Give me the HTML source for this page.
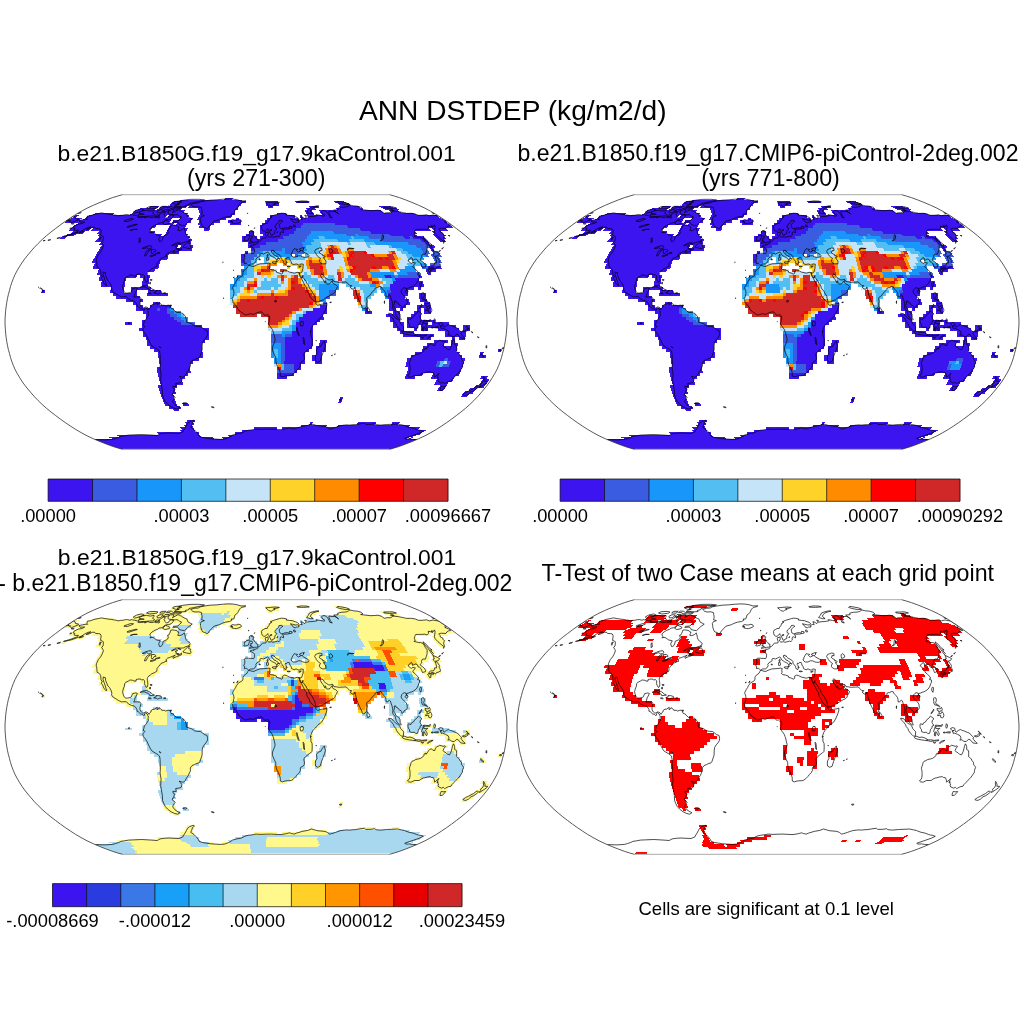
<!DOCTYPE html><html><head><meta charset="utf-8"><title>ANN DSTDEP</title><style>html,body{margin:0;padding:0;background:#fff}svg{display:block}text{font-family:"Liberation Sans",Arial,Helvetica,sans-serif;fill:#000}</style></head><body>
<svg width="1024" height="1024" viewBox="0 0 1024 1024">
<rect width="1024" height="1024" fill="#fff"/>
<defs>
<clipPath id="c0"><path d="M389.6 449.3L394.2 448.0L399.6 446.3L405.6 444.1L411.9 441.6L418.5 438.8L425.0 435.8L430.9 432.6L436.4 429.4L441.6 426.0L446.7 422.6L451.6 419.1L456.4 415.5L461.1 411.9L465.6 408.2L469.9 404.4L473.8 400.6L477.5 396.8L480.9 392.9L484.2 389.0L487.3 385.1L490.1 381.2L492.6 377.2L494.9 373.3L497.0 369.4L498.7 365.4L500.2 361.5L501.5 357.5L502.5 353.6L503.6 349.6L504.5 345.7L505.2 341.7L505.8 337.8L506.3 333.8L506.6 329.9L506.9 325.9L507.0 322.0L506.9 318.1L506.6 314.1L506.3 310.2L505.8 306.2L505.2 302.3L504.5 298.3L503.6 294.4L502.5 290.4L501.5 286.5L500.2 282.5L498.7 278.6L497.0 274.6L494.9 270.7L492.6 266.8L490.1 262.8L487.3 258.9L484.2 255.0L480.9 251.1L477.5 247.2L473.8 243.4L469.9 239.6L465.6 235.8L461.1 232.1L456.4 228.5L451.6 224.9L446.7 221.4L441.6 218.0L436.4 214.6L430.9 211.4L425.0 208.2L418.5 205.2L411.9 202.4L405.6 199.9L399.6 197.7L394.2 196.0L389.6 194.7L122.4 194.7L117.8 196.0L112.4 197.7L106.4 199.9L100.1 202.4L93.5 205.2L87.0 208.2L81.1 211.4L75.6 214.6L70.4 218.0L65.3 221.4L60.4 224.9L55.6 228.5L50.9 232.1L46.4 235.8L42.1 239.6L38.2 243.4L34.5 247.2L31.1 251.1L27.8 255.0L24.7 258.9L21.9 262.8L19.4 266.8L17.1 270.7L15.0 274.6L13.3 278.6L11.8 282.5L10.5 286.5L9.5 290.4L8.4 294.4L7.5 298.3L6.8 302.3L6.2 306.2L5.7 310.2L5.4 314.1L5.1 318.1L5.0 322.0L5.1 325.9L5.4 329.9L5.7 333.8L6.2 337.8L6.8 341.7L7.5 345.7L8.4 349.6L9.5 353.6L10.5 357.5L11.8 361.5L13.3 365.4L15.0 369.4L17.1 373.3L19.4 377.2L21.9 381.2L24.7 385.1L27.8 389.0L31.1 392.9L34.5 396.8L38.2 400.6L42.1 404.4L46.4 408.2L50.9 411.9L55.6 415.5L60.4 419.1L65.3 422.6L70.4 426.0L75.6 429.4L81.1 432.6L87.0 435.8L93.5 438.8L100.1 441.6L106.4 444.1L112.4 446.3L117.8 448.0L122.4 449.3z"/></clipPath>
<clipPath id="c1"><path d="M901.6 449.3L906.2 448.0L911.6 446.3L917.6 444.1L923.9 441.6L930.5 438.8L937.0 435.8L942.9 432.6L948.4 429.4L953.6 426.0L958.7 422.6L963.6 419.1L968.4 415.5L973.1 411.9L977.6 408.2L981.9 404.4L985.8 400.6L989.5 396.8L992.9 392.9L996.2 389.0L999.3 385.1L1002.1 381.2L1004.6 377.2L1006.9 373.3L1009.0 369.4L1010.7 365.4L1012.2 361.5L1013.5 357.5L1014.5 353.6L1015.6 349.6L1016.5 345.7L1017.2 341.7L1017.8 337.8L1018.3 333.8L1018.6 329.9L1018.9 325.9L1019.0 322.0L1018.9 318.1L1018.6 314.1L1018.3 310.2L1017.8 306.2L1017.2 302.3L1016.5 298.3L1015.6 294.4L1014.5 290.4L1013.5 286.5L1012.2 282.5L1010.7 278.6L1009.0 274.6L1006.9 270.7L1004.6 266.8L1002.1 262.8L999.3 258.9L996.2 255.0L992.9 251.1L989.5 247.2L985.8 243.4L981.9 239.6L977.6 235.8L973.1 232.1L968.4 228.5L963.6 224.9L958.7 221.4L953.6 218.0L948.4 214.6L942.9 211.4L937.0 208.2L930.5 205.2L923.9 202.4L917.6 199.9L911.6 197.7L906.2 196.0L901.6 194.7L634.4 194.7L629.8 196.0L624.4 197.7L618.4 199.9L612.1 202.4L605.5 205.2L599.0 208.2L593.1 211.4L587.6 214.6L582.4 218.0L577.3 221.4L572.4 224.9L567.6 228.5L562.9 232.1L558.4 235.8L554.1 239.6L550.2 243.4L546.5 247.2L543.1 251.1L539.8 255.0L536.7 258.9L533.9 262.8L531.4 266.8L529.1 270.7L527.0 274.6L525.3 278.6L523.8 282.5L522.5 286.5L521.5 290.4L520.4 294.4L519.5 298.3L518.8 302.3L518.2 306.2L517.7 310.2L517.4 314.1L517.1 318.1L517.0 322.0L517.1 325.9L517.4 329.9L517.7 333.8L518.2 337.8L518.8 341.7L519.5 345.7L520.4 349.6L521.5 353.6L522.5 357.5L523.8 361.5L525.3 365.4L527.0 369.4L529.1 373.3L531.4 377.2L533.9 381.2L536.7 385.1L539.8 389.0L543.1 392.9L546.5 396.8L550.2 400.6L554.1 404.4L558.4 408.2L562.9 411.9L567.6 415.5L572.4 419.1L577.3 422.6L582.4 426.0L587.6 429.4L593.1 432.6L599.0 435.8L605.5 438.8L612.1 441.6L618.4 444.1L624.4 446.3L629.8 448.0L634.4 449.3z"/></clipPath>
<clipPath id="c2"><path d="M389.6 854.3L394.2 853.0L399.6 851.3L405.6 849.1L411.9 846.6L418.5 843.8L425.0 840.8L430.9 837.6L436.4 834.4L441.6 831.0L446.7 827.6L451.6 824.1L456.4 820.5L461.1 816.9L465.6 813.2L469.9 809.4L473.8 805.6L477.5 801.8L480.9 797.9L484.2 794.0L487.3 790.1L490.1 786.2L492.6 782.2L494.9 778.3L497.0 774.4L498.7 770.4L500.2 766.5L501.5 762.5L502.5 758.6L503.6 754.6L504.5 750.7L505.2 746.7L505.8 742.8L506.3 738.8L506.6 734.9L506.9 730.9L507.0 727.0L506.9 723.1L506.6 719.1L506.3 715.2L505.8 711.2L505.2 707.3L504.5 703.3L503.6 699.4L502.5 695.4L501.5 691.5L500.2 687.5L498.7 683.6L497.0 679.6L494.9 675.7L492.6 671.8L490.1 667.8L487.3 663.9L484.2 660.0L480.9 656.1L477.5 652.2L473.8 648.4L469.9 644.6L465.6 640.8L461.1 637.1L456.4 633.5L451.6 629.9L446.7 626.4L441.6 623.0L436.4 619.6L430.9 616.4L425.0 613.2L418.5 610.2L411.9 607.4L405.6 604.9L399.6 602.7L394.2 601.0L389.6 599.7L122.4 599.7L117.8 601.0L112.4 602.7L106.4 604.9L100.1 607.4L93.5 610.2L87.0 613.2L81.1 616.4L75.6 619.6L70.4 623.0L65.3 626.4L60.4 629.9L55.6 633.5L50.9 637.1L46.4 640.8L42.1 644.6L38.2 648.4L34.5 652.2L31.1 656.1L27.8 660.0L24.7 663.9L21.9 667.8L19.4 671.8L17.1 675.7L15.0 679.6L13.3 683.6L11.8 687.5L10.5 691.5L9.5 695.4L8.4 699.4L7.5 703.3L6.8 707.3L6.2 711.2L5.7 715.2L5.4 719.1L5.1 723.1L5.0 727.0L5.1 730.9L5.4 734.9L5.7 738.8L6.2 742.8L6.8 746.7L7.5 750.7L8.4 754.6L9.5 758.6L10.5 762.5L11.8 766.5L13.3 770.4L15.0 774.4L17.1 778.3L19.4 782.2L21.9 786.2L24.7 790.1L27.8 794.0L31.1 797.9L34.5 801.8L38.2 805.6L42.1 809.4L46.4 813.2L50.9 816.9L55.6 820.5L60.4 824.1L65.3 827.6L70.4 831.0L75.6 834.4L81.1 837.6L87.0 840.8L93.5 843.8L100.1 846.6L106.4 849.1L112.4 851.3L117.8 853.0L122.4 854.3z"/></clipPath>
<clipPath id="c3"><path d="M901.6 854.3L906.2 853.0L911.6 851.3L917.6 849.1L923.9 846.6L930.5 843.8L937.0 840.8L942.9 837.6L948.4 834.4L953.6 831.0L958.7 827.6L963.6 824.1L968.4 820.5L973.1 816.9L977.6 813.2L981.9 809.4L985.8 805.6L989.5 801.8L992.9 797.9L996.2 794.0L999.3 790.1L1002.1 786.2L1004.6 782.2L1006.9 778.3L1009.0 774.4L1010.7 770.4L1012.2 766.5L1013.5 762.5L1014.5 758.6L1015.6 754.6L1016.5 750.7L1017.2 746.7L1017.8 742.8L1018.3 738.8L1018.6 734.9L1018.9 730.9L1019.0 727.0L1018.9 723.1L1018.6 719.1L1018.3 715.2L1017.8 711.2L1017.2 707.3L1016.5 703.3L1015.6 699.4L1014.5 695.4L1013.5 691.5L1012.2 687.5L1010.7 683.6L1009.0 679.6L1006.9 675.7L1004.6 671.8L1002.1 667.8L999.3 663.9L996.2 660.0L992.9 656.1L989.5 652.2L985.8 648.4L981.9 644.6L977.6 640.8L973.1 637.1L968.4 633.5L963.6 629.9L958.7 626.4L953.6 623.0L948.4 619.6L942.9 616.4L937.0 613.2L930.5 610.2L923.9 607.4L917.6 604.9L911.6 602.7L906.2 601.0L901.6 599.7L634.4 599.7L629.8 601.0L624.4 602.7L618.4 604.9L612.1 607.4L605.5 610.2L599.0 613.2L593.1 616.4L587.6 619.6L582.4 623.0L577.3 626.4L572.4 629.9L567.6 633.5L562.9 637.1L558.4 640.8L554.1 644.6L550.2 648.4L546.5 652.2L543.1 656.1L539.8 660.0L536.7 663.9L533.9 667.8L531.4 671.8L529.1 675.7L527.0 679.6L525.3 683.6L523.8 687.5L522.5 691.5L521.5 695.4L520.4 699.4L519.5 703.3L518.8 707.3L518.2 711.2L517.7 715.2L517.4 719.1L517.1 723.1L517.0 727.0L517.1 730.9L517.4 734.9L517.7 738.8L518.2 742.8L518.8 746.7L519.5 750.7L520.4 754.6L521.5 758.6L522.5 762.5L523.8 766.5L525.3 770.4L527.0 774.4L529.1 778.3L531.4 782.2L533.9 786.2L536.7 790.1L539.8 794.0L543.1 797.9L546.5 801.8L550.2 805.6L554.1 809.4L558.4 813.2L562.9 816.9L567.6 820.5L572.4 824.1L577.3 827.6L582.4 831.0L587.6 834.4L593.1 837.6L599.0 840.8L605.5 843.8L612.1 846.6L618.4 849.1L624.4 851.3L629.8 853.0L634.4 854.3z"/></clipPath>
</defs>
<g clip-path="url(#c0)">
<g shape-rendering="crispEdges"><path fill="#3c14f0" d="M120.7 449L391.3 449L389.6 450L122.4 450zM117.1 448L394.9 448L391.3 449L120.7 449zM113.0 447L399.0 447L394.9 448L117.1 448zM108.6 445L403.4 445L399.0 447L113.0 447zM103.9 444L408.1 444L403.4 445L108.6 445zM98.9 442L413.1 442L408.1 444L103.9 444zM93.9 439L418.1 439L413.1 442L98.9 442zM108.4 437L212.8 437L214.1 439L112.8 439zM222.1 437L410.0 437L405.4 439L223.1 439zM412.3 437L414.6 437L409.9 439L407.7 439zM116.2 435L199.7 435L201.2 437L120.0 437zM228.3 435L416.6 435L412.3 437L229.0 437zM156.7 432L198.3 432L199.7 435L159.2 435zM234.9 432L423.2 432L419.0 435L235.4 435zM179.4 430L194.4 430L195.8 432L181.1 432zM241.9 430L427.1 430L423.2 432L242.3 432zM180.2 427L193.0 427L194.4 430L181.9 430zM254 427h23v3h-23zM282.5 427L420.7 427L417.1 430L282.0 430zM183.9 425L191.7 425L193.0 427L185.4 427zM301.4 425L327.5 425L326.0 427L300.4 427zM338.0 425L411.1 425L407.9 427L336.3 427zM185.1 422L193.1 422L194.3 425L186.5 425zM310.3 422L313.0 422L311.8 425L309.2 425zM358.3 422L376.9 422L374.5 425L356.2 425zM392.9 422L400.9 422L398.0 425L390.2 425zM186.4 420L194.6 420L195.7 422L187.7 422zM172.7 409L178.5 409L179.7 411L174.0 411zM168.4 406L180.2 406L181.4 409L169.7 409zM164.1 403L176.1 403L177.3 406L165.4 406zM182.1 403L188.1 403L189.1 406L183.2 406zM162.9 400L175.0 400L176.1 403L164.1 403zM339.3 400L342.3 400L341.2 403L338.2 403zM161.7 397L174.0 397L175.0 400L162.9 400zM340.3 397L343.4 397L342.3 400L339.3 400zM160.6 394L173.1 394L174.0 397L161.7 397zM462.8 394L469.0 394L466.5 397L460.4 397zM159.5 391L175.3 391L176.2 394L160.6 394zM465.1 391L474.6 391L472.1 394L462.8 394zM158.5 388L174.4 388L175.3 391L159.5 391zM438.7 388L445.1 388L443.1 391L436.8 391zM470.6 388L476.9 388L474.6 391L468.3 391zM157.5 385L176.8 385L177.6 388L158.5 388zM440.5 385L447.0 385L445.1 388L438.7 388zM475.9 385L485.6 385L483.3 388L473.7 388zM159.9 382L182.6 382L183.2 385L160.7 385zM435.7 382L448.7 382L447.0 385L434.1 385zM481.2 382L487.7 382L485.6 385L479.1 385zM159.1 379L182.0 379L182.6 382L159.9 382zM437.2 379L453.6 379L452.0 382L435.7 382zM483.1 379L489.6 379L487.7 382L481.2 382zM158.3 376L184.7 376L185.2 379L159.1 379zM277 376h10v3h-10zM405.7 376L415.6 376L414.3 379L404.5 379zM432.1 376L455.1 376L453.6 379L430.7 379zM481.5 376L488.1 376L486.3 379L479.8 379zM157.6 373L187.5 373L188.0 376L158.3 376zM277 373h17v3h-17zM406.7 373L423.3 373L422.2 376L405.7 376zM433.3 373L459.9 373L458.4 376L432.1 376zM157.0 370L190.4 370L190.8 373L157.6 373zM294 370h3v3h-3zM407.7 370L461.2 370L459.9 373L406.7 373zM157 367h33v3h-33zM294 367h7v3h-7zM408.6 367L462.4 367L461.2 370L407.7 370zM160 364h30v3h-30zM294 364h7v3h-7zM406.0 364L436.4 364L435.5 367L405.2 367zM449.9 364L463.5 364L462.4 367L449.0 367zM159 361h34v3h-34zM284 361h21v3h-21zM315 361h7v3h-7zM406.7 361L437.2 361L436.4 364L406.0 364zM450.8 361L464.4 361L463.5 364L449.9 364zM159 358h40v3h-40zM285 358h20v3h-20zM312 358h10v3h-10zM407.2 358L444.7 358L444.0 361L406.7 361zM448.1 358L465.2 358L464.4 361L447.4 361zM158 355h45v3h-45zM285 355h20v3h-20zM312 355h10v3h-10zM411.2 355L462.4 355L461.7 358L410.6 358zM479.5 355L486.4 355L485.6 358L478.8 358zM158 352h45v3h-45zM285 352h20v3h-20zM316 352h6v3h-6zM415.1 352L459.7 352L459.0 355L414.6 355zM480.3 352L483.7 352L483.0 355L479.5 355zM154 349h48v3h-48zM285 349h24v3h-24zM316 349h10v3h-10zM422.5 349L456.9 349L456.3 352L422.0 352zM498.2 349L501.6 349L500.8 352L497.4 352zM150 346h52v3h-52zM285 346h27v3h-27zM316 346h10v3h-10zM423 346h34v3h-34zM147 343h55v3h-55zM285 343h28v3h-28zM319 343h7v3h-7zM427 343h17v3h-17zM451 343h7v3h-7zM147 340h58v3h-58zM285 340h28v3h-28zM320 340h7v3h-7zM434 340h14v3h-14zM451 340h4v3h-4zM146 337h63v3h-63zM285 337h28v3h-28zM420 337h11v3h-11zM452 337h3v3h-3zM459 337h6v3h-6zM143 334h66v3h-66zM292 334h21v3h-21zM403 334h31v3h-31zM445 334h21v3h-21zM143 331h66v3h-66zM292 331h21v3h-21zM400 331h14v3h-14zM445 331h21v3h-21zM139 328h70v3h-70zM296 328h17v3h-17zM397 328h7v3h-7zM414 328h3v3h-3zM421 328h7v3h-7zM438 328h21v3h-21zM463 328h7v3h-7zM142 325h60v3h-60zM296 325h17v3h-17zM393 325h11v3h-11zM407 325h11v3h-11zM421 325h35v3h-35zM463 325h7v3h-7zM125 322h7v3h-7zM142 322h39v3h-39zM296 322h21v3h-21zM393 322h11v3h-11zM407 322h21v3h-21zM432 322h17v3h-17zM142 320h35v2h-35zM299 320h21v2h-21zM390 320h10v2h-10zM407 320h28v2h-28zM146 317h28v3h-28zM299 317h25v3h-25zM390 317h10v3h-10zM407 317h14v3h-14zM146 314h24v3h-24zM303 314h20v3h-20zM386 314h14v3h-14zM411 314h10v3h-10zM143 311h24v3h-24zM306 311h21v3h-21zM365 311h7v3h-7zM393 311h7v3h-7zM414 311h7v3h-7zM424 311h7v3h-7zM136 308h21v3h-21zM160 308h7v3h-7zM313 308h14v3h-14zM365 308h3v3h-3zM389 308h7v3h-7zM400 308h3v3h-3zM417 308h4v3h-4zM424 308h7v3h-7zM136 305h7v3h-7zM150 305h21v3h-21zM320 305h7v3h-7zM389 305h17v3h-17zM417 305h14v3h-14zM133 302h7v3h-7zM153 302h7v3h-7zM389 302h21v3h-21zM424 302h6v3h-6zM126 299h17v3h-17zM389 299h20v3h-20zM420 299h7v3h-7zM116 296h24v3h-24zM388 296h17v3h-17zM419 296h7v3h-7zM113 293h24v3h-24zM147 293h21v3h-21zM388 293h20v3h-20zM419 293h7v3h-7zM41.9 290L45.3 290L44.6 293L41.2 293zM110 290h14v3h-14zM131 290h6v3h-6zM148 290h13v3h-13zM391 290h17v3h-17zM111 287h13v3h-13zM131 287h20v3h-20zM390 287h24v3h-24zM418 287h3v3h-3zM101 284h24v3h-24zM142 284h6v3h-6zM389.7 284L423.6 284L424.3 287L390.2 287zM101.8 281L125.5 281L124.9 284L101.1 284zM142 281h7v3h-7zM392.5 281L422.9 281L423.6 284L393.1 284zM99.2 278L126.1 278L125.5 281L98.4 281zM143 278h6v3h-6zM395.1 278L418.7 278L419.5 281L395.9 281zM100.1 275L136.9 275L136.2 278L99.2 278zM140.3 275L150.3 275L149.7 278L139.6 278zM384.3 275L391.0 275L391.8 278L385.1 278zM417.7 275L421.1 275L422.0 278L418.7 278zM97.8 272L147.6 272L146.9 275L96.8 275zM426.7 272L430.0 272L431.1 275L427.8 275zM98.9 269L155.0 269L154.3 272L97.8 272zM425.5 269L435.4 269L436.6 272L426.7 272zM93.6 266L159.1 266L158.3 269L92.3 269zM427.4 266L440.5 266L441.9 269L428.8 269zM95.0 263L159.9 263L159.1 266L93.6 266zM93.2 260L160.7 260L159.9 263L91.7 263zM241 260h3v3h-3zM94.8 257L168.0 257L167.2 260L93.2 260zM241 257h3v3h-3zM96.5 254L169.0 254L168.0 257L94.8 257zM241 254h4v3h-4zM98.3 251L179.3 251L178.4 254L96.5 254zM245 251h3v3h-3zM100.1 248L192.5 248L191.8 251L98.3 251zM251 248h3v3h-3zM429.6 248L432.7 248L434.8 251L431.6 251zM102.1 245L178.1 245L177.1 248L100.1 248zM181.1 245L193.3 245L192.5 248L180.2 248zM248 245h12v3h-12zM427.5 245L433.5 245L435.8 248L429.6 248zM101.1 242L191.1 242L190.3 245L99.0 245zM248 242h18v3h-18zM425.2 242L428.2 242L430.5 245L427.5 245zM97.4 239L192.1 239L191.1 242L95.1 242zM242 239h36v3h-36zM419.8 239L425.7 239L428.2 242L422.2 242zM437.5 239L443.4 239L446.2 242L440.2 242zM62.0 236L67.8 236L64.9 239L59.0 239zM99.8 236L190.1 236L189.1 239L97.4 239zM242 236h15v3h-15zM260 236h24v3h-24zM402.7 236L408.5 236L410.9 239L405.0 239zM411.5 236L423.1 236L425.7 239L413.9 239zM434.7 236L443.5 236L446.4 239L437.5 239zM68.0 234L76.6 234L73.6 236L64.9 236zM99.5 234L162.5 234L161.0 236L96.9 236zM165.4 234L188.3 234L187.2 236L163.9 236zM246 234h8v2h-8zM263 234h26v2h-26zM388.9 234L414.7 234L417.3 236L391.1 236zM431.9 234L443.3 234L446.4 236L434.7 236zM74.0 231L85.2 231L82.3 234L70.8 234zM99.3 231L155.7 231L153.9 234L96.6 234zM166.9 231L186.6 231L185.5 234L165.4 234zM249 231h5v3h-5zM259.9 231L293.7 231L294.3 234L260.0 234zM369.7 231L414.8 231L417.5 234L371.7 234zM431.7 231L440.2 231L443.3 234L434.7 234zM71.6 228L91.0 228L88.1 231L68.3 231zM93.8 228L151.9 228L150.0 231L90.9 231zM168.5 228L187.9 228L186.6 231L166.9 231zM204.5 228L210.0 228L209.2 231L203.5 231zM259.8 228L295.8 228L296.5 231L259.9 231zM359.4 228L428.6 228L431.7 231L361.3 231zM431.4 228L445.2 228L448.6 231L434.5 231zM75.0 225L156.5 225L154.7 228L71.6 228zM170.1 225L186.4 225L185.1 228L168.5 228zM200.0 225L210.9 225L210.0 228L198.9 228zM259.7 225L300.5 225L301.3 228L259.8 228zM346.7 225L449.9 225L453.5 228L348.4 228zM78.5 223L174.4 223L172.8 225L75.0 225zM177.1 223L187.7 223L186.4 225L175.5 225zM198.4 223L214.4 223L213.6 225L197.3 225zM230 223h11v2h-11zM262.3 223L302.3 223L303.2 225L262.5 225zM334.3 223L446.2 223L449.9 225L335.8 225zM68.0 220L170.8 220L169.1 223L64.2 223zM173.4 220L191.7 220L190.4 223L171.7 223zM199.5 220L220.4 220L219.7 223L198.4 223zM228 220h13v3h-13zM264.8 220L444.0 220L447.8 223L265.0 223zM71.9 218L83.1 218L79.4 220L68.0 220zM85.6 218L172.6 218L170.8 220L82.0 220zM180.2 218L193.0 218L191.7 220L178.6 220zM198.1 218L226.3 218L225.7 220L196.9 220zM236 218h3v2h-3zM267.2 218L297.9 218L298.8 220L267.4 220zM300.4 218L440.1 218L444.0 220L301.4 220zM75.9 215L79.3 215L75.4 218L71.9 218zM89.3 215L166.9 215L164.9 218L85.6 218zM169.4 215L189.4 215L187.9 218L167.5 218zM199.4 215L231.9 215L231.4 218L198.1 218zM269.5 215L294.5 215L295.3 218L269.8 218zM299.5 215L302.0 215L303.0 218L300.4 218zM307.0 215L436.1 215L440.1 218L308.1 218zM95.6 213L115.1 213L111.8 215L91.8 215zM132.3 213L188.5 213L186.9 215L129.3 215zM200.7 213L234.9 213L234.4 215L199.4 215zM276.5 213L286.3 213L287.0 215L277.0 215zM305.8 213L313.2 213L314.5 215L307.0 215zM320.5 213L413.4 213L417.1 215L322.0 215zM135.3 210L185.4 210L183.6 213L132.3 213zM199.7 210L235.4 210L234.9 213L198.3 213zM304.6 210L311.7 210L313.2 213L305.8 213zM318.9 210L380.9 210L384.0 213L320.5 213zM388.0 210L397.6 210L401.2 213L391.4 213zM140.9 208L157.2 208L154.4 210L137.7 210zM159.5 208L182.7 208L180.6 210L156.8 210zM198.9 208L238.3 208L237.8 210L197.3 210zM305.6 208L314.9 208L316.5 210L307.0 210zM335.7 208L361.3 208L364.2 210L338.0 210zM382.1 208L396.0 208L399.9 210L385.6 210zM151.1 206L160.1 206L157.2 208L147.9 208zM162.3 206L187.1 206L185.0 208L159.5 208zM189.3 206L238.8 206L238.3 208L187.3 208zM268 206h5v2h-5zM308.6 206L317.6 206L319.5 208L310.2 208zM337.9 206L358.1 206L361.3 208L340.4 208zM378.4 206L389.7 206L393.7 208L382.1 208zM171.8 203L241.6 203L241.1 206L169.1 206zM265.6 203L278.6 203L279.4 206L265.9 206zM337.5 203L348.4 203L351.4 206L340.1 206zM174.4 201L246.2 201L245.9 203L171.8 203zM265.3 201L277.9 201L278.6 203L265.6 203zM294.8 201L307.5 201L309.2 203L296.1 203zM332.9 201L343.4 201L346.3 203L335.4 203zM181.0 200L242.4 200L242.0 201L178.6 201zM225.0 198L232.9 198L232.2 200L224.0 200z"/>
<path fill="#3a5ce0" d="M277 370h17v3h-17zM284 367h10v3h-10zM284 364h10v3h-10zM436.4 364L439.8 364L438.9 367L435.5 367zM443.2 364L449.9 364L449.0 367L442.2 367zM281 361h3v3h-3zM437.2 361L440.6 361L439.8 364L436.4 364zM447.4 361L450.8 361L449.9 364L446.6 364zM281 358h4v3h-4zM444.7 358L448.1 358L447.4 361L444.0 361zM281 355h4v3h-4zM281 352h4v3h-4zM281 349h4v3h-4zM281 346h4v3h-4zM281 343h4v3h-4zM271 340h14v3h-14zM271 337h14v3h-14zM271 334h11v3h-11zM285 334h7v3h-7zM181 322h14v3h-14zM177 320h7v2h-7zM174 317h7v3h-7zM170 314h7v3h-7zM167 311h7v3h-7zM157 308h3v3h-3zM167 308h3v3h-3zM323 302h4v3h-4zM326 296h4v3h-4zM329 293h7v3h-7zM329 290h7v3h-7zM387 290h4v3h-4zM391.0 275L394.3 275L395.1 278L391.8 278zM397.7 275L417.7 275L418.7 278L398.5 278zM406.7 272L420.0 272L421.1 275L407.7 275zM241 269h3v3h-3zM420.9 266L427.4 266L428.8 269L422.2 269zM241 263h6v3h-6zM429.3 263L439.0 263L440.5 266L430.7 266zM244 260h7v3h-7zM434.1 260L440.5 260L442.2 263L435.7 263zM244 257h10v3h-10zM432.4 257L438.7 257L440.5 260L434.1 260zM245 254h12v3h-12zM295 254h3v3h-3zM424.2 254L427.3 254L429.2 257L426.0 257zM430.5 254L439.9 254L441.9 257L432.4 257zM251 251h9v3h-9zM285 251h19v3h-19zM422.3 251L428.5 251L430.5 254L424.2 254zM431.6 251L437.9 251L439.9 254L433.6 254zM254 248h28v3h-28zM285 248h19v3h-19zM420.4 248L426.5 248L428.5 251L422.3 251zM260 245h43v3h-43zM415.3 245L427.5 245L429.6 248L417.3 248zM266.1 242L302.1 242L302.8 245L266.3 245zM407.2 242L425.2 242L427.5 245L409.2 245zM277.8 239L304.4 239L305.1 242L278.1 242zM381.3 239L419.8 239L422.2 242L383.2 242zM283.3 236L306.6 236L307.4 239L283.7 239zM367.8 236L402.7 236L405.0 239L369.5 239zM408.5 236L411.5 236L413.9 239L410.9 239zM288.6 234L308.7 234L309.5 236L289.1 236zM345.9 234L354.5 234L356.1 236L347.4 236zM357.4 234L388.9 234L391.1 236L359.0 236zM293.7 231L310.6 231L311.5 234L294.3 234zM333.1 231L369.7 231L371.7 234L334.5 234zM295.8 228L359.4 228L361.3 231L296.5 231zM300.5 225L346.7 225L348.4 228L301.3 228zM302.3 223L334.3 223L335.8 225L303.2 225z"/>
<path fill="#1896fa" d="M274 361h7v3h-7zM274 358h7v3h-7zM271 355h3v3h-3zM278 355h3v3h-3zM271 352h3v3h-3zM278 352h3v3h-3zM271 349h3v3h-3zM278 349h3v3h-3zM271 346h10v3h-10zM271 343h10v3h-10zM282 334h3v3h-3zM282 331h10v3h-10zM292 328h4v3h-4zM292 325h4v3h-4zM184 320h4v2h-4zM296 320h3v2h-3zM181 317h7v3h-7zM177 314h4v3h-4zM174 311h7v3h-7zM170 308h4v3h-4zM362 308h3v3h-3zM319 299h7v3h-7zM319 296h7v3h-7zM385 296h3v3h-3zM319 293h10v3h-10zM384 293h4v3h-4zM319 290h10v3h-10zM381 290h6v3h-6zM230 287h3v3h-3zM319 287h20v3h-20zM380 287h10v3h-10zM230 284h7v3h-7zM319 284h20v3h-20zM370 284h6v3h-6zM234 281h3v3h-3zM234 278h6v3h-6zM391.8 278L395.1 278L395.9 281L392.5 281zM237 275h7v3h-7zM370.9 275L384.3 275L385.1 278L371.6 278zM394.3 275L397.7 275L398.5 278L395.1 278zM241 272h6v3h-6zM370.2 272L393.5 272L394.3 275L370.9 275zM396.8 272L406.7 272L407.7 275L397.7 275zM244 269h3v3h-3zM399.1 269L415.6 269L416.7 272L400.1 272zM244 266h3v3h-3zM404.5 266L414.3 266L415.6 269L405.7 269zM247 263h4v3h-4zM419.5 263L426.0 263L427.4 266L420.9 266zM286 257h3v3h-3zM419.6 257L422.8 257L424.5 260L421.2 260zM276 254h16v3h-16zM411.6 254L424.2 254L426.0 257L413.2 257zM260 251h3v3h-3zM273 251h12v3h-12zM406.7 251L422.3 251L424.2 254L408.4 254zM282 248h3v3h-3zM304 248h3v3h-3zM401.9 248L420.4 248L422.3 251L403.6 251zM302.8 245L305.8 245L306.4 248L303.4 248zM391.0 245L415.3 245L417.3 248L392.7 248zM302.1 242L311.1 242L311.9 245L302.8 245zM374.2 242L407.2 242L409.2 245L375.8 245zM304.4 239L313.3 239L314.1 242L305.1 242zM337.0 239L348.8 239L350.2 242L338.2 242zM363.6 239L381.3 239L383.2 242L365.2 242zM306.6 236L318.3 236L319.2 239L307.4 239zM324.1 236L350.3 236L351.8 239L325.1 239zM353.2 236L367.8 236L369.5 239L354.7 239zM308.7 234L345.9 234L347.4 236L309.5 236zM354.5 234L357.4 234L359.0 236L356.1 236zM310.6 231L333.1 231L334.5 234L311.5 234z"/>
<path fill="#52bef2" d="M281 367h3v3h-3zM281 364h3v3h-3zM439.8 364L443.2 364L442.2 367L438.9 367zM440.6 361L444.0 361L443.2 364L439.8 364zM274 355h4v3h-4zM274 352h4v3h-4zM274 349h4v3h-4zM271 331h11v3h-11zM282 328h10v3h-10zM289 325h3v3h-3zM292 322h4v3h-4zM292 320h4v2h-4zM296 317h3v3h-3zM181 314h3v3h-3zM296 314h7v3h-7zM303 311h3v3h-3zM361 305h7v3h-7zM365 302h3v3h-3zM364 299h4v3h-4zM230 296h3v3h-3zM364 296h7v3h-7zM230 293h7v3h-7zM364 293h10v3h-10zM230 290h10v3h-10zM254 290h3v3h-3zM363 290h14v3h-14zM233 287h7v3h-7zM257 287h14v3h-14zM274 287h4v3h-4zM315 287h4v3h-4zM360 287h17v3h-17zM237 284h7v3h-7zM261 284h20v3h-20zM312 284h7v3h-7zM346 284h24v3h-24zM383 284h7v3h-7zM237 281h7v3h-7zM261 281h17v3h-17zM308 281h31v3h-31zM342 281h17v3h-17zM385.7 281L392.5 281L393.1 284L386.3 284zM240 278h7v3h-7zM264 278h3v3h-3zM271 278h7v3h-7zM304 278h14v3h-14zM325 278h10v3h-10zM345 278h10v3h-10zM381.7 278L391.8 278L392.5 281L382.3 281zM244 275h10v3h-10zM301 275h10v3h-10zM328 275h6v3h-6zM348 275h3v3h-3zM247 272h7v3h-7zM304 272h3v3h-3zM247 269h7v3h-7zM247 266h7v3h-7zM251 263h3v3h-3zM406.5 263L419.5 263L420.9 266L407.8 266zM251 260h6v3h-6zM264 260h3v3h-3zM411.6 260L421.2 260L422.8 263L413.0 263zM254 257h6v3h-6zM264 257h6v3h-6zM289 257h16v3h-16zM406.9 257L419.6 257L421.2 260L408.4 260zM257 254h19v3h-19zM298 254h4v3h-4zM305 254h3v3h-3zM405.3 254L411.6 254L413.2 257L406.9 257zM263 251h10v3h-10zM303.9 251L319.5 251L320.2 254L304.5 254zM400.5 251L406.7 251L408.4 254L402.1 254zM306.4 248L318.8 248L319.5 251L307.0 251zM395.7 248L401.9 248L403.6 251L397.4 251zM305.8 245L321.0 245L321.8 248L306.4 248zM366.6 245L369.7 245L371.1 248L368.0 248zM387.9 245L391.0 245L392.7 248L389.6 248zM311.1 242L320.2 242L321.0 245L311.9 245zM347.2 242L350.2 242L351.4 245L348.4 245zM365.2 242L374.2 242L375.8 245L366.6 245zM313.3 239L337.0 239L338.2 242L314.1 242zM348.8 239L363.6 239L365.2 242L350.2 242zM318.3 236L324.1 236L325.1 239L319.2 239zM350.3 236L353.2 236L354.7 239L351.8 239z"/>
<path fill="#c6e4f8" d="M274 364h4v3h-4zM444.0 361L447.4 361L446.6 364L443.2 364zM268 328h14v3h-14zM282 325h7v3h-7zM289 322h3v3h-3zM289 320h3v2h-3zM292 317h4v3h-4zM292 314h4v3h-4zM296 311h7v3h-7zM302 308h11v3h-11zM316 305h4v3h-4zM358 305h3v3h-3zM230 302h3v3h-3zM361 302h4v3h-4zM230 299h3v3h-3zM361 299h3v3h-3zM233 296h4v3h-4zM361 296h3v3h-3zM237 293h3v3h-3zM250 293h7v3h-7zM316 293h3v3h-3zM360 293h4v3h-4zM240 290h4v3h-4zM257 290h14v3h-14zM274 290h4v3h-4zM316 290h3v3h-3zM360 290h3v3h-3zM240 287h4v3h-4zM254 287h3v3h-3zM271 287h3v3h-3zM278 287h7v3h-7zM312 287h3v3h-3zM349 287h11v3h-11zM377 287h3v3h-3zM244 284h3v3h-3zM257 284h4v3h-4zM281 284h7v3h-7zM308 284h4v3h-4zM380 284h3v3h-3zM244 281h3v3h-3zM257 281h4v3h-4zM278 281h3v3h-3zM284 281h4v3h-4zM301 281h7v3h-7zM339 281h3v3h-3zM359 281h10v3h-10zM383 281h3v3h-3zM247 278h7v3h-7zM257 278h7v3h-7zM267 278h4v3h-4zM278 278h3v3h-3zM284 278h4v3h-4zM301 278h3v3h-3zM318 278h7v3h-7zM335 278h3v3h-3zM342 278h3v3h-3zM355 278h3v3h-3zM378.3 278L381.7 278L382.3 281L379.0 281zM254 275h7v3h-7zM264 275h3v3h-3zM271 275h6v3h-6zM287 275h4v3h-4zM298 275h3v3h-3zM311 275h7v3h-7zM324 275h4v3h-4zM334 275h4v3h-4zM344 275h4v3h-4zM351 275h4v3h-4zM254 272h3v3h-3zM274 272h23v3h-23zM301 272h3v3h-3zM307 272h4v3h-4zM327 272h10v3h-10zM343.6 272L350.3 272L350.9 275L344.2 275zM393.5 272L396.8 272L397.7 275L394.3 275zM274 269h3v3h-3zM304 269h6v3h-6zM327 269h10v3h-10zM343.0 269L346.3 269L346.9 272L343.6 272zM379.3 269L389.2 269L390.1 272L380.2 272zM395.8 269L399.1 269L400.1 272L396.8 272zM303 266h4v3h-4zM326.0 266L339.1 266L339.7 269L326.5 269zM342.3 266L345.6 266L346.3 269L343.0 269zM398.0 266L404.5 266L405.7 269L399.1 269zM254 263h13v3h-13zM303 263h3v3h-3zM325.4 263L344.9 263L345.6 266L326.0 266zM396.8 263L406.5 263L407.8 266L398.0 266zM267 260h3v3h-3zM290 260h16v3h-16zM324.8 260L344.1 260L344.9 263L325.4 263zM398.7 260L408.4 260L409.8 263L400.0 263zM270 257h10v3h-10zM305 257h3v3h-3zM333.6 257L343.2 257L344.1 260L334.4 260zM400.5 257L406.9 257L408.4 260L402.0 260zM307.6 254L323.4 254L324.1 257L308.2 257zM332.8 254L342.3 254L343.2 257L333.6 257zM395.8 254L405.3 254L406.9 257L397.3 257zM319.5 251L322.6 251L323.4 254L320.2 254zM366.2 251L388.0 251L389.5 254L367.5 254zM394.3 251L400.5 251L402.1 254L395.8 254zM318.8 248L324.9 248L325.7 251L319.5 251zM340.3 248L346.5 248L347.5 251L341.3 251zM352.6 248L395.7 248L397.4 251L353.8 251zM321.0 245L327.1 245L328.0 248L321.8 248zM339.3 245L366.6 245L368.0 248L340.3 248zM369.7 245L387.9 245L389.6 248L371.1 248zM320.2 242L347.2 242L348.4 245L321.0 245zM350.2 242L365.2 242L366.6 245L351.4 245z"/>
<path fill="#ffd22a" d="M278 325h4v3h-4zM282 322h7v3h-7zM285 320h4v2h-4zM289 317h3v3h-3zM313 305h3v3h-3zM316 302h4v3h-4zM233 299h4v3h-4zM237 296h3v3h-3zM240 293h10v3h-10zM244 290h3v3h-3zM250 290h4v3h-4zM278 290h7v3h-7zM312 290h4v3h-4zM285 287h3v3h-3zM308 287h4v3h-4zM305 284h3v3h-3zM261 275h3v3h-3zM267 275h4v3h-4zM271 272h3v3h-3zM297 272h4v3h-4zM254 269h3v3h-3zM300 269h4v3h-4zM339.7 269L343.0 269L343.6 272L340.3 272zM254 266h7v3h-7zM287 266h3v3h-3zM297 266h6v3h-6zM339.1 266L342.3 266L343.0 269L339.7 269zM345.6 266L348.9 266L349.6 269L346.3 269zM290 263h13v3h-13zM270 260h10v3h-10zM286 260h4v3h-4zM321.5 260L324.8 260L325.4 263L322.1 263zM395.5 260L398.7 260L400.0 263L396.8 263zM280 257h6v3h-6zM311.3 257L327.3 257L328.0 260L311.9 260zM397.3 257L400.5 257L402.0 260L398.7 260zM342.3 254L345.4 254L346.4 257L343.2 257zM322.6 251L325.7 251L326.5 254L323.4 254zM341.3 251L344.4 251L345.4 254L342.3 254zM336.2 245L339.3 245L340.3 248L337.2 248z"/>
<path fill="#ff8c00" d="M278 364h3v3h-3zM268 325h10v3h-10zM278 322h4v3h-4zM282 320h3v2h-3zM285 317h4v3h-4zM289 314h3v3h-3zM292 311h4v3h-4zM299 308h3v3h-3zM309 305h4v3h-4zM233 302h4v3h-4zM313 302h3v3h-3zM358 302h3v3h-3zM237 299h3v3h-3zM316 299h3v3h-3zM240 296h17v3h-17zM316 296h3v3h-3zM257 293h14v3h-14zM274 293h14v3h-14zM312 293h4v3h-4zM247 290h3v3h-3zM271 290h3v3h-3zM285 290h3v3h-3zM309 290h3v3h-3zM357 290h3v3h-3zM244 287h3v3h-3zM250 287h4v3h-4zM288 287h3v3h-3zM305 287h3v3h-3zM288 284h3v3h-3zM302 284h3v3h-3zM376 284h4v3h-4zM247 281h7v3h-7zM281 281h3v3h-3zM288 281h3v3h-3zM298 281h3v3h-3zM369 281h3v3h-3zM379 281h4v3h-4zM254 278h3v3h-3zM288 278h3v3h-3zM298 278h3v3h-3zM358 278h4v3h-4zM371.6 278L378.3 278L379.0 281L372.2 281zM277 275h4v3h-4zM284 275h3v3h-3zM291 275h3v3h-3zM318 275h6v3h-6zM341 275h3v3h-3zM355 275h3v3h-3zM367.6 275L370.9 275L371.6 278L368.2 278zM261 272h10v3h-10zM311 272h3v3h-3zM324 272h3v3h-3zM341 272h3v3h-3zM366.9 272L370.2 272L370.9 275L367.6 275zM257 269h4v3h-4zM270 269h4v3h-4zM284 269h3v3h-3zM310 269h4v3h-4zM323 269h4v3h-4zM337 269h3v3h-3zM346.3 269L349.6 269L350.3 272L346.9 272zM369.4 269L379.3 269L380.2 272L370.2 272zM389.2 269L395.8 269L396.8 272L390.1 272zM261 266h6v3h-6zM307 266h3v3h-3zM323 266h3v3h-3zM348.9 266L352.2 266L352.9 269L349.6 269zM381.6 266L388.2 266L389.2 269L382.6 269zM394.7 266L398.0 266L399.1 269L395.8 269zM267 263h10v3h-10zM283 263h4v3h-4zM306 263h3v3h-3zM322 263h4v3h-4zM344.9 263L348.1 263L348.9 266L345.6 266zM393.5 263L396.8 263L398.0 266L394.7 266zM280 260h6v3h-6zM306 260h3v3h-3zM312 260h10v3h-10zM344.1 260L347.3 260L348.1 263L344.9 263zM392.3 260L395.5 260L396.8 263L393.5 263zM308 257h4v3h-4zM327.3 257L330.5 257L331.2 260L328.0 260zM343.2 257L346.4 257L347.3 260L344.1 260zM394.1 257L397.3 257L398.7 260L395.5 260zM323.4 254L326.5 254L327.3 257L324.1 257zM345.4 254L348.6 254L349.6 257L346.4 257zM373.8 254L386.4 254L387.8 257L375.0 257zM392.7 254L395.8 254L397.3 257L394.1 257zM325.7 251L328.8 251L329.7 254L326.5 254zM338.2 251L341.3 251L342.3 254L339.1 254zM344.4 251L347.5 251L348.6 254L345.4 254zM388.0 251L391.1 251L392.7 254L389.5 254zM324.9 248L328.0 248L328.8 251L325.7 251zM337.2 248L340.3 248L341.3 251L338.2 251zM346.5 248L352.6 248L353.8 251L347.5 251zM327.1 245L330.1 245L331.1 248L328.0 248zM333.2 245L336.2 245L337.2 248L334.1 248z"/>
<path fill="#ff0000" d="M277 367h4v3h-4zM309 302h4v3h-4zM247 299h3v3h-3zM261 296h3v3h-3zM275 296h3v3h-3zM357 296h4v3h-4zM305 290h4v3h-4zM247 287h3v3h-3zM291 287h4v3h-4zM254 284h3v3h-3zM291 281h4v3h-4zM372 281h4v3h-4zM261 269h3v3h-3zM349.6 269L352.9 269L353.6 272L350.3 272zM320 266h3v3h-3zM352.2 266L355.4 266L356.2 269L352.9 269zM371.8 266L375.1 266L376.0 269L372.7 269zM391.4 266L394.7 266L395.8 269L392.5 269zM346.4 257L349.6 257L350.5 260L347.3 260zM378.2 257L381.4 257L382.7 260L379.4 260zM384.6 257L387.8 257L389.1 260L385.9 260zM329.7 254L332.8 254L333.6 257L330.5 257zM348.6 254L351.7 254L352.7 257L349.6 257zM370.6 254L373.8 254L375.0 257L371.8 257zM332.0 251L335.1 251L336.0 254L332.8 254zM350.6 251L353.8 251L354.9 254L351.7 254zM363.1 251L366.2 251L367.5 254L364.3 254z"/>
<path fill="#d02828" d="M268 322h10v3h-10zM268 320h14v2h-14zM268 317h17v3h-17zM240 314h17v3h-17zM261 314h28v3h-28zM236 311h56v3h-56zM236 308h63v3h-63zM233 305h76v3h-76zM237 302h72v3h-72zM240 299h7v3h-7zM250 299h66v3h-66zM357 299h4v3h-4zM257 296h4v3h-4zM264 296h11v3h-11zM278 296h38v3h-38zM354 296h3v3h-3zM271 293h3v3h-3zM288 293h24v3h-24zM353 293h7v3h-7zM288 290h17v3h-17zM353 290h4v3h-4zM295 287h10v3h-10zM247 284h7v3h-7zM291 284h11v3h-11zM254 281h3v3h-3zM295 281h3v3h-3zM376 281h3v3h-3zM281 278h3v3h-3zM291 278h7v3h-7zM338 278h4v3h-4zM362 278h10v3h-10zM281 275h3v3h-3zM294 275h4v3h-4zM338 275h3v3h-3zM357.6 275L367.6 275L368.2 278L358.2 278zM257 272h4v3h-4zM314 272h10v3h-10zM337 272h4v3h-4zM350.3 272L366.9 272L367.6 275L350.9 275zM264 269h6v3h-6zM280 269h4v3h-4zM314 269h9v3h-9zM352.9 269L369.4 269L370.2 272L353.6 272zM267 266h3v3h-3zM310 266h10v3h-10zM355.4 266L371.8 266L372.7 269L356.2 269zM375.1 266L381.6 266L382.6 269L376.0 269zM388.2 266L391.4 266L392.5 269L389.2 269zM309 263h13v3h-13zM348.1 263L393.5 263L394.7 266L348.9 266zM309 260h3v3h-3zM347.3 260L392.3 260L393.5 263L348.1 263zM330.5 257L333.6 257L334.4 260L331.2 260zM349.6 257L378.2 257L379.4 260L350.5 260zM381.4 257L384.6 257L385.9 260L382.7 260zM387.8 257L394.1 257L395.5 260L389.1 260zM326.5 254L329.7 254L330.5 257L327.3 257zM351.7 254L370.6 254L371.8 257L352.7 257zM386.4 254L392.7 254L394.1 257L387.8 257zM328.8 251L332.0 251L332.8 254L329.7 254zM335.1 251L338.2 251L339.1 254L336.0 254zM347.5 251L350.6 251L351.7 254L348.6 254zM353.8 251L363.1 251L364.3 254L354.9 254zM391.1 251L394.3 251L395.8 254L392.7 254zM328.0 248L337.2 248L338.2 251L328.8 251zM330.1 245L333.2 245L334.1 248L331.1 248z"/></g>
<path fill="none" stroke="#000" stroke-width="0.7" stroke-linejoin="round" d="M79.0 220.6L80.1 222.2L84.7 222.0L82.2 223.5L78.1 224.2L74.0 226.2L73.1 227.8L75.0 228.5L73.9 229.9L75.1 230.4L78.5 230.4L76.5 232.1L70.0 234.5L63.5 236.4L67.4 235.8L72.1 234.6L77.9 232.4L81.8 231.0L84.3 229.2L88.2 227.3L90.9 226.8L86.2 229.5L89.2 228.8L92.4 227.3L94.7 227.3L95.6 228.5L98.3 228.6L100.2 228.9L101.2 230.8L100.9 232.9L100.6 235.4L102.6 236.1L103.4 236.9L103.3 238.8L103.0 241.1L101.6 242.2L102.8 244.4L103.4 245.7L103.4 245.8L102.3 248.8L100.6 251.9L98.4 254.5L96.6 258.3L96.2 260.6L96.8 262.7L96.8 264.2L97.2 267.4L99.0 268.2L99.6 268.8L100.6 270.4L100.8 272.0L101.0 274.6L102.4 277.0L101.0 278.1L102.6 279.9L103.7 282.9L106.1 285.9L106.9 285.1L105.9 283.3L105.3 281.0L104.2 277.8L103.1 274.6L103.2 272.0L105.4 272.6L105.6 275.4L106.7 278.0L107.9 281.0L109.5 282.5L111.0 285.2L111.9 288.1L111.5 289.8L112.8 291.9L115.8 293.7L118.5 295.5L121.6 296.9L125.1 296.6L126.7 296.9L128.6 299.1L131.5 300.4L134.5 301.2L134.9 301.6L136.2 303.1L137.0 304.6L136.9 306.2L138.3 306.5L139.7 308.3L140.6 308.9L142.3 309.2L143.5 310.5L144.5 310.2L144.4 308.9L145.6 307.8L147.2 308.9L147.7 310.5L148.3 311.0L148.1 313.3L148.3 315.7L146.6 318.1L145.9 319.5L144.4 320.7L143.8 323.6L143.1 325.5L144.5 325.9L144.8 326.7L144.1 327.4L142.8 329.1L143.3 331.5L145.0 333.4L146.8 336.2L149.0 340.9L150.5 343.8L152.2 346.2L156.2 348.5L158.0 349.8L159.5 351.0L160.1 354.4L160.2 359.1L160.4 363.0L160.1 367.8L160.5 370.9L161.1 374.1L160.8 378.0L160.7 380.7L161.3 384.3L161.9 387.9L162.4 390.6L162.6 395.6L163.7 398.3L165.2 401.4L167.5 404.0L170.9 406.7L174.6 408.5L177.9 409.2L179.9 407.7L177.9 406.7L175.1 405.0L174.6 404.1L173.4 402.9L172.7 401.1L173.7 399.4L175.2 397.2L172.3 394.9L172.6 393.2L174.1 392.9L173.8 390.6L175.3 389.3L173.4 388.6L172.8 386.4L176.3 386.4L175.7 383.5L179.7 382.9L181.4 382.0L181.9 379.5L180.8 378.0L179.0 376.3L179.8 376.3L182.1 377.1L183.8 377.1L185.3 375.4L186.6 372.8L188.3 370.6L189.3 368.1L190.5 365.9L190.3 362.9L192.1 360.5L194.5 359.6L197.1 358.3L198.8 358.1L200.0 356.4L200.9 353.6L202.1 350.1L202.2 345.7L202.6 342.5L204.3 339.8L206.0 337.8L207.4 335.4L207.6 333.4L207.0 330.4L204.5 329.6L202.4 327.8L200.2 326.4L197.7 326.4L194.7 325.9L191.9 323.9L189.1 322.9L186.3 322.0L186.3 319.2L185.0 315.7L182.9 313.6L180.8 312.8L179.2 312.5L176.7 312.5L175.0 311.1L172.9 308.9L171.2 308.4L170.2 306.2L169.3 305.1L167.2 305.4L165.8 306.1L164.2 305.3L161.7 305.3L161.3 304.3L159.0 302.7L158.6 303.8L157.0 304.6L157.2 303.4L157.3 302.4L156.0 303.1L154.4 304.2L153.0 304.2L151.3 305.3L150.9 307.0L149.3 308.3L149.0 309.4L148.5 308.3L147.0 307.2L145.5 307.0L143.8 308.0L142.5 307.8L141.4 307.0L140.8 306.2L140.1 304.8L140.0 302.3L140.6 299.9L141.1 298.3L139.5 297.1L137.4 296.9L135.1 296.9L133.8 297.1L134.6 295.2L135.0 293.0L136.1 291.2L137.4 288.5L135.8 287.9L132.6 288.7L131.9 290.4L131.5 291.7L130.0 292.6L127.6 293.0L125.8 293.1L124.5 292.3L123.9 291.2L123.0 288.9L122.6 286.5L123.2 284.1L124.4 281.1L124.6 278.9L125.8 277.3L128.2 276.2L129.2 275.4L130.8 275.0L132.7 275.3L133.9 275.9L136.0 276.2L136.2 274.5L137.6 274.2L139.7 274.0L141.0 274.2L141.7 275.1L143.3 274.5L144.3 275.4L144.8 277.0L144.5 278.6L145.1 280.2L145.6 281.3L146.0 282.2L147.0 282.2L147.6 281.0L147.8 279.4L147.7 277.3L147.4 275.4L147.2 273.9L147.8 272.3L148.8 271.0L150.5 269.9L151.9 268.6L153.2 268.3L155.2 267.2L156.7 266.3L157.0 264.4L156.9 263.6L157.9 262.3L158.8 261.2L159.9 260.0L161.0 258.4L164.0 257.3L165.2 256.5L166.4 256.4L167.0 255.8L166.1 255.8L166.1 254.8L166.7 253.9L167.6 253.1L169.3 252.6L170.7 252.0L172.2 251.4L173.6 250.8L175.3 250.2L172.9 252.3L173.1 253.3L175.0 252.3L176.5 251.7L179.2 250.8L181.4 249.8L181.5 248.1L179.9 249.5L178.2 250.0L176.8 249.4L176.0 248.3L176.1 246.9L175.3 246.4L177.0 246.0L177.6 245.1L175.7 244.6L173.0 245.4L171.5 246.0L172.5 244.9L174.7 244.0L175.8 243.1L178.7 242.9L181.3 243.1L183.5 242.9L185.3 241.9L187.8 241.1L189.7 240.0L190.1 238.4L188.8 237.0L187.3 235.8L186.0 234.6L185.4 232.6L185.2 231.1L184.6 229.2L184.3 227.9L182.9 229.2L181.1 230.2L179.2 230.7L177.7 230.2L178.6 228.5L178.8 227.0L177.4 226.6L176.8 225.6L174.9 225.2L172.3 224.9L170.8 225.2L170.4 226.8L169.6 228.5L168.9 229.9L167.6 230.2L168.3 232.1L167.8 233.9L166.1 235.1L163.2 236.3L162.9 238.1L162.1 240.3L160.9 241.4L159.4 241.4L159.0 239.9L158.6 238.8L160.3 235.8L159.0 235.4L156.9 235.1L155.2 234.0L154.1 232.9L152.1 232.4L149.9 232.9L151.1 231.4L149.8 230.2L150.4 228.5L152.0 227.0L154.8 225.3L157.8 224.2L158.9 223.1L161.3 222.8L163.5 221.8L164.2 220.8L165.9 220.0L167.3 219.5L168.8 219.6L171.5 218.6L173.1 216.6L173.5 215.0L171.1 214.9L169.3 215.9L168.6 217.3L166.3 218.0L165.8 217.3L164.5 216.2L164.8 215.3L163.8 214.6L165.5 212.7L163.6 212.0L160.8 213.7L158.7 215.3L159.6 216.6L159.1 218.0L157.3 217.6L155.3 217.6L155.6 216.6L152.2 217.6L149.4 217.3L147.9 216.6L144.6 218.0L145.6 216.9L143.2 217.3L139.9 217.6L137.9 217.4L138.7 216.6L137.4 215.9L135.0 215.3L132.5 214.9L131.2 214.6L130.0 215.3L127.7 214.6L125.7 214.6L122.9 215.3L120.9 215.3L118.1 215.9L116.1 215.2L114.2 215.0L111.9 214.5L108.4 214.1L105.1 213.6L101.6 212.9L98.2 213.6L94.1 214.4L90.6 215.7L87.3 216.2L87.1 217.8L87.0 218.6L87.6 219.3L85.0 219.3L82.2 219.9zM206.9 228.8L205.1 227.5L202.6 226.8L201.7 224.9L200.9 222.8L200.7 220.7L200.3 218.6L201.4 216.6L204.4 215.7L201.4 214.6L202.0 213.3L202.1 211.4L201.7 209.5L201.5 207.6L198.8 206.8L195.0 207.0L192.7 206.4L191.7 205.5L190.8 204.4L194.5 203.3L198.3 203.0L200.2 201.9L205.3 200.9L210.1 200.2L216.1 199.9L223.2 199.2L229.1 198.9L233.9 199.2L237.7 199.9L240.8 200.9L245.9 200.9L244.0 201.9L241.3 202.4L239.6 204.1L238.7 205.8L237.8 207.6L236.6 208.9L234.9 210.1L234.5 212.0L233.6 214.0L231.1 214.0L231.8 215.3L229.5 216.5L225.3 217.2L221.9 218.4L219.4 219.7L216.0 220.6L213.6 221.4L211.9 223.5L209.6 225.6L208.3 227.8zM192.2 219.2L188.6 221.7L186.0 224.2L184.5 225.6L181.9 225.3L179.1 224.5L178.7 223.2L177.2 222.1L172.8 222.4L173.4 221.4L177.9 221.0L179.4 219.3L181.2 218.0L181.4 216.9L179.7 216.3L178.4 215.3L176.8 214.6L175.1 214.9L171.8 214.6L169.1 214.2L167.9 213.3L168.6 211.4L170.4 209.9L173.9 209.7L173.4 211.4L172.4 212.7L177.6 209.9L179.0 209.9L180.6 210.9L181.4 211.1L183.0 212.3L185.2 213.3L187.1 214.2L187.6 215.9L188.3 217.3L190.4 218.2zM186.2 206.5L182.2 206.8L177.9 206.5L174.3 206.4L176.9 204.9L179.2 204.4L178.5 203.5L181.9 202.1L178.7 201.2L182.3 200.4L190.1 199.4L198.4 199.3L204.5 199.9L201.9 200.9L197.8 201.7L193.3 202.7L189.0 203.5L188.8 204.6L185.3 205.5L185.6 206.2zM178.3 204.4L175.8 204.3L172.7 203.2L173.5 201.9L177.9 201.2L180.1 202.1L177.0 203.3zM180.6 208.6L175.6 208.9L170.2 208.6L169.8 207.6L166.5 207.6L168.3 206.1L171.7 206.3L173.2 207.5L178.1 207.3L181.6 207.5zM153.6 215.9L149.4 216.1L144.0 216.5L140.4 216.5L138.4 215.9L138.8 214.6L144.2 214.2L139.2 213.3L139.1 212.5L142.3 211.0L146.4 210.4L150.4 211.1L154.1 210.4L154.0 211.4L152.5 213.3L154.5 214.4zM134.5 213.1L133.3 212.0L136.6 210.1L141.6 208.9L144.3 210.1L140.4 211.4L136.9 212.7zM156.5 208.2L149.9 209.0L146.5 208.0L149.2 206.7L155.1 206.4L158.0 207.0zM160.6 212.7L157.4 212.9L156.9 211.4L160.0 209.7L163.3 209.9zM168.4 211.0L162.9 211.8L165.1 209.5L169.3 209.5zM164.0 208.2L159.7 207.9L161.5 206.4L166.2 206.3zM169.4 223.5L164.9 224.6L162.6 223.2L165.6 220.4L167.7 221.1L170.0 222.5zM158.7 216.5L154.9 216.2L157.2 214.8L159.3 215.2zM183.1 247.1L186.8 248.1L190.2 248.6L191.1 247.2L190.2 245.7L190.9 244.4L188.5 243.4L189.6 240.9L187.4 242.3L185.2 244.4L183.4 246.0zM140.1 287.4L142.9 285.9L146.4 285.5L149.6 286.8L152.5 289.2L154.4 290.1L149.8 290.7L149.3 289.3L147.0 287.9L144.1 286.8L141.6 287.1zM153.7 293.0L156.4 293.3L157.7 294.1L159.9 293.1L162.0 293.1L161.4 291.5L158.7 290.6L156.0 290.6L156.1 292.0L154.0 292.5zM148.3 293.1L150.2 293.9L151.3 293.6L150.3 292.8zM163.7 293.6L165.7 293.6L165.8 292.8L163.7 292.8zM149.3 283.6L150.4 284.1L150.5 282.2L149.8 282.2zM151.1 280.6L151.8 280.5L152.0 279.5L149.9 279.7zM170.1 306.1L171.3 306.1L171.4 305.0L170.3 305.1zM231.9 222.9L234.5 223.5L236.6 223.6L240.0 222.4L241.6 221.4L240.5 219.7L238.8 219.3L236.6 219.9L234.5 220.0L232.5 219.5L230.7 220.7L232.7 221.4L230.5 221.7L232.5 222.4zM249.1 243.4L251.8 242.9L254.2 242.3L256.6 242.2L257.7 241.4L258.0 239.3L256.4 238.8L256.0 237.8L254.6 236.4L254.1 235.1L252.5 234.3L253.7 232.9L253.7 231.8L251.5 231.8L252.4 230.5L250.4 230.5L249.2 232.1L249.7 233.6L248.8 234.6L250.2 235.8L250.3 236.3L251.9 236.0L252.5 237.3L252.2 238.4L250.7 238.5L251.0 239.9L249.8 240.6L251.8 241.1L252.4 241.6L250.6 241.9L249.7 242.9zM244.0 240.9L245.8 240.9L248.5 240.0L248.9 238.4L249.5 236.6L248.4 235.5L246.5 235.5L245.9 236.7L244.3 237.0L244.4 238.4L244.7 239.4L243.7 240.3zM265.6 202.8L267.6 204.4L268.7 205.5L271.3 206.3L272.7 205.2L275.2 204.4L273.6 203.5L277.0 203.2L279.4 202.4L274.9 202.0L270.7 202.4L268.2 202.6zM306.6 212.5L310.7 213.7L313.1 213.7L310.4 211.4L311.2 209.5L313.0 207.9L316.7 206.7L319.0 206.1L317.0 205.8L313.1 206.7L309.4 208.0L308.4 210.4L307.1 211.6zM339.6 203.4L345.6 204.6L349.6 204.3L346.9 203.0L342.2 202.1L337.8 201.4L336.6 202.4zM384.0 207.9L389.7 208.5L393.1 208.2L396.4 208.0L392.4 206.8L387.3 207.0L383.6 207.0zM390.4 210.2L394.1 210.5L391.9 209.6zM432.7 213.3L434.4 213.4L433.1 212.7L431.9 212.5zM77.6 213.4L80.5 213.2L81.1 212.5L78.9 212.7zM297.4 202.2L303.7 202.4L309.3 201.9L306.9 201.1L301.6 200.9L297.0 201.6zM305.1 216.2L306.6 216.2L306.2 215.3L304.7 215.3zM432.5 249.7L433.4 248.3L432.0 247.2L430.5 244.9L432.1 244.9L428.8 242.6L426.5 239.6L423.2 236.9L423.7 238.4L425.8 241.1L428.1 243.4L430.2 246.4L431.4 248.3zM434.8 256.5L435.7 256.1L438.1 255.8L439.7 253.7L437.7 252.6L432.9 250.3L433.6 251.9L434.4 253.7L433.2 253.9L433.5 255.3zM428.8 268.3L429.1 267.2L430.5 266.0L433.7 265.8L434.5 263.9L434.6 262.8L436.3 263.1L436.6 261.2L435.9 258.9L435.2 257.0L436.5 256.7L438.4 258.9L439.4 260.5L439.0 262.0L440.0 263.9L440.6 265.6L440.0 266.8L439.4 266.3L438.7 267.2L436.6 267.4L436.3 267.9L435.6 269.1L434.1 267.9L431.9 267.7L430.5 268.2L429.0 268.5zM430.7 268.5L431.7 270.1L432.6 269.3L433.6 269.4L433.8 268.5L432.1 268.0zM428.2 268.8L429.0 268.6L430.7 270.1L431.0 272.4L429.6 272.7L428.9 271.0L427.7 269.9zM419.8 285.7L420.9 287.3L421.4 284.9L421.4 282.5L420.4 282.2L419.7 283.6zM405.1 291.7L406.4 293.3L407.7 292.3L408.1 290.9L407.0 290.3L405.6 290.6zM421.8 296.7L421.5 293.3L422.8 292.6L424.0 293.1L424.4 295.5L423.6 297.5L424.6 299.7L426.5 300.1L427.7 301.5L427.7 302.1L426.1 300.8L424.4 300.2L422.7 299.9L422.6 298.8L421.7 298.3zM425.3 305.4L425.1 303.4L426.8 303.8L428.3 303.8L429.4 302.3L430.3 304.3L429.8 305.9L428.1 305.9L427.5 307.3L426.8 307.3L426.7 305.9zM425.7 311.0L427.0 310.2L428.7 310.5L428.6 312.2L430.4 313.0L431.3 312.1L431.9 310.5L431.5 308.6L430.2 306.7L429.3 308.3L427.9 308.9L426.9 308.4L425.9 309.7zM418.9 308.7L419.9 308.1L421.8 305.4L421.7 304.2L420.6 305.9zM408.0 319.3L408.8 318.8L410.8 319.6L411.3 318.1L413.5 316.9L414.8 314.7L416.8 313.3L418.5 311.0L419.8 312.1L422.0 313.8L420.4 315.2L420.0 317.3L420.5 318.5L421.9 320.4L420.3 320.9L419.8 323.3L418.4 324.4L418.1 326.7L417.6 328.3L415.8 328.5L414.2 327.2L411.8 327.5L409.6 326.6L409.4 324.4L408.3 323.1L408.0 321.5zM388.7 313.2L391.8 313.8L393.5 316.0L396.1 318.5L397.9 319.3L399.9 321.2L400.7 323.6L401.7 324.8L403.7 326.7L403.3 331.2L401.6 331.2L400.1 329.7L398.5 328.3L396.8 325.9L395.9 323.6L394.2 321.5L393.3 319.3L391.5 316.9L389.7 315.4L388.7 313.8zM402.3 332.7L403.5 331.3L404.9 331.3L407.0 332.4L410.0 332.1L412.6 332.9L415.2 334.2L415.0 335.7L412.3 335.3L408.9 334.8L406.2 334.3L404.0 333.7zM415.2 334.8L418.2 334.9L420.0 334.9L421.7 335.3L421.3 335.9L418.5 336.4L416.7 335.9L415.2 335.6zM422.5 335.3L424.2 335.1L427.0 334.9L426.6 335.7L424.1 336.0L422.6 335.9zM421.3 336.8L423.7 337.6L422.8 338.3L421.2 337.5zM427.4 338.3L428.6 336.7L430.8 335.6L432.9 335.3L431.7 336.4L429.5 337.3L428.1 338.3zM422.4 330.7L422.5 327.5L421.6 326.3L423.1 322.0L423.6 320.1L425.4 320.3L428.2 320.6L430.6 319.5L429.6 321.4L426.8 321.2L424.0 321.2L423.6 323.3L425.0 323.6L427.9 323.3L426.4 324.8L425.4 325.2L426.7 327.4L427.3 329.1L426.5 330.7L425.5 329.4L424.6 327.2L423.7 326.7L423.6 330.8zM433.8 322.0L434.2 318.8L435.4 319.6L435.5 321.5L434.5 323.3zM434.4 327.1L438.3 326.7L438.2 328.0L434.3 327.7zM431.6 327.1L433.3 327.1L433.2 328.0L431.5 328.0zM438.7 323.3L440.8 322.6L442.8 323.3L443.1 325.9L444.1 327.2L446.3 325.5L448.4 324.5L450.5 325.5L452.5 326.1L455.3 327.4L457.3 328.0L459.0 329.9L460.6 331.5L461.6 332.6L460.8 333.0L461.7 334.6L463.6 337.0L465.3 338.3L463.4 338.4L460.7 337.8L458.9 335.4L456.9 334.2L455.4 335.3L454.3 336.5L451.9 336.4L449.9 334.8L447.8 335.1L449.1 333.0L448.1 330.7L445.4 329.3L442.7 328.2L441.3 328.5L441.1 327.1L440.0 326.4L442.1 325.6L440.4 325.5L438.6 324.2zM462.4 330.8L464.8 330.7L467.0 328.6L468.1 328.8L467.3 330.8L464.7 331.9L462.7 331.5zM466.2 326.1L468.5 328.0L469.1 329.4L468.6 328.8L466.4 326.7zM471.7 331.5L473.0 332.7L472.3 332.9L471.3 331.5zM477.5 336.7L479.2 337.5L478.5 337.6L477.5 337.2zM366.9 309.4L367.3 306.7L368.8 308.6L369.9 310.5L369.1 312.1L367.6 312.5L367.0 311.0zM324.3 340.9L325.4 345.7L324.5 348.8L323.2 352.0L321.5 356.7L320.1 361.3L317.7 362.3L315.7 361.1L315.3 358.3L315.6 355.9L317.0 353.3L316.5 349.6L318.0 347.3L320.9 346.2L322.4 343.3zM441.2 386.4L443.2 386.8L445.7 386.5L444.2 388.6L442.2 390.3L440.1 390.6L440.2 389.0zM483.6 376.3L484.5 377.7L485.1 379.9L484.8 381.3L487.4 381.3L487.6 382.0L484.9 384.0L483.2 385.1L479.4 387.6L479.1 387.2L480.9 385.4L480.4 384.3L482.3 382.8L483.5 380.7L483.4 377.7zM477.4 385.9L478.5 387.0L477.2 388.2L473.9 390.6L471.0 391.8L468.4 394.2L465.8 395.4L464.0 395.2L462.8 394.5L465.6 392.6L468.7 391.1L473.3 388.7L475.9 386.7zM480.6 353.7L482.4 354.8L483.8 357.0L483.1 357.4L481.4 355.9L480.4 354.4zM499.8 349.6L501.6 349.6L501.4 350.7L499.6 350.7zM502.3 347.9L504.0 347.7L503.8 348.5L502.1 348.7zM486.0 345.7L486.8 345.7L486.7 348.0L486.0 348.0zM42.0 292.0L43.5 291.2L43.4 290.1L42.3 290.6zM40.9 288.9L42.6 289.5L42.3 288.9L41.4 288.5zM39.8 288.4L40.5 288.4L40.4 287.7zM38.0 287.3L38.6 287.3L38.4 287.0zM128.4 323.6L129.1 322.3L129.4 323.6zM272.2 262.0L276.1 261.7L275.8 263.9L274.2 263.6L272.5 262.8zM266.7 260.5L266.6 257.6L267.9 257.0L268.5 258.9L268.3 260.3L267.4 260.6zM267.1 256.5L267.0 255.0L267.9 254.2L268.1 256.2zM287.0 266.3L288.1 266.0L290.4 266.4L288.9 266.8L287.0 266.4zM298.5 267.1L299.4 267.4L300.7 266.8L301.2 265.8L300.0 266.3L299.1 266.4zM259.1 259.8L260.3 259.8L260.2 259.0L259.2 259.2zM183.0 402.9L185.3 402.6L186.9 403.1L185.8 404.1L183.2 403.7zM211.4 406.7L213.8 407.1L214.0 407.9L211.5 407.1zM339.8 399.1L341.9 399.2L341.3 400.2L339.7 400.0zM79.2 232.9L82.6 232.1L83.5 231.0L81.3 231.4zM56.9 238.5L59.9 237.9L60.5 237.3L58.1 237.9zM47.9 240.3L50.7 239.9L50.5 239.6zM43.2 240.8L45.2 240.6L44.9 240.3zM71.1 223.8L73.2 224.2L74.2 223.5L71.9 223.2zM69.7 228.8L71.2 228.6L71.8 227.9L70.6 228.1zM99.9 237.3L99.4 239.6L99.8 240.3L100.6 238.1L101.4 237.3zM177.9 243.5L180.5 244.8L180.9 244.3L179.1 243.5zM176.6 248.3L178.7 249.5L179.2 248.8L177.4 248.6zM448.2 235.4L450.0 236.1L449.9 235.8zM439.0 251.9L440.6 250.6L439.9 250.5L438.7 251.4zM442.1 249.2L443.3 247.5L442.8 247.7L441.8 248.8zM443.6 243.4L444.0 242.2L443.4 242.5zM310.5 332.3L311.1 331.5L310.8 331.0zM329.8 302.3L331.5 302.1L331.1 302.6L329.8 302.6zM331.4 355.6L332.3 355.1L332.2 355.8zM334.4 354.4L335.2 353.7L335.1 354.4zM315.9 340.6L316.3 340.0L316.3 340.8zM233.2 277.6L234.3 277.0L233.9 277.8zM236.7 277.6L237.9 275.9L237.3 277.5zM223.1 298.3L223.7 297.8L223.7 298.5zM222.5 262.3L223.3 262.3L222.9 262.5zM233.2 270.2L233.9 270.2L233.6 270.5zM248.1 225.6L248.9 225.2L248.6 225.9zM254.3 228.5L254.9 227.6L254.6 227.8zM247.3 213.4L248.1 213.2L247.9 213.4zM276.8 232.9L277.6 231.5L277.5 232.4zM384.5 303.5L384.6 300.8L384.2 302.3zM265.1 321.8L265.3 321.4L265.3 321.8zM267.8 316.8L268.4 316.2L268.1 316.8zM248.3 265.5L249.1 265.3L252.1 266.3L254.0 266.4L256.0 265.3L259.9 263.9L265.1 263.6L268.8 263.1L270.3 263.6L269.7 265.2L270.2 267.5L269.3 268.3L270.8 269.6L273.5 270.1L276.3 271.0L276.6 272.3L279.4 273.2L281.7 274.2L282.7 273.1L282.6 271.2L284.5 270.1L286.8 270.7L289.3 272.0L292.0 272.7L294.7 273.2L296.0 272.6L297.3 272.3L299.1 272.7L299.6 274.6L300.1 276.5L301.6 278.9L303.5 282.5L304.6 284.9L306.4 287.3L306.9 289.6L307.1 291.2L308.9 293.6L310.2 297.2L312.7 299.6L314.8 301.5L316.0 302.3L315.9 303.8L317.7 305.4L321.2 304.3L323.9 304.0L326.9 303.2L326.8 305.6L326.2 307.8L324.9 311.0L323.5 314.1L321.5 317.3L319.3 318.8L316.7 321.5L314.6 323.6L313.2 325.2L311.7 327.5L311.2 329.1L310.3 331.5L310.9 333.0L310.9 336.2L312.1 338.6L312.2 341.7L312.1 344.9L311.9 346.5L310.4 348.0L307.6 349.8L306.5 351.2L304.0 353.3L303.9 355.1L304.4 357.0L304.3 359.6L303.2 361.0L300.7 362.3L300.3 363.0L300.4 365.4L299.4 367.5L297.5 369.4L296.0 371.4L293.8 373.6L291.7 375.2L289.9 375.7L287.0 375.8L285.0 376.0L282.3 376.9L280.4 376.1L280.2 374.1L280.2 372.5L279.4 370.1L278.2 367.3L276.5 364.1L275.7 359.9L275.8 357.8L274.2 354.4L272.5 350.4L272.3 348.0L273.0 345.7L274.7 341.7L275.1 339.4L274.3 336.2L273.4 332.3L273.0 331.5L272.4 329.6L271.3 328.0L269.5 325.6L268.3 323.3L269.2 321.5L269.2 320.1L269.7 318.1L269.5 316.0L268.3 314.9L265.8 315.1L264.4 315.2L263.0 313.3L262.0 312.1L260.7 311.9L257.7 312.4L255.7 313.3L253.2 314.4L251.5 313.9L250.4 313.8L247.6 314.4L245.6 315.1L243.5 313.8L241.0 312.1L240.0 311.1L238.6 310.2L237.7 308.6L237.0 307.0L235.6 305.1L234.9 304.3L233.8 303.4L232.9 302.4L232.8 301.0L232.5 299.6L231.8 298.8L233.3 296.7L233.6 294.4L234.0 293.4L233.8 291.5L233.4 289.6L232.8 288.9L232.8 287.3L234.2 284.6L235.6 282.5L236.4 280.8L238.2 278.3L238.6 277.8L241.1 276.5L242.6 275.4L243.0 273.9L242.9 272.3L243.8 270.7L246.0 269.0L247.0 268.3L247.9 266.4zM248.7 265.2L247.8 264.4L246.4 263.3L244.4 263.6L244.6 261.4L243.7 260.9L244.6 258.6L244.9 257.0L244.7 255.4L244.2 254.2L245.9 253.1L248.7 253.3L251.2 253.4L253.7 253.6L254.5 251.9L254.6 250.2L254.5 249.2L253.3 247.7L251.7 246.9L250.1 246.4L250.3 245.7L252.3 245.2L254.0 245.4L253.8 243.8L254.7 244.3L256.1 244.1L257.8 243.2L257.9 242.0L259.8 241.2L260.8 240.3L261.6 238.8L262.5 238.2L264.3 238.1L266.0 237.8L266.2 236.7L265.6 235.1L265.3 233.6L265.4 232.7L267.0 232.4L268.1 231.8L268.0 233.6L268.5 233.8L267.6 235.1L267.4 236.0L268.7 237.0L270.1 237.0L271.8 236.7L272.8 237.3L274.7 236.9L277.6 236.1L278.8 236.7L279.3 236.0L280.3 235.1L280.1 233.2L280.5 232.1L281.7 231.8L283.5 232.9L283.6 231.0L282.4 229.6L283.6 229.2L287.3 229.1L289.7 228.6L287.6 227.6L284.8 227.9L283.7 228.3L281.7 228.8L279.8 227.8L279.4 226.3L279.3 224.2L282.0 221.7L282.9 221.4L281.4 220.3L279.2 220.6L278.7 222.1L277.8 223.2L275.6 224.9L275.0 226.3L275.0 227.5L276.8 228.5L276.4 229.5L274.9 230.7L274.8 232.1L274.6 233.6L272.7 234.3L272.5 235.2L271.1 235.2L270.6 234.0L269.7 232.1L268.6 230.2L268.0 229.5L267.8 228.6L266.7 230.1L265.1 231.2L263.9 231.4L262.3 230.2L261.7 228.5L261.5 226.3L262.0 225.3L263.6 224.5L265.1 223.5L267.2 223.5L267.7 222.1L269.1 220.3L269.5 218.6L271.0 218.0L271.8 216.9L270.3 216.9L272.2 215.9L274.6 215.0L277.0 214.4L279.3 213.6L281.5 213.2L283.7 213.3L286.9 214.1L286.2 215.0L289.3 215.4L292.4 215.7L297.6 217.6L298.8 218.9L297.8 219.7L295.8 220.0L292.4 219.2L290.3 218.9L292.2 220.3L293.3 222.2L295.6 222.8L296.5 222.1L299.1 222.0L298.2 220.7L300.4 219.5L302.2 219.6L301.4 218.0L300.9 216.6L303.2 217.3L304.2 218.6L306.2 217.3L310.0 216.6L312.1 216.6L314.9 216.2L317.2 215.7L316.1 214.6L320.7 215.5L324.1 216.2L325.0 215.3L322.7 214.0L321.5 212.0L322.6 210.7L325.0 210.7L327.6 212.7L329.1 215.3L329.8 217.3L332.3 218.0L330.5 215.9L328.8 212.0L329.1 211.0L332.0 211.6L334.2 211.4L336.4 212.3L338.7 214.0L333.7 210.1L338.1 209.7L337.7 208.2L341.3 207.3L345.7 207.0L347.8 206.4L349.9 205.0L353.4 205.8L357.5 206.2L361.3 207.3L362.8 208.9L360.7 209.5L363.6 209.9L370.9 210.7L374.4 210.5L377.9 210.2L381.8 211.4L384.2 213.3L386.9 212.7L390.8 212.7L392.4 211.6L392.5 211.0L398.2 211.6L403.6 212.7L406.7 213.4L411.4 213.3L415.4 214.0L418.3 215.3L422.3 215.3L426.5 214.8L429.4 215.9L433.0 215.0L438.7 216.1L446.3 221.1L445.9 222.0L444.6 221.8L445.1 222.5L448.4 223.8L451.2 225.2L448.6 225.9L446.8 227.0L445.9 228.5L441.6 228.2L439.4 228.6L438.7 229.2L440.4 230.7L440.1 231.7L443.1 233.3L442.7 234.0L444.4 235.8L443.8 237.3L443.6 238.8L444.4 240.3L444.3 241.9L441.3 239.6L437.9 236.6L435.0 233.6L434.4 231.7L434.7 229.9L435.0 227.8L435.1 226.0L434.2 224.9L433.8 226.3L431.1 225.9L432.8 227.3L428.2 226.2L428.6 228.5L426.9 229.9L424.9 229.2L421.7 229.4L418.4 229.4L415.7 229.5L414.8 231.4L414.2 233.2L415.3 235.5L413.9 236.3L417.4 237.3L418.9 237.6L420.5 237.5L423.0 238.5L424.2 240.3L425.4 242.6L427.2 244.9L427.1 247.2L427.1 249.1L426.3 251.5L425.4 254.2L422.8 254.0L421.9 255.0L421.5 256.5L421.9 257.6L420.5 258.9L420.3 259.7L420.7 260.5L422.5 261.6L424.7 263.6L425.5 265.5L425.5 266.6L423.8 267.2L422.5 267.5L421.7 265.5L421.0 263.6L419.6 262.3L418.2 262.0L417.6 260.0L415.9 258.9L413.8 259.7L412.7 260.6L412.1 258.1L410.8 257.5L409.7 259.2L408.2 260.1L408.4 261.2L410.6 262.8L411.6 263.3L412.9 262.3L415.5 263.1L414.1 264.4L413.5 265.2L412.8 266.8L415.3 269.1L418.1 271.8L418.6 273.4L417.2 274.2L419.4 275.0L419.5 277.3L418.6 278.9L418.0 281.0L416.9 283.0L415.2 284.9L413.4 286.0L411.8 286.8L410.2 287.3L408.3 288.1L406.7 288.4L406.6 290.0L405.9 288.1L404.2 287.7L402.9 288.4L402.0 289.3L401.0 292.0L402.5 294.4L404.4 296.0L405.3 296.7L406.9 299.1L407.3 302.3L407.1 303.8L405.5 305.0L404.2 305.7L403.9 307.0L401.9 308.4L401.6 306.5L401.0 305.6L399.6 305.3L398.0 303.1L395.8 302.0L395.6 300.8L394.3 301.0L394.5 303.1L393.8 305.4L394.2 307.5L395.3 308.7L395.9 310.6L397.6 311.7L398.7 312.5L400.0 314.4L400.2 317.3L401.3 319.8L400.3 319.9L398.5 318.5L397.2 317.3L396.1 315.4L395.6 313.3L395.3 311.7L394.7 311.0L393.3 309.4L392.6 307.8L392.8 305.4L392.6 303.1L391.8 300.2L390.8 297.5L390.4 296.0L389.2 295.2L388.2 296.0L387.4 297.1L386.0 296.7L386.0 294.4L385.4 292.3L384.1 290.7L383.0 289.6L381.7 288.1L381.2 286.8L379.4 286.5L377.5 287.6L376.2 287.7L374.9 288.4L374.8 289.6L373.8 290.7L372.6 291.5L370.8 293.9L369.4 295.8L367.9 296.7L366.8 297.5L366.7 299.9L367.1 301.3L366.7 303.4L366.7 305.7L366.0 307.3L364.6 308.0L363.7 309.2L362.3 307.8L361.8 306.2L360.7 303.8L359.5 301.5L358.2 298.6L357.8 297.5L356.9 295.2L356.0 292.0L355.5 289.6L355.2 288.5L354.9 287.0L354.5 288.5L353.1 289.2L352.0 288.9L350.1 287.0L351.4 286.3L351.8 285.7L349.7 285.4L348.8 284.4L347.2 283.0L346.1 281.9L343.5 282.1L340.1 282.2L339.4 282.4L336.7 281.9L333.9 281.6L333.0 279.7L332.0 279.2L330.1 280.0L328.3 279.7L326.8 278.6L325.4 278.0L324.2 276.4L323.2 274.6L321.5 274.0L320.9 274.6L320.4 275.4L321.2 277.0L322.1 278.6L323.6 279.9L324.0 281.4L325.0 282.9L325.0 281.7L325.4 280.8L326.0 282.1L326.0 283.3L326.7 284.0L328.7 284.0L330.0 283.5L331.0 282.1L331.9 280.8L332.3 280.5L332.5 282.5L333.2 283.6L335.6 284.7L337.5 286.5L336.4 289.3L335.2 290.4L335.2 292.0L333.6 293.6L331.9 294.4L330.3 295.2L328.0 296.7L325.0 298.3L323.3 299.9L320.3 300.8L318.3 301.8L316.2 302.0L315.8 300.7L315.1 298.3L314.8 296.1L313.3 293.9L311.9 291.2L310.2 289.2L309.4 288.1L308.4 284.9L306.9 283.3L305.8 281.0L303.9 278.6L302.8 277.5L302.9 275.4L302.3 277.8L302.1 278.1L301.0 277.0L299.8 275.1L299.6 274.6L299.1 272.7L300.7 272.9L301.7 272.4L302.2 271.0L302.4 269.9L303.0 268.3L303.1 266.0L303.3 264.2L302.4 264.2L301.0 263.9L299.8 264.9L298.1 265.0L296.1 263.9L294.2 264.7L292.5 264.1L291.6 263.6L291.0 261.4L289.9 260.0L289.7 258.9L289.6 258.4L289.3 257.6L287.3 257.5L286.6 258.6L285.5 258.1L285.2 259.7L286.0 260.5L285.8 261.2L287.1 262.0L287.2 262.5L286.1 262.2L286.2 263.1L286.0 264.4L285.3 264.4L284.3 263.9L283.7 262.5L283.9 261.6L282.9 260.8L282.0 259.5L280.9 258.1L280.9 256.5L279.9 255.3L278.1 254.2L276.2 253.3L274.8 252.0L274.1 250.8L273.1 251.1L272.9 250.2L271.5 250.5L271.4 252.2L273.0 253.3L274.0 255.0L276.4 255.9L277.6 257.2L279.6 258.6L279.7 259.2L277.8 258.1L277.4 259.4L278.1 260.5L277.4 261.4L276.8 262.0L276.4 262.0L276.7 260.5L276.2 258.9L275.0 257.9L274.2 257.6L272.6 256.8L271.5 256.1L269.9 255.0L269.3 254.2L268.8 252.8L267.9 252.2L267.2 252.0L266.1 252.8L265.2 253.1L263.6 254.0L262.3 253.6L261.0 253.4L259.9 254.2L260.1 255.3L260.1 255.9L258.8 256.7L257.0 257.6L256.0 259.2L255.6 259.8L256.3 260.8L255.2 262.0L255.1 262.7L253.4 263.9L252.9 263.9L250.3 264.1L249.1 265.0zM293.2 257.0L296.0 257.0L298.3 255.8L300.5 255.8L302.6 256.8L304.6 257.3L306.8 257.3L308.9 256.5L308.9 255.3L307.8 254.2L306.1 253.4L303.7 252.0L302.6 251.1L301.7 250.6L302.7 250.3L303.5 249.4L303.5 248.0L304.5 247.7L302.4 247.8L299.7 248.9L299.6 250.0L301.4 250.5L300.2 251.1L298.6 252.0L297.8 251.7L296.5 250.5L297.7 249.4L295.7 249.1L295.0 248.6L294.1 248.8L293.0 250.6L292.0 252.3L292.0 253.6L291.2 253.9L291.1 255.0L291.8 255.9zM320.4 262.8L322.5 263.9L325.8 263.8L326.1 262.0L325.4 260.0L324.1 258.9L323.5 257.3L324.5 257.6L325.3 257.0L324.0 255.4L322.9 256.2L322.5 254.5L320.8 253.9L319.1 252.2L320.1 251.7L319.9 250.6L322.1 250.6L321.8 248.4L319.6 248.0L317.3 248.8L315.6 249.5L314.6 251.7L315.9 253.4L316.4 254.7L317.7 256.1L319.4 257.9L320.5 258.4L319.6 260.0L319.4 261.6zM73.3 216.1L75.1 216.9L75.6 218.6L78.3 218.9L78.3 219.9L72.8 222.1L71.4 222.4L69.7 221.7L70.5 220.7L67.9 220.7L69.0 219.6L65.7 221.1zM453.7 338.9L454.7 341.7L454.7 344.6L456.6 345.7L456.7 348.7L456.6 351.7L457.6 352.5L459.3 353.9L459.9 355.5L461.5 357.5L461.4 359.1L462.5 360.7L463.6 362.3L462.5 365.3L462.4 367.3L460.5 370.1L458.6 372.8L455.8 375.4L453.9 377.6L451.9 379.6L451.0 381.2L448.1 381.8L445.4 383.2L444.9 383.7L443.8 382.6L443.3 382.3L441.5 383.2L440.0 382.4L438.7 382.0L438.1 380.4L438.6 378.8L437.6 378.2L438.2 376.9L437.0 377.6L438.4 374.1L438.9 373.3L437.0 375.2L434.9 376.9L434.5 377.1L434.4 375.2L433.9 373.8L433.4 372.7L431.5 372.5L430.5 371.7L427.8 371.9L424.7 372.8L423.4 373.0L420.9 374.1L419.1 375.5L417.1 375.5L414.4 375.5L411.1 377.2L408.6 376.9L407.6 376.1L408.1 375.0L409.3 374.1L409.8 372.5L410.1 370.1L410.1 368.6L410.0 367.3L409.9 365.4L409.4 363.4L409.9 361.5L410.6 359.9L411.0 357.7L411.9 356.4L413.8 355.6L415.8 354.5L418.2 354.0L420.4 353.4L422.7 352.0L423.9 350.4L424.3 348.8L426.1 348.0L426.0 349.3L427.6 347.3L428.6 345.7L430.2 344.1L431.6 343.9L433.0 345.4L434.8 345.5L435.5 343.3L436.7 341.7L438.1 341.3L439.7 340.2L441.0 340.6L443.0 341.3L445.1 340.9L445.6 341.4L444.1 343.3L443.1 345.4L444.2 346.9L445.9 347.7L447.5 349.3L449.6 349.8L451.2 346.5L452.0 343.3L452.4 341.7L453.2 339.2zM95.3 439.6L105.0 439.9L112.7 439.4L115.6 438.5L118.4 437.6L120.9 436.4L124.6 435.8L128.4 435.1L132.7 434.9L141.7 434.5L152.0 435.1L157.1 435.5L160.1 433.9L164.3 433.3L168.9 433.0L174.0 433.3L179.0 433.5L182.7 432.0L185.0 428.1L186.5 425.4L187.5 423.3L189.8 421.6L193.5 420.2L194.4 421.2L192.4 422.6L192.1 424.0L191.7 425.4L190.7 427.4L193.9 429.4L196.4 432.0L198.4 434.5L199.2 436.4L202.8 437.6L210.8 438.8L220.2 439.4L224.5 439.1L228.5 437.6L230.8 436.4L232.4 435.1L236.8 433.9L241.5 433.0L245.1 431.1L248.1 430.3L251.0 430.0L256.0 429.1L261.0 429.4L266.0 429.2L271.1 429.1L276.0 429.4L281.0 429.6L286.2 428.7L289.5 427.8L291.4 428.5L294.2 429.1L296.6 428.1L302.2 426.4L307.8 425.4L311.6 424.0L315.2 425.1L318.0 425.8L321.0 426.0L324.9 426.4L327.4 427.4L329.4 429.0L331.6 428.7L335.5 427.4L338.2 426.4L340.8 425.6L344.3 425.1L347.5 424.9L349.5 425.1L353.0 424.7L355.0 424.7L361.0 423.7L364.5 423.3L365.7 424.4L371.1 424.3L374.7 423.7L375.9 424.7L380.7 425.1L386.5 424.5L392.0 424.3L397.5 424.0L401.6 424.9L404.3 425.4L405.5 426.0L409.1 427.3L413.1 428.1L416.3 429.4L418.4 430.0L420.8 430.4L423.3 431.3L419.1 433.3L411.8 435.8L404.8 438.2L405.6 439.1L409.3 438.9L412.7 439.4L416.7 439.6M142.2 248.4L145.5 246.8L148.3 246.0L150.9 245.7L151.8 247.2L151.0 248.8L148.3 248.8L146.9 247.7L144.1 248.4zM144.4 255.8L146.0 255.8L147.6 252.6L150.2 250.0L149.0 249.8L146.7 251.1L145.3 253.4zM151.0 249.7L151.6 251.1L151.3 252.6L151.8 253.9L153.0 253.4L154.2 251.5L155.8 251.7L155.7 250.3L154.2 249.4zM150.0 256.1L152.1 256.4L155.9 254.7L154.0 254.8L151.2 255.6zM155.4 253.7L157.5 253.7L159.9 253.1L159.9 252.3L157.9 252.8zM139.0 242.6L140.3 241.9L140.2 239.6L140.1 237.8L139.0 238.5L139.1 240.3zM126.9 227.0L129.0 227.2L133.7 225.6L137.3 224.5L135.8 224.3L131.7 225.3L129.0 225.9zM124.1 221.4L127.8 221.4L131.3 220.0L133.5 218.8L130.5 218.6L127.4 219.7L124.3 220.7zM130.3 230.4L133.7 229.6L137.3 229.4L134.0 229.2zM300.6 325.9L302.7 325.9L303.4 323.6L303.1 321.5L301.0 321.5L300.2 323.6zM296.8 327.5L297.4 329.9L298.7 333.8L299.1 335.7L298.1 334.6L296.8 330.7zM303.2 337.2L304.0 338.6L304.4 342.5L304.6 344.6L303.8 344.1L303.5 340.9L303.2 338.6zM274.7 302.0L276.1 302.0L276.5 300.5L275.1 300.2zM380.2 240.9L382.0 240.6L383.5 238.4L383.6 235.5L382.6 234.6L382.2 236.1L382.0 238.8L380.6 240.3zM347.6 250.3L348.8 248.4L352.0 248.8L354.1 248.6L351.8 248.3L348.6 248.0L347.5 249.1zM290.3 228.5L292.1 228.1L292.1 226.8L289.5 226.3L289.2 227.3zM294.1 227.0L295.6 226.8L294.6 224.9L293.4 225.2zM159.4 346.5L160.9 347.6L160.5 348.0L159.5 347.3zM270.1 230.7L271.6 230.5L271.7 229.5L270.6 229.5zM329.5 253.3L330.9 253.1L332.8 251.9L332.1 249.8L330.3 248.6L329.1 249.8L329.2 251.5z"/>
</g>
<path d="M122.4 194.7L389.6 194.7M122.4 449.3L389.6 449.3" fill="none" stroke="#a0a0a0" stroke-width="0.9"/><path d="M122.4 449.3L117.8 448.0L112.4 446.3L106.4 444.1L100.1 441.6L93.5 438.8L87.0 435.8L81.1 432.6L75.6 429.4L70.4 426.0L65.3 422.6L60.4 419.1L55.6 415.5L50.9 411.9L46.4 408.2L42.1 404.4L38.2 400.6L34.5 396.8L31.1 392.9L27.8 389.0L24.7 385.1L21.9 381.2L19.4 377.2L17.1 373.3L15.0 369.4L13.3 365.4L11.8 361.5L10.5 357.5L9.5 353.6L8.4 349.6L7.5 345.7L6.8 341.7L6.2 337.8L5.7 333.8L5.4 329.9L5.1 325.9L5.0 322.0L5.1 318.1L5.4 314.1L5.7 310.2L6.2 306.2L6.8 302.3L7.5 298.3L8.4 294.4L9.5 290.4L10.5 286.5L11.8 282.5L13.3 278.6L15.0 274.6L17.1 270.7L19.4 266.8L21.9 262.8L24.7 258.9L27.8 255.0L31.1 251.1L34.5 247.2L38.2 243.4L42.1 239.6L46.4 235.8L50.9 232.1L55.6 228.5L60.4 224.9L65.3 221.4L70.4 218.0L75.6 214.6L81.1 211.4L87.0 208.2L93.5 205.2L100.1 202.4L106.4 199.9L112.4 197.7L117.8 196.0L122.4 194.7M389.6 449.3L394.2 448.0L399.6 446.3L405.6 444.1L411.9 441.6L418.5 438.8L425.0 435.8L430.9 432.6L436.4 429.4L441.6 426.0L446.7 422.6L451.6 419.1L456.4 415.5L461.1 411.9L465.6 408.2L469.9 404.4L473.8 400.6L477.5 396.8L480.9 392.9L484.2 389.0L487.3 385.1L490.1 381.2L492.6 377.2L494.9 373.3L497.0 369.4L498.7 365.4L500.2 361.5L501.5 357.5L502.5 353.6L503.6 349.6L504.5 345.7L505.2 341.7L505.8 337.8L506.3 333.8L506.6 329.9L506.9 325.9L507.0 322.0L506.9 318.1L506.6 314.1L506.3 310.2L505.8 306.2L505.2 302.3L504.5 298.3L503.6 294.4L502.5 290.4L501.5 286.5L500.2 282.5L498.7 278.6L497.0 274.6L494.9 270.7L492.6 266.8L490.1 262.8L487.3 258.9L484.2 255.0L480.9 251.1L477.5 247.2L473.8 243.4L469.9 239.6L465.6 235.8L461.1 232.1L456.4 228.5L451.6 224.9L446.7 221.4L441.6 218.0L436.4 214.6L430.9 211.4L425.0 208.2L418.5 205.2L411.9 202.4L405.6 199.9L399.6 197.7L394.2 196.0L389.6 194.7" fill="none" stroke="#222" stroke-width="0.75"/>
<g clip-path="url(#c1)">
<g shape-rendering="crispEdges"><path fill="#3c14f0" d="M632.7 449L903.3 449L901.6 450L634.4 450zM629.1 448L906.9 448L903.3 449L632.7 449zM625.0 447L911.0 447L906.9 448L629.1 448zM620.6 445L915.4 445L911.0 447L625.0 447zM615.9 444L920.1 444L915.4 445L620.6 445zM610.9 442L925.1 442L920.1 444L615.9 444zM605.9 439L930.1 439L925.1 442L610.9 442zM620.4 437L724.8 437L726.1 439L624.8 439zM734.1 437L922.0 437L917.4 439L735.1 439zM924.3 437L926.6 437L921.9 439L919.7 439zM628.2 435L711.7 435L713.2 437L632.0 437zM740.3 435L928.6 435L924.3 437L741.0 437zM668.7 432L710.3 432L711.7 435L671.2 435zM746.9 432L935.2 432L931.0 435L747.4 435zM691.4 430L706.4 430L707.8 432L693.1 432zM753.9 430L939.1 430L935.2 432L754.3 432zM692.2 427L705.0 427L706.4 430L693.9 430zM766 427h23v3h-23zM794.5 427L932.7 427L929.1 430L794.0 430zM695.9 425L703.7 425L705.0 427L697.4 427zM813.4 425L839.5 425L838.0 427L812.4 427zM850.0 425L923.1 425L919.9 427L848.3 427zM697.1 422L705.1 422L706.3 425L698.5 425zM822.3 422L825.0 422L823.8 425L821.2 425zM870.3 422L888.9 422L886.5 425L868.2 425zM904.9 422L912.9 422L910.0 425L902.2 425zM698.4 420L706.6 420L707.7 422L699.7 422zM684.7 409L690.5 409L691.7 411L686.0 411zM680.4 406L692.2 406L693.4 409L681.7 409zM676.1 403L688.1 403L689.3 406L677.4 406zM694.1 403L700.1 403L701.1 406L695.2 406zM674.9 400L687.0 400L688.1 403L676.1 403zM851.3 400L854.3 400L853.2 403L850.2 403zM673.7 397L686.0 397L687.0 400L674.9 400zM852.3 397L855.4 397L854.3 400L851.3 400zM672.6 394L685.1 394L686.0 397L673.7 397zM974.8 394L981.0 394L978.5 397L972.4 397zM671.5 391L687.3 391L688.2 394L672.6 394zM977.1 391L986.6 391L984.1 394L974.8 394zM670.5 388L686.4 388L687.3 391L671.5 391zM950.7 388L957.1 388L955.1 391L948.8 391zM982.6 388L988.9 388L986.6 391L980.3 391zM669.5 385L688.8 385L689.6 388L670.5 388zM952.5 385L959.0 385L957.1 388L950.7 388zM987.9 385L997.6 385L995.3 388L985.7 388zM671.9 382L694.6 382L695.2 385L672.7 385zM947.7 382L960.7 382L959.0 385L946.1 385zM993.2 382L999.7 382L997.6 385L991.1 385zM671.1 379L694.0 379L694.6 382L671.9 382zM949.2 379L965.6 379L964.0 382L947.7 382zM995.1 379L1001.6 379L999.7 382L993.2 382zM670.3 376L696.7 376L697.2 379L671.1 379zM789 376h10v3h-10zM917.7 376L927.6 376L926.3 379L916.5 379zM944.1 376L967.1 376L965.6 379L942.7 379zM993.5 376L1000.1 376L998.3 379L991.8 379zM669.6 373L699.5 373L700.0 376L670.3 376zM789 373h17v3h-17zM918.7 373L935.3 373L934.2 376L917.7 376zM945.3 373L971.9 373L970.4 376L944.1 376zM669.0 370L702.4 370L702.8 373L669.6 373zM806 370h3v3h-3zM919.7 370L973.2 370L971.9 373L918.7 373zM669 367h33v3h-33zM806 367h7v3h-7zM920.6 367L947.5 367L946.5 370L919.7 370zM961.0 367L974.4 367L973.2 370L959.8 370zM672 364h30v3h-30zM806 364h7v3h-7zM918.0 364L948.4 364L947.5 367L917.2 367zM961.9 364L975.5 364L974.4 367L961.0 367zM671 361h34v3h-34zM796 361h21v3h-21zM827 361h7v3h-7zM918.7 361L949.2 361L948.4 364L918.0 364zM962.8 361L976.4 361L975.5 364L961.9 364zM671 358h40v3h-40zM797 358h20v3h-20zM824 358h10v3h-10zM919.2 358L956.7 358L956.0 361L918.7 361zM963.5 358L977.2 358L976.4 361L962.8 361zM670 355h45v3h-45zM797 355h20v3h-20zM824 355h10v3h-10zM923.2 355L974.4 355L973.7 358L922.6 358zM991.5 355L998.4 355L997.6 358L990.8 358zM670 352h45v3h-45zM797 352h20v3h-20zM828 352h6v3h-6zM927.1 352L971.7 352L971.0 355L926.6 355zM992.3 352L995.7 352L995.0 355L991.5 355zM666 349h48v3h-48zM797 349h24v3h-24zM828 349h10v3h-10zM934.5 349L968.9 349L968.3 352L934.0 352zM1010.2 349L1013.6 349L1012.8 352L1009.4 352zM662 346h52v3h-52zM797 346h27v3h-27zM828 346h10v3h-10zM935 346h34v3h-34zM659 343h55v3h-55zM797 343h28v3h-28zM831 343h7v3h-7zM939 343h17v3h-17zM963 343h7v3h-7zM659 340h58v3h-58zM797 340h28v3h-28zM832 340h7v3h-7zM946 340h14v3h-14zM963 340h4v3h-4zM658 337h63v3h-63zM797 337h28v3h-28zM932 337h11v3h-11zM964 337h3v3h-3zM971 337h6v3h-6zM655 334h66v3h-66zM801 334h24v3h-24zM915 334h31v3h-31zM957 334h21v3h-21zM655 331h66v3h-66zM804 331h21v3h-21zM912 331h14v3h-14zM957 331h21v3h-21zM651 328h70v3h-70zM808 328h17v3h-17zM909 328h7v3h-7zM926 328h3v3h-3zM933 328h7v3h-7zM950 328h21v3h-21zM975 328h7v3h-7zM654 325h60v3h-60zM811 325h14v3h-14zM905 325h11v3h-11zM919 325h11v3h-11zM933 325h35v3h-35zM975 325h7v3h-7zM637 322h7v3h-7zM654 322h39v3h-39zM811 322h18v3h-18zM905 322h11v3h-11zM919 322h21v3h-21zM944 322h17v3h-17zM654 320h35v2h-35zM811 320h21v2h-21zM902 320h10v2h-10zM919 320h28v2h-28zM658 317h28v3h-28zM815 317h21v3h-21zM902 317h10v3h-10zM919 317h14v3h-14zM658 314h24v3h-24zM815 314h20v3h-20zM898 314h14v3h-14zM923 314h10v3h-10zM655 311h24v3h-24zM818 311h21v3h-21zM877 311h7v3h-7zM905 311h7v3h-7zM926 311h7v3h-7zM936 311h7v3h-7zM648 308h31v3h-31zM828 308h11v3h-11zM877 308h3v3h-3zM901 308h7v3h-7zM912 308h3v3h-3zM929 308h4v3h-4zM936 308h7v3h-7zM648 305h7v3h-7zM662 305h21v3h-21zM832 305h7v3h-7zM901 305h17v3h-17zM929 305h14v3h-14zM645 302h7v3h-7zM665 302h7v3h-7zM901 302h21v3h-21zM936 302h6v3h-6zM638 299h17v3h-17zM901 299h20v3h-20zM932 299h7v3h-7zM628 296h24v3h-24zM900 296h17v3h-17zM931 296h7v3h-7zM625 293h24v3h-24zM659 293h21v3h-21zM900 293h20v3h-20zM931 293h7v3h-7zM553.9 290L557.3 290L556.6 293L553.2 293zM622 290h14v3h-14zM643 290h6v3h-6zM660 290h13v3h-13zM903 290h17v3h-17zM623 287h13v3h-13zM643 287h20v3h-20zM902 287h24v3h-24zM930 287h3v3h-3zM613 284h24v3h-24zM654 284h6v3h-6zM901.7 284L935.6 284L936.3 287L902.2 287zM613.8 281L637.5 281L636.9 284L613.1 284zM654 281h7v3h-7zM904.5 281L934.9 281L935.6 284L905.1 284zM611.2 278L638.1 278L637.5 281L610.4 281zM655 278h6v3h-6zM907.1 278L930.7 278L931.5 281L907.9 281zM612.1 275L648.9 275L648.2 278L611.2 278zM652.3 275L662.3 275L661.7 278L651.6 278zM896.3 275L903.0 275L903.8 278L897.1 278zM929.7 275L933.1 275L934.0 278L930.7 278zM609.8 272L659.6 272L658.9 275L608.8 275zM938.7 272L942.0 272L943.1 275L939.8 275zM610.9 269L667.0 269L666.3 272L609.8 272zM937.5 269L947.4 269L948.6 272L938.7 272zM605.6 266L671.1 266L670.3 269L604.3 269zM939.4 266L952.5 266L953.9 269L940.8 269zM607.0 263L671.9 263L671.1 266L605.6 266zM605.2 260L672.7 260L671.9 263L603.7 263zM753 260h3v3h-3zM606.8 257L680.0 257L679.2 260L605.2 260zM753 257h3v3h-3zM608.5 254L681.0 254L680.0 257L606.8 257zM753 254h4v3h-4zM610.3 251L691.3 251L690.4 254L608.5 254zM757 251h3v3h-3zM612.1 248L704.5 248L703.8 251L610.3 251zM763 248h3v3h-3zM941.6 248L944.7 248L946.8 251L943.6 251zM614.1 245L690.1 245L689.1 248L612.1 248zM693.1 245L705.3 245L704.5 248L692.2 248zM760 245h12v3h-12zM939.5 245L945.5 245L947.8 248L941.6 248zM613.1 242L703.1 242L702.3 245L611.0 245zM760 242h18v3h-18zM937.2 242L940.2 242L942.5 245L939.5 245zM609.4 239L704.1 239L703.1 242L607.1 242zM754 239h36v3h-36zM931.8 239L937.7 239L940.2 242L934.2 242zM949.5 239L955.4 239L958.2 242L952.2 242zM574.0 236L579.8 236L576.9 239L571.0 239zM611.8 236L702.1 236L701.1 239L609.4 239zM754 236h15v3h-15zM772 236h24v3h-24zM914.7 236L920.5 236L922.9 239L917.0 239zM923.5 236L935.1 236L937.7 239L925.9 239zM946.7 236L955.5 236L958.4 239L949.5 239zM580.0 234L588.6 234L585.6 236L576.9 236zM611.5 234L674.5 234L673.0 236L608.9 236zM677.4 234L700.3 234L699.2 236L675.9 236zM758 234h8v2h-8zM775 234h26v2h-26zM900.9 234L926.7 234L929.3 236L903.1 236zM943.9 234L955.3 234L958.4 236L946.7 236zM586.0 231L597.2 231L594.3 234L582.8 234zM611.3 231L667.7 231L665.9 234L608.6 234zM678.9 231L698.6 231L697.5 234L677.4 234zM761 231h5v3h-5zM771.9 231L805.7 231L806.3 234L772.0 234zM881.7 231L926.8 231L929.5 234L883.7 234zM943.7 231L952.2 231L955.3 234L946.7 234zM583.6 228L603.0 228L600.1 231L580.3 231zM605.8 228L663.9 228L662.0 231L602.9 231zM680.5 228L699.9 228L698.6 231L678.9 231zM716.5 228L722.0 228L721.2 231L715.5 231zM771.8 228L807.8 228L808.5 231L771.9 231zM871.4 228L940.6 228L943.7 231L873.3 231zM943.4 228L957.2 228L960.6 231L946.5 231zM587.0 225L668.5 225L666.7 228L583.6 228zM682.1 225L698.4 225L697.1 228L680.5 228zM712.0 225L722.9 225L722.0 228L710.9 228zM771.7 225L812.5 225L813.3 228L771.8 228zM858.7 225L961.9 225L965.5 228L860.4 228zM590.5 223L686.4 223L684.8 225L587.0 225zM689.1 223L699.7 223L698.4 225L687.5 225zM710.4 223L726.4 223L725.6 225L709.3 225zM742 223h11v2h-11zM774.3 223L814.3 223L815.2 225L774.5 225zM846.3 223L958.2 223L961.9 225L847.8 225zM580.0 220L682.8 220L681.1 223L576.2 223zM685.4 220L703.7 220L702.4 223L683.7 223zM711.5 220L732.4 220L731.7 223L710.4 223zM740 220h13v3h-13zM776.8 220L956.0 220L959.8 223L777.0 223zM583.9 218L595.1 218L591.4 220L580.0 220zM597.6 218L684.6 218L682.8 220L594.0 220zM692.2 218L705.0 218L703.7 220L690.6 220zM710.1 218L738.3 218L737.7 220L708.9 220zM748 218h3v2h-3zM779.2 218L809.9 218L810.8 220L779.4 220zM812.4 218L952.1 218L956.0 220L813.4 220zM587.9 215L591.3 215L587.4 218L583.9 218zM601.3 215L678.9 215L676.9 218L597.6 218zM681.4 215L701.4 215L699.9 218L679.5 218zM711.4 215L743.9 215L743.4 218L710.1 218zM781.5 215L806.5 215L807.3 218L781.8 218zM811.5 215L814.0 215L815.0 218L812.4 218zM819.0 215L948.1 215L952.1 218L820.1 218zM607.6 213L627.1 213L623.8 215L603.8 215zM644.3 213L700.5 213L698.9 215L641.3 215zM712.7 213L746.9 213L746.4 215L711.4 215zM788.5 213L798.3 213L799.0 215L789.0 215zM817.8 213L825.2 213L826.5 215L819.0 215zM832.5 213L925.4 213L929.1 215L834.0 215zM647.3 210L697.4 210L695.6 213L644.3 213zM711.7 210L747.4 210L746.9 213L710.3 213zM816.6 210L823.7 210L825.2 213L817.8 213zM830.9 210L892.9 210L896.0 213L832.5 213zM900.0 210L909.6 210L913.2 213L903.4 213zM652.9 208L669.2 208L666.4 210L649.7 210zM671.5 208L694.7 208L692.6 210L668.8 210zM710.9 208L750.3 208L749.8 210L709.3 210zM817.6 208L826.9 208L828.5 210L819.0 210zM847.7 208L873.3 208L876.2 210L850.0 210zM894.1 208L908.0 208L911.9 210L897.6 210zM663.1 206L672.1 206L669.2 208L659.9 208zM674.3 206L699.1 206L697.0 208L671.5 208zM701.3 206L750.8 206L750.3 208L699.3 208zM780 206h5v2h-5zM820.6 206L829.6 206L831.5 208L822.2 208zM849.9 206L870.1 206L873.3 208L852.4 208zM890.4 206L901.7 206L905.7 208L894.1 208zM683.8 203L753.6 203L753.1 206L681.1 206zM777.6 203L790.6 203L791.4 206L777.9 206zM849.5 203L860.4 203L863.4 206L852.1 206zM686.4 201L758.2 201L757.9 203L683.8 203zM777.3 201L789.9 201L790.6 203L777.6 203zM806.8 201L819.5 201L821.2 203L808.1 203zM844.9 201L855.4 201L858.3 203L847.4 203zM693.0 200L754.4 200L754.0 201L690.6 201zM737.0 198L744.9 198L744.2 200L736.0 200z"/>
<path fill="#3a5ce0" d="M789 370h17v3h-17zM796 367h10v3h-10zM947.5 367L950.9 367L949.8 370L946.5 370zM796 364h10v3h-10zM948.4 364L951.8 364L950.9 367L947.5 367zM793 361h3v3h-3zM959.4 361L962.8 361L961.9 364L958.6 364zM793 358h4v3h-4zM956.7 358L963.5 358L962.8 361L956.0 361zM793 355h4v3h-4zM793 352h4v3h-4zM793 349h4v3h-4zM793 346h4v3h-4zM793 343h4v3h-4zM783 340h14v3h-14zM783 337h14v3h-14zM783 334h11v3h-11zM797 334h4v3h-4zM693 322h14v3h-14zM689 320h7v2h-7zM686 317h7v3h-7zM682 314h7v3h-7zM679 311h3v3h-3zM679 308h3v3h-3zM835 302h4v3h-4zM838 296h4v3h-4zM841 293h7v3h-7zM841 290h7v3h-7zM899 290h4v3h-4zM903.0 275L906.3 275L907.1 278L903.8 278zM909.7 275L929.7 275L930.7 278L910.5 278zM918.7 272L932.0 272L933.1 275L919.7 275zM753 269h3v3h-3zM932.9 266L939.4 266L940.8 269L934.2 269zM753 263h6v3h-6zM941.3 263L951.0 263L952.5 266L942.7 266zM756 260h7v3h-7zM946.1 260L952.5 260L954.2 263L947.7 263zM756 257h10v3h-10zM944.4 257L950.7 257L952.5 260L946.1 260zM757 254h12v3h-12zM807 254h3v3h-3zM936.2 254L939.3 254L941.2 257L938.0 257zM942.5 254L951.9 254L953.9 257L944.4 257zM763 251h9v3h-9zM797 251h19v3h-19zM934.3 251L940.5 251L942.5 254L936.2 254zM943.6 251L949.9 251L951.9 254L945.6 254zM766 248h28v3h-28zM797 248h19v3h-19zM932.4 248L938.5 248L940.5 251L934.3 251zM772 245h43v3h-43zM927.3 245L939.5 245L941.6 248L929.3 248zM778.1 242L814.1 242L814.8 245L778.3 245zM919.2 242L937.2 242L939.5 245L921.2 245zM789.8 239L816.4 239L817.1 242L790.1 242zM893.3 239L931.8 239L934.2 242L895.2 242zM795.3 236L818.6 236L819.4 239L795.7 239zM879.8 236L914.7 236L917.0 239L881.5 239zM920.5 236L923.5 236L925.9 239L922.9 239zM800.6 234L820.7 234L821.5 236L801.1 236zM857.9 234L866.5 234L868.1 236L859.4 236zM869.4 234L900.9 234L903.1 236L871.0 236zM805.7 231L822.6 231L823.5 234L806.3 234zM845.1 231L881.7 231L883.7 234L846.5 234zM807.8 228L871.4 228L873.3 231L808.5 231zM812.5 225L858.7 225L860.4 228L813.3 228zM814.3 223L846.3 223L847.8 225L815.2 225z"/>
<path fill="#1896fa" d="M950.9 367L961.0 367L959.8 370L949.8 370zM951.8 364L961.9 364L961.0 367L950.9 367zM786 361h7v3h-7zM949.2 361L956.0 361L955.2 364L948.4 364zM786 358h7v3h-7zM783 355h3v3h-3zM790 355h3v3h-3zM783 352h3v3h-3zM790 352h3v3h-3zM783 349h3v3h-3zM790 349h3v3h-3zM783 346h10v3h-10zM783 343h10v3h-10zM794 334h3v3h-3zM783 331h21v3h-21zM804 328h4v3h-4zM808 325h3v3h-3zM808 322h3v3h-3zM696 320h4v2h-4zM693 317h7v3h-7zM811 317h4v3h-4zM689 314h4v3h-4zM682 311h11v3h-11zM682 308h4v3h-4zM874 308h3v3h-3zM831 299h7v3h-7zM831 296h7v3h-7zM897 296h3v3h-3zM831 293h10v3h-10zM896 293h4v3h-4zM766 290h14v3h-14zM831 290h10v3h-10zM893 290h6v3h-6zM742 287h3v3h-3zM766 287h14v3h-14zM831 287h20v3h-20zM892 287h10v3h-10zM742 284h7v3h-7zM766 284h13v3h-13zM831 284h20v3h-20zM746 281h3v3h-3zM746 278h6v3h-6zM903.8 278L907.1 278L907.9 281L904.5 281zM749 275h7v3h-7zM882.9 275L896.3 275L897.1 278L883.6 278zM906.3 275L909.7 275L910.5 278L907.1 278zM753 272h6v3h-6zM882.2 272L905.5 272L906.3 275L882.9 275zM908.8 272L918.7 272L919.7 275L909.7 275zM756 269h3v3h-3zM911.1 269L927.6 269L928.7 272L912.1 272zM756 266h3v3h-3zM916.5 266L926.3 266L927.6 269L917.7 269zM759 263h4v3h-4zM931.5 263L938.0 263L939.4 266L932.9 266zM798 257h3v3h-3zM931.6 257L934.8 257L936.5 260L933.2 260zM788 254h16v3h-16zM923.6 254L936.2 254L938.0 257L925.2 257zM772 251h3v3h-3zM785 251h12v3h-12zM918.7 251L934.3 251L936.2 254L920.4 254zM794 248h3v3h-3zM816 248h3v3h-3zM913.9 248L932.4 248L934.3 251L915.6 251zM814.8 245L817.8 245L818.4 248L815.4 248zM903.0 245L927.3 245L929.3 248L904.7 248zM814.1 242L823.1 242L823.9 245L814.8 245zM886.2 242L919.2 242L921.2 245L887.8 245zM816.4 239L825.3 239L826.1 242L817.1 242zM849.0 239L860.8 239L862.2 242L850.2 242zM875.6 239L893.3 239L895.2 242L877.2 242zM818.6 236L830.3 236L831.2 239L819.4 239zM836.1 236L862.3 236L863.8 239L837.1 239zM865.2 236L879.8 236L881.5 239L866.7 239zM820.7 234L857.9 234L859.4 236L821.5 236zM866.5 234L869.4 234L871.0 236L868.1 236zM822.6 231L845.1 231L846.5 234L823.5 234z"/>
<path fill="#52bef2" d="M793 367h3v3h-3zM793 364h3v3h-3zM956.0 361L959.4 361L958.6 364L955.2 364zM786 355h4v3h-4zM786 352h4v3h-4zM786 349h4v3h-4zM797 328h7v3h-7zM804 325h4v3h-4zM693 314h3v3h-3zM873 305h7v3h-7zM877 302h3v3h-3zM876 299h4v3h-4zM742 296h3v3h-3zM876 296h7v3h-7zM742 293h7v3h-7zM824 293h7v3h-7zM876 293h10v3h-10zM742 290h10v3h-10zM824 290h7v3h-7zM875 290h14v3h-14zM745 287h7v3h-7zM780 287h3v3h-3zM786 287h4v3h-4zM824 287h7v3h-7zM872 287h10v3h-10zM749 284h7v3h-7zM779 284h11v3h-11zM824 284h7v3h-7zM858 284h17v3h-17zM749 281h7v3h-7zM773 281h17v3h-17zM820 281h31v3h-31zM854 281h17v3h-17zM752 278h7v3h-7zM776 278h3v3h-3zM783 278h7v3h-7zM816 278h14v3h-14zM837 278h10v3h-10zM857 278h10v3h-10zM756 275h10v3h-10zM813 275h10v3h-10zM840 275h6v3h-6zM860 275h3v3h-3zM759 272h7v3h-7zM816 272h3v3h-3zM759 269h7v3h-7zM759 266h7v3h-7zM913.2 266L916.5 266L917.7 269L914.4 269zM763 263h3v3h-3zM915.3 263L931.5 263L932.9 266L916.5 266zM763 260h6v3h-6zM776 260h3v3h-3zM917.2 260L920.4 260L921.8 263L918.5 263zM923.6 260L933.2 260L934.8 263L925.0 263zM766 257h6v3h-6zM776 257h6v3h-6zM801 257h16v3h-16zM915.7 257L931.6 257L933.2 260L917.2 260zM769 254h19v3h-19zM810 254h4v3h-4zM817 254h3v3h-3zM917.3 254L923.6 254L925.2 257L918.9 257zM775 251h10v3h-10zM815.9 251L831.5 251L832.2 254L816.5 254zM909.4 251L918.7 251L920.4 254L911.0 254zM818.4 248L830.8 248L831.5 251L819.0 251zM883.1 248L898.5 248L900.0 251L884.5 251zM904.7 248L913.9 248L915.6 251L906.3 251zM817.8 245L833.0 245L833.8 248L818.4 248zM875.6 245L903.0 245L904.7 248L876.9 248zM823.1 242L835.2 242L836.1 245L823.9 245zM856.2 242L862.2 242L863.4 245L857.3 245zM874.2 242L886.2 242L887.8 245L875.6 245zM825.3 239L849.0 239L850.2 242L826.1 242zM860.8 239L875.6 239L877.2 242L862.2 242zM830.3 236L836.1 236L837.1 239L831.2 239zM862.3 236L865.2 236L866.7 239L863.8 239z"/>
<path fill="#c6e4f8" d="M786 364h4v3h-4zM780 328h17v3h-17zM797 325h7v3h-7zM804 322h4v3h-4zM808 320h3v2h-3zM808 317h3v3h-3zM811 314h4v3h-4zM815 311h3v3h-3zM821 308h7v3h-7zM828 305h4v3h-4zM870 305h3v3h-3zM873 302h4v3h-4zM742 299h3v3h-3zM873 299h3v3h-3zM745 296h4v3h-4zM759 296h7v3h-7zM824 296h7v3h-7zM873 296h3v3h-3zM749 293h24v3h-24zM821 293h3v3h-3zM872 293h4v3h-4zM752 290h4v3h-4zM780 290h3v3h-3zM786 290h7v3h-7zM821 290h3v3h-3zM872 290h3v3h-3zM752 287h4v3h-4zM783 287h3v3h-3zM790 287h3v3h-3zM820 287h4v3h-4zM861 287h11v3h-11zM882 287h10v3h-10zM756 284h3v3h-3zM790 284h3v3h-3zM820 284h4v3h-4zM875 284h7v3h-7zM899 284h3v3h-3zM756 281h3v3h-3zM769 281h4v3h-4zM790 281h3v3h-3zM796 281h4v3h-4zM817 281h3v3h-3zM851 281h3v3h-3zM871 281h3v3h-3zM901.1 281L904.5 281L905.1 284L901.7 284zM759 278h7v3h-7zM769 278h7v3h-7zM779 278h4v3h-4zM790 278h3v3h-3zM796 278h4v3h-4zM810 278h6v3h-6zM830 278h7v3h-7zM847 278h3v3h-3zM854 278h3v3h-3zM867 278h3v3h-3zM900.4 278L903.8 278L904.5 281L901.1 281zM766 275h7v3h-7zM776 275h3v3h-3zM783 275h6v3h-6zM799 275h4v3h-4zM810 275h3v3h-3zM823 275h7v3h-7zM836 275h4v3h-4zM846 275h4v3h-4zM856 275h4v3h-4zM863 275h4v3h-4zM766 272h3v3h-3zM786 272h23v3h-23zM813 272h3v3h-3zM819 272h4v3h-4zM839 272h10v3h-10zM855.6 272L862.3 272L862.9 275L856.2 275zM905.5 272L908.8 272L909.7 275L906.3 275zM786 269h3v3h-3zM816 269h6v3h-6zM839 269h10v3h-10zM855.0 269L858.3 269L858.9 272L855.6 272zM891.3 269L901.2 269L902.1 272L892.2 272zM907.8 269L911.1 269L912.1 272L908.8 272zM815 266h4v3h-4zM838.0 266L851.1 266L851.7 269L838.5 269zM854.3 266L857.6 266L858.3 269L855.0 269zM910.0 266L913.2 266L914.4 269L911.1 269zM766 263h13v3h-13zM815 263h3v3h-3zM837.4 263L856.9 263L857.6 266L838.0 266zM908.8 263L915.3 263L916.5 266L910.0 266zM779 260h3v3h-3zM802 260h16v3h-16zM836.8 260L856.1 260L856.9 263L837.4 263zM907.5 260L917.2 260L918.5 263L908.8 263zM782 257h10v3h-10zM817 257h3v3h-3zM845.6 257L855.2 257L856.1 260L846.4 260zM909.3 257L915.7 257L917.2 260L910.7 260zM819.6 254L835.4 254L836.1 257L820.2 257zM844.8 254L854.3 254L855.2 257L845.6 257zM907.8 254L917.3 254L918.9 257L909.3 257zM831.5 251L834.6 251L835.4 254L832.2 254zM878.2 251L900.0 251L901.5 254L879.5 254zM906.3 251L909.4 251L911.0 254L907.8 254zM830.8 248L836.9 248L837.7 251L831.5 251zM852.3 248L858.5 248L859.5 251L853.3 251zM864.6 248L883.1 248L884.5 251L865.8 251zM898.5 248L904.7 248L906.3 251L900.0 251zM833.0 245L839.1 245L840.0 248L833.8 248zM851.3 245L875.6 245L876.9 248L852.3 248zM835.2 242L856.2 242L857.3 245L836.1 245zM862.2 242L874.2 242L875.6 245L863.4 245z"/>
<path fill="#ffd22a" d="M801 322h3v3h-3zM804 320h4v2h-4zM808 314h3v3h-3zM811 311h4v3h-4zM828 302h4v3h-4zM828 299h3v3h-3zM773 293h10v3h-10zM756 290h3v3h-3zM762 290h4v3h-4zM783 290h3v3h-3zM793 287h4v3h-4zM793 284h7v3h-7zM895 284h4v3h-4zM898 281h3v3h-3zM773 275h3v3h-3zM779 275h4v3h-4zM783 272h3v3h-3zM809 272h4v3h-4zM766 269h3v3h-3zM812 269h4v3h-4zM851.7 269L855.0 269L855.6 272L852.3 272zM766 266h7v3h-7zM799 266h3v3h-3zM809 266h6v3h-6zM851.1 266L854.3 266L855.0 269L851.7 269zM786 263h3v3h-3zM802 263h13v3h-13zM782 260h20v3h-20zM833.5 260L836.8 260L837.4 263L834.1 263zM792 257h6v3h-6zM823.3 257L839.3 257L840.0 260L823.9 260zM906.1 257L909.3 257L910.7 260L907.5 260zM854.3 254L857.4 254L858.4 257L855.2 257zM834.6 251L837.7 251L838.5 254L835.4 254zM853.3 251L856.4 251L857.4 254L854.3 254zM848.2 245L851.3 245L852.3 248L849.2 248z"/>
<path fill="#ff8c00" d="M790 364h3v3h-3zM780 325h17v3h-17zM797 322h4v3h-4zM801 320h3v2h-3zM804 317h4v3h-4zM804 314h4v3h-4zM808 311h3v3h-3zM811 308h10v3h-10zM825 305h3v3h-3zM742 302h3v3h-3zM825 302h3v3h-3zM870 302h3v3h-3zM745 299h4v3h-4zM762 299h4v3h-4zM825 299h3v3h-3zM749 296h10v3h-10zM766 296h17v3h-17zM821 296h3v3h-3zM783 293h3v3h-3zM817 293h4v3h-4zM759 290h3v3h-3zM793 290h4v3h-4zM817 290h4v3h-4zM869 290h3v3h-3zM756 287h3v3h-3zM762 287h4v3h-4zM797 287h6v3h-6zM817 287h3v3h-3zM800 284h3v3h-3zM817 284h3v3h-3zM882 284h13v3h-13zM759 281h7v3h-7zM793 281h3v3h-3zM800 281h3v3h-3zM874 281h7v3h-7zM895 281h3v3h-3zM766 278h3v3h-3zM800 278h3v3h-3zM870 278h4v3h-4zM883.6 278L893.7 278L894.3 281L884.2 281zM897.1 278L900.4 278L901.1 281L897.7 281zM789 275h4v3h-4zM796 275h3v3h-3zM830 275h6v3h-6zM853 275h3v3h-3zM867 275h3v3h-3zM879.6 275L882.9 275L883.6 278L880.2 278zM773 272h10v3h-10zM823 272h3v3h-3zM836 272h3v3h-3zM853 272h3v3h-3zM862.3 272L868.9 272L869.6 275L862.9 275zM872.2 272L882.2 272L882.9 275L872.9 275zM769 269h4v3h-4zM782 269h4v3h-4zM796 269h3v3h-3zM822 269h4v3h-4zM835 269h4v3h-4zM849 269h3v3h-3zM858.3 269L861.6 269L862.3 272L858.9 272zM868.2 269L871.5 269L872.2 272L868.9 272zM881.4 269L891.3 269L892.2 272L882.2 272zM901.2 269L907.8 269L908.8 272L902.1 272zM773 266h6v3h-6zM819 266h3v3h-3zM835 266h3v3h-3zM857.6 266L860.9 266L861.6 269L858.3 269zM867.4 266L870.7 266L871.5 269L868.2 269zM893.6 266L900.2 266L901.2 269L894.6 269zM906.7 266L910.0 266L911.1 269L907.8 269zM779 263h7v3h-7zM795 263h4v3h-4zM818 263h3v3h-3zM834 263h4v3h-4zM856.9 263L860.1 263L860.9 266L857.6 266zM905.5 263L908.8 263L910.0 266L906.7 266zM818 260h3v3h-3zM824 260h10v3h-10zM856.1 260L859.3 260L860.1 263L856.9 263zM904.3 260L907.5 260L908.8 263L905.5 263zM820 257h4v3h-4zM839.3 257L842.5 257L843.2 260L840.0 260zM855.2 257L858.4 257L859.3 260L856.1 260zM903.0 257L906.1 257L907.5 260L904.3 260zM835.4 254L838.5 254L839.3 257L836.1 257zM857.4 254L860.6 254L861.6 257L858.4 257zM885.8 254L898.4 254L899.8 257L887.0 257zM904.7 254L907.8 254L909.3 257L906.1 257zM837.7 251L840.8 251L841.7 254L838.5 254zM850.2 251L853.3 251L854.3 254L851.1 254zM856.4 251L859.5 251L860.6 254L857.4 254zM900.0 251L903.1 251L904.7 254L901.5 254zM836.9 248L840.0 248L840.8 251L837.7 251zM849.2 248L852.3 248L853.3 251L850.2 251zM858.5 248L864.6 248L865.8 251L859.5 251zM839.1 245L842.1 245L843.1 248L840.0 248zM845.2 245L848.2 245L849.2 248L846.1 248z"/>
<path fill="#ff0000" d="M789 367h4v3h-4zM801 314h3v3h-3zM804 311h4v3h-4zM821 305h4v3h-4zM821 302h4v3h-4zM749 299h3v3h-3zM759 299h3v3h-3zM773 299h3v3h-3zM869 296h4v3h-4zM814 290h3v3h-3zM759 287h3v3h-3zM803 287h4v3h-4zM814 284h3v3h-3zM803 281h4v3h-4zM884 281h4v3h-4zM891 281h4v3h-4zM773 269h3v3h-3zM861.6 269L864.9 269L865.6 272L862.3 272zM871.5 269L874.8 269L875.6 272L872.2 272zM832 266h3v3h-3zM864.2 266L867.4 266L868.2 269L864.9 269zM870.7 266L874.0 266L874.8 269L871.5 269zM883.8 266L887.1 266L888.0 269L884.7 269zM903.4 266L906.7 266L907.8 269L904.5 269zM858.4 257L861.6 257L862.5 260L859.3 260zM890.2 257L893.4 257L894.7 260L891.4 260zM896.6 257L903.0 257L904.3 260L897.9 260zM841.7 254L844.8 254L845.6 257L842.5 257zM860.6 254L863.7 254L864.7 257L861.6 257zM882.6 254L885.8 254L887.0 257L883.8 257zM844.0 251L847.1 251L848.0 254L844.8 254zM862.6 251L865.8 251L866.9 254L863.7 254zM875.1 251L878.2 251L879.5 254L876.3 254z"/>
<path fill="#d02828" d="M780 322h17v3h-17zM780 320h21v2h-21zM780 317h24v3h-24zM752 314h17v3h-17zM773 314h28v3h-28zM748 311h56v3h-56zM748 308h63v3h-63zM745 305h76v3h-76zM745 302h76v3h-76zM752 299h7v3h-7zM766 299h7v3h-7zM776 299h49v3h-49zM869 299h4v3h-4zM783 296h38v3h-38zM866 296h3v3h-3zM786 293h31v3h-31zM865 293h7v3h-7zM797 290h17v3h-17zM865 290h4v3h-4zM807 287h10v3h-10zM759 284h7v3h-7zM803 284h11v3h-11zM766 281h3v3h-3zM807 281h10v3h-10zM881 281h3v3h-3zM888 281h3v3h-3zM793 278h3v3h-3zM803 278h7v3h-7zM850 278h4v3h-4zM874 278h10v3h-10zM893.7 278L897.1 278L897.7 281L894.3 281zM793 275h3v3h-3zM803 275h7v3h-7zM850 275h3v3h-3zM869.6 275L879.6 275L880.2 278L870.2 278zM769 272h4v3h-4zM826 272h10v3h-10zM849 272h4v3h-4zM868.9 272L872.2 272L872.9 275L869.6 275zM776 269h6v3h-6zM792 269h4v3h-4zM826 269h9v3h-9zM864.9 269L868.2 269L868.9 272L865.6 272zM874.8 269L881.4 269L882.2 272L875.6 272zM779 266h3v3h-3zM822 266h10v3h-10zM860.9 266L864.2 266L864.9 269L861.6 269zM874.0 266L883.8 266L884.7 269L874.8 269zM887.1 266L893.6 266L894.6 269L888.0 269zM900.2 266L903.4 266L904.5 269L901.2 269zM821 263h13v3h-13zM860.1 263L905.5 263L906.7 266L860.9 266zM821 260h3v3h-3zM859.3 260L904.3 260L905.5 263L860.1 263zM842.5 257L845.6 257L846.4 260L843.2 260zM861.6 257L890.2 257L891.4 260L862.5 260zM893.4 257L896.6 257L897.9 260L894.7 260zM838.5 254L841.7 254L842.5 257L839.3 257zM863.7 254L882.6 254L883.8 257L864.7 257zM898.4 254L904.7 254L906.1 257L899.8 257zM840.8 251L844.0 251L844.8 254L841.7 254zM847.1 251L850.2 251L851.1 254L848.0 254zM859.5 251L862.6 251L863.7 254L860.6 254zM865.8 251L875.1 251L876.3 254L866.9 254zM903.1 251L906.3 251L907.8 254L904.7 254zM840.0 248L849.2 248L850.2 251L840.8 251zM842.1 245L845.2 245L846.1 248L843.1 248z"/></g>
<path fill="none" stroke="#000" stroke-width="0.7" stroke-linejoin="round" d="M591.0 220.6L592.1 222.2L596.7 222.0L594.2 223.5L590.1 224.2L586.0 226.2L585.1 227.8L587.0 228.5L585.9 229.9L587.1 230.4L590.5 230.4L588.5 232.1L582.0 234.5L575.5 236.4L579.4 235.8L584.1 234.6L589.9 232.4L593.8 231.0L596.3 229.2L600.2 227.3L602.9 226.8L598.2 229.5L601.2 228.8L604.4 227.3L606.7 227.3L607.6 228.5L610.3 228.6L612.2 228.9L613.2 230.8L612.9 232.9L612.6 235.4L614.6 236.1L615.4 236.9L615.3 238.8L615.0 241.1L613.6 242.2L614.8 244.4L615.4 245.7L615.4 245.8L614.3 248.8L612.6 251.9L610.4 254.5L608.6 258.3L608.2 260.6L608.8 262.7L608.8 264.2L609.2 267.4L611.0 268.2L611.6 268.8L612.6 270.4L612.8 272.0L613.0 274.6L614.4 277.0L613.0 278.1L614.6 279.9L615.7 282.9L618.1 285.9L618.9 285.1L617.9 283.3L617.3 281.0L616.2 277.8L615.1 274.6L615.2 272.0L617.4 272.6L617.6 275.4L618.7 278.0L619.9 281.0L621.5 282.5L623.0 285.2L623.9 288.1L623.5 289.8L624.8 291.9L627.8 293.7L630.5 295.5L633.6 296.9L637.1 296.6L638.7 296.9L640.6 299.1L643.5 300.4L646.5 301.2L646.9 301.6L648.2 303.1L649.0 304.6L648.9 306.2L650.3 306.5L651.7 308.3L652.6 308.9L654.3 309.2L655.5 310.5L656.5 310.2L656.4 308.9L657.6 307.8L659.2 308.9L659.7 310.5L660.3 311.0L660.1 313.3L660.3 315.7L658.6 318.1L657.9 319.5L656.4 320.7L655.8 323.6L655.1 325.5L656.5 325.9L656.8 326.7L656.1 327.4L654.8 329.1L655.3 331.5L657.0 333.4L658.8 336.2L661.0 340.9L662.5 343.8L664.2 346.2L668.2 348.5L670.0 349.8L671.5 351.0L672.1 354.4L672.2 359.1L672.4 363.0L672.1 367.8L672.5 370.9L673.1 374.1L672.8 378.0L672.7 380.7L673.3 384.3L673.9 387.9L674.4 390.6L674.6 395.6L675.7 398.3L677.2 401.4L679.5 404.0L682.9 406.7L686.6 408.5L689.9 409.2L691.9 407.7L689.9 406.7L687.1 405.0L686.6 404.1L685.4 402.9L684.7 401.1L685.7 399.4L687.2 397.2L684.3 394.9L684.6 393.2L686.1 392.9L685.8 390.6L687.3 389.3L685.4 388.6L684.8 386.4L688.3 386.4L687.7 383.5L691.7 382.9L693.4 382.0L693.9 379.5L692.8 378.0L691.0 376.3L691.8 376.3L694.1 377.1L695.8 377.1L697.3 375.4L698.6 372.8L700.3 370.6L701.3 368.1L702.5 365.9L702.3 362.9L704.1 360.5L706.5 359.6L709.1 358.3L710.8 358.1L712.0 356.4L712.9 353.6L714.1 350.1L714.2 345.7L714.6 342.5L716.3 339.8L718.0 337.8L719.4 335.4L719.6 333.4L719.0 330.4L716.5 329.6L714.4 327.8L712.2 326.4L709.7 326.4L706.7 325.9L703.9 323.9L701.1 322.9L698.3 322.0L698.3 319.2L697.0 315.7L694.9 313.6L692.8 312.8L691.2 312.5L688.7 312.5L687.0 311.1L684.9 308.9L683.2 308.4L682.2 306.2L681.3 305.1L679.2 305.4L677.8 306.1L676.2 305.3L673.7 305.3L673.3 304.3L671.0 302.7L670.6 303.8L669.0 304.6L669.2 303.4L669.3 302.4L668.0 303.1L666.4 304.2L665.0 304.2L663.3 305.3L662.9 307.0L661.3 308.3L661.0 309.4L660.5 308.3L659.0 307.2L657.5 307.0L655.8 308.0L654.5 307.8L653.4 307.0L652.8 306.2L652.1 304.8L652.0 302.3L652.6 299.9L653.1 298.3L651.5 297.1L649.4 296.9L647.1 296.9L645.8 297.1L646.6 295.2L647.0 293.0L648.1 291.2L649.4 288.5L647.8 287.9L644.6 288.7L643.9 290.4L643.5 291.7L642.0 292.6L639.6 293.0L637.8 293.1L636.5 292.3L635.9 291.2L635.0 288.9L634.6 286.5L635.2 284.1L636.4 281.1L636.6 278.9L637.8 277.3L640.2 276.2L641.2 275.4L642.8 275.0L644.7 275.3L645.9 275.9L648.0 276.2L648.2 274.5L649.6 274.2L651.7 274.0L653.0 274.2L653.7 275.1L655.3 274.5L656.3 275.4L656.8 277.0L656.5 278.6L657.1 280.2L657.6 281.3L658.0 282.2L659.0 282.2L659.6 281.0L659.8 279.4L659.7 277.3L659.4 275.4L659.2 273.9L659.8 272.3L660.8 271.0L662.5 269.9L663.9 268.6L665.2 268.3L667.2 267.2L668.7 266.3L669.0 264.4L668.9 263.6L669.9 262.3L670.8 261.2L671.9 260.0L673.0 258.4L676.0 257.3L677.2 256.5L678.4 256.4L679.0 255.8L678.1 255.8L678.1 254.8L678.7 253.9L679.6 253.1L681.3 252.6L682.7 252.0L684.2 251.4L685.6 250.8L687.3 250.2L684.9 252.3L685.1 253.3L687.0 252.3L688.5 251.7L691.2 250.8L693.4 249.8L693.5 248.1L691.9 249.5L690.2 250.0L688.8 249.4L688.0 248.3L688.1 246.9L687.3 246.4L689.0 246.0L689.6 245.1L687.7 244.6L685.0 245.4L683.5 246.0L684.5 244.9L686.7 244.0L687.8 243.1L690.7 242.9L693.3 243.1L695.5 242.9L697.3 241.9L699.8 241.1L701.7 240.0L702.1 238.4L700.8 237.0L699.3 235.8L698.0 234.6L697.4 232.6L697.2 231.1L696.6 229.2L696.3 227.9L694.9 229.2L693.1 230.2L691.2 230.7L689.7 230.2L690.6 228.5L690.8 227.0L689.4 226.6L688.8 225.6L686.9 225.2L684.3 224.9L682.8 225.2L682.4 226.8L681.6 228.5L680.9 229.9L679.6 230.2L680.3 232.1L679.8 233.9L678.1 235.1L675.2 236.3L674.9 238.1L674.1 240.3L672.9 241.4L671.4 241.4L671.0 239.9L670.6 238.8L672.3 235.8L671.0 235.4L668.9 235.1L667.2 234.0L666.1 232.9L664.1 232.4L661.9 232.9L663.1 231.4L661.8 230.2L662.4 228.5L664.0 227.0L666.8 225.3L669.8 224.2L670.9 223.1L673.3 222.8L675.5 221.8L676.2 220.8L677.9 220.0L679.3 219.5L680.8 219.6L683.5 218.6L685.1 216.6L685.5 215.0L683.1 214.9L681.3 215.9L680.6 217.3L678.3 218.0L677.8 217.3L676.5 216.2L676.8 215.3L675.8 214.6L677.5 212.7L675.6 212.0L672.8 213.7L670.7 215.3L671.6 216.6L671.1 218.0L669.3 217.6L667.3 217.6L667.6 216.6L664.2 217.6L661.4 217.3L659.9 216.6L656.6 218.0L657.6 216.9L655.2 217.3L651.9 217.6L649.9 217.4L650.7 216.6L649.4 215.9L647.0 215.3L644.5 214.9L643.2 214.6L642.0 215.3L639.7 214.6L637.7 214.6L634.9 215.3L632.9 215.3L630.1 215.9L628.1 215.2L626.2 215.0L623.9 214.5L620.4 214.1L617.1 213.6L613.6 212.9L610.2 213.6L606.1 214.4L602.6 215.7L599.3 216.2L599.1 217.8L599.0 218.6L599.6 219.3L597.0 219.3L594.2 219.9zM718.9 228.8L717.1 227.5L714.6 226.8L713.7 224.9L712.9 222.8L712.7 220.7L712.3 218.6L713.4 216.6L716.4 215.7L713.4 214.6L714.0 213.3L714.1 211.4L713.7 209.5L713.5 207.6L710.8 206.8L707.0 207.0L704.7 206.4L703.7 205.5L702.8 204.4L706.5 203.3L710.3 203.0L712.2 201.9L717.3 200.9L722.1 200.2L728.1 199.9L735.2 199.2L741.1 198.9L745.9 199.2L749.7 199.9L752.8 200.9L757.9 200.9L756.0 201.9L753.3 202.4L751.6 204.1L750.7 205.8L749.8 207.6L748.6 208.9L746.9 210.1L746.5 212.0L745.6 214.0L743.1 214.0L743.8 215.3L741.5 216.5L737.3 217.2L733.9 218.4L731.4 219.7L728.0 220.6L725.6 221.4L723.9 223.5L721.6 225.6L720.3 227.8zM704.2 219.2L700.6 221.7L698.0 224.2L696.5 225.6L693.9 225.3L691.1 224.5L690.7 223.2L689.2 222.1L684.8 222.4L685.4 221.4L689.9 221.0L691.4 219.3L693.2 218.0L693.4 216.9L691.7 216.3L690.4 215.3L688.8 214.6L687.1 214.9L683.8 214.6L681.1 214.2L679.9 213.3L680.6 211.4L682.4 209.9L685.9 209.7L685.4 211.4L684.4 212.7L689.6 209.9L691.0 209.9L692.6 210.9L693.4 211.1L695.0 212.3L697.2 213.3L699.1 214.2L699.6 215.9L700.3 217.3L702.4 218.2zM698.2 206.5L694.2 206.8L689.9 206.5L686.3 206.4L688.9 204.9L691.2 204.4L690.5 203.5L693.9 202.1L690.7 201.2L694.3 200.4L702.1 199.4L710.4 199.3L716.5 199.9L713.9 200.9L709.8 201.7L705.3 202.7L701.0 203.5L700.8 204.6L697.3 205.5L697.6 206.2zM690.3 204.4L687.8 204.3L684.7 203.2L685.5 201.9L689.9 201.2L692.1 202.1L689.0 203.3zM692.6 208.6L687.6 208.9L682.2 208.6L681.8 207.6L678.5 207.6L680.3 206.1L683.7 206.3L685.2 207.5L690.1 207.3L693.6 207.5zM665.6 215.9L661.4 216.1L656.0 216.5L652.4 216.5L650.4 215.9L650.8 214.6L656.2 214.2L651.2 213.3L651.1 212.5L654.3 211.0L658.4 210.4L662.4 211.1L666.1 210.4L666.0 211.4L664.5 213.3L666.5 214.4zM646.5 213.1L645.3 212.0L648.6 210.1L653.6 208.9L656.3 210.1L652.4 211.4L648.9 212.7zM668.5 208.2L661.9 209.0L658.5 208.0L661.2 206.7L667.1 206.4L670.0 207.0zM672.6 212.7L669.4 212.9L668.9 211.4L672.0 209.7L675.3 209.9zM680.4 211.0L674.9 211.8L677.1 209.5L681.3 209.5zM676.0 208.2L671.7 207.9L673.5 206.4L678.2 206.3zM681.4 223.5L676.9 224.6L674.6 223.2L677.6 220.4L679.7 221.1L682.0 222.5zM670.7 216.5L666.9 216.2L669.2 214.8L671.3 215.2zM695.1 247.1L698.8 248.1L702.2 248.6L703.1 247.2L702.2 245.7L702.9 244.4L700.5 243.4L701.6 240.9L699.4 242.3L697.2 244.4L695.4 246.0zM652.1 287.4L654.9 285.9L658.4 285.5L661.6 286.8L664.5 289.2L666.4 290.1L661.8 290.7L661.3 289.3L659.0 287.9L656.1 286.8L653.6 287.1zM665.7 293.0L668.4 293.3L669.7 294.1L671.9 293.1L674.0 293.1L673.4 291.5L670.7 290.6L668.0 290.6L668.1 292.0L666.0 292.5zM660.3 293.1L662.2 293.9L663.3 293.6L662.3 292.8zM675.7 293.6L677.7 293.6L677.8 292.8L675.7 292.8zM661.3 283.6L662.4 284.1L662.5 282.2L661.8 282.2zM663.1 280.6L663.8 280.5L664.0 279.5L661.9 279.7zM682.1 306.1L683.3 306.1L683.4 305.0L682.3 305.1zM743.9 222.9L746.5 223.5L748.6 223.6L752.0 222.4L753.6 221.4L752.5 219.7L750.8 219.3L748.6 219.9L746.5 220.0L744.5 219.5L742.7 220.7L744.7 221.4L742.5 221.7L744.5 222.4zM761.1 243.4L763.8 242.9L766.2 242.3L768.6 242.2L769.7 241.4L770.0 239.3L768.4 238.8L768.0 237.8L766.6 236.4L766.1 235.1L764.5 234.3L765.7 232.9L765.7 231.8L763.5 231.8L764.4 230.5L762.4 230.5L761.2 232.1L761.7 233.6L760.8 234.6L762.2 235.8L762.3 236.3L763.9 236.0L764.5 237.3L764.2 238.4L762.7 238.5L763.0 239.9L761.8 240.6L763.8 241.1L764.4 241.6L762.6 241.9L761.7 242.9zM756.0 240.9L757.8 240.9L760.5 240.0L760.9 238.4L761.5 236.6L760.4 235.5L758.5 235.5L757.9 236.7L756.3 237.0L756.4 238.4L756.7 239.4L755.7 240.3zM777.6 202.8L779.6 204.4L780.7 205.5L783.3 206.3L784.7 205.2L787.2 204.4L785.6 203.5L789.0 203.2L791.4 202.4L786.9 202.0L782.7 202.4L780.2 202.6zM818.6 212.5L822.7 213.7L825.1 213.7L822.4 211.4L823.2 209.5L825.0 207.9L828.7 206.7L831.0 206.1L829.0 205.8L825.1 206.7L821.4 208.0L820.4 210.4L819.1 211.6zM851.6 203.4L857.6 204.6L861.6 204.3L858.9 203.0L854.2 202.1L849.8 201.4L848.6 202.4zM896.0 207.9L901.7 208.5L905.1 208.2L908.4 208.0L904.4 206.8L899.3 207.0L895.6 207.0zM902.4 210.2L906.1 210.5L903.9 209.6zM944.7 213.3L946.4 213.4L945.1 212.7L943.9 212.5zM589.6 213.4L592.5 213.2L593.1 212.5L590.9 212.7zM809.4 202.2L815.7 202.4L821.3 201.9L818.9 201.1L813.6 200.9L809.0 201.6zM817.1 216.2L818.6 216.2L818.2 215.3L816.7 215.3zM944.5 249.7L945.4 248.3L944.0 247.2L942.5 244.9L944.1 244.9L940.8 242.6L938.5 239.6L935.2 236.9L935.7 238.4L937.8 241.1L940.1 243.4L942.2 246.4L943.4 248.3zM946.8 256.5L947.7 256.1L950.1 255.8L951.7 253.7L949.7 252.6L944.9 250.3L945.6 251.9L946.4 253.7L945.2 253.9L945.5 255.3zM940.8 268.3L941.1 267.2L942.5 266.0L945.7 265.8L946.5 263.9L946.6 262.8L948.3 263.1L948.6 261.2L947.9 258.9L947.2 257.0L948.5 256.7L950.4 258.9L951.4 260.5L951.0 262.0L952.0 263.9L952.6 265.6L952.0 266.8L951.4 266.3L950.7 267.2L948.6 267.4L948.3 267.9L947.6 269.1L946.1 267.9L943.9 267.7L942.5 268.2L941.0 268.5zM942.7 268.5L943.7 270.1L944.6 269.3L945.6 269.4L945.8 268.5L944.1 268.0zM940.2 268.8L941.0 268.6L942.7 270.1L943.0 272.4L941.6 272.7L940.9 271.0L939.7 269.9zM931.8 285.7L932.9 287.3L933.4 284.9L933.4 282.5L932.4 282.2L931.7 283.6zM917.1 291.7L918.4 293.3L919.7 292.3L920.1 290.9L919.0 290.3L917.6 290.6zM933.8 296.7L933.5 293.3L934.8 292.6L936.0 293.1L936.4 295.5L935.6 297.5L936.6 299.7L938.5 300.1L939.7 301.5L939.7 302.1L938.1 300.8L936.4 300.2L934.7 299.9L934.6 298.8L933.7 298.3zM937.3 305.4L937.1 303.4L938.8 303.8L940.3 303.8L941.4 302.3L942.3 304.3L941.8 305.9L940.1 305.9L939.5 307.3L938.8 307.3L938.7 305.9zM937.7 311.0L939.0 310.2L940.7 310.5L940.6 312.2L942.4 313.0L943.3 312.1L943.9 310.5L943.5 308.6L942.2 306.7L941.3 308.3L939.9 308.9L938.9 308.4L937.9 309.7zM930.9 308.7L931.9 308.1L933.8 305.4L933.7 304.2L932.6 305.9zM920.0 319.3L920.8 318.8L922.8 319.6L923.3 318.1L925.5 316.9L926.8 314.7L928.8 313.3L930.5 311.0L931.8 312.1L934.0 313.8L932.4 315.2L932.0 317.3L932.5 318.5L933.9 320.4L932.3 320.9L931.8 323.3L930.4 324.4L930.1 326.7L929.6 328.3L927.8 328.5L926.2 327.2L923.8 327.5L921.6 326.6L921.4 324.4L920.3 323.1L920.0 321.5zM900.7 313.2L903.8 313.8L905.5 316.0L908.1 318.5L909.9 319.3L911.9 321.2L912.7 323.6L913.7 324.8L915.7 326.7L915.3 331.2L913.6 331.2L912.1 329.7L910.5 328.3L908.8 325.9L907.9 323.6L906.2 321.5L905.3 319.3L903.5 316.9L901.7 315.4L900.7 313.8zM914.3 332.7L915.5 331.3L916.9 331.3L919.0 332.4L922.0 332.1L924.6 332.9L927.2 334.2L927.0 335.7L924.3 335.3L920.9 334.8L918.2 334.3L916.0 333.7zM927.2 334.8L930.2 334.9L932.0 334.9L933.7 335.3L933.3 335.9L930.5 336.4L928.7 335.9L927.2 335.6zM934.5 335.3L936.2 335.1L939.0 334.9L938.6 335.7L936.1 336.0L934.6 335.9zM933.3 336.8L935.7 337.6L934.8 338.3L933.2 337.5zM939.4 338.3L940.6 336.7L942.8 335.6L944.9 335.3L943.7 336.4L941.5 337.3L940.1 338.3zM934.4 330.7L934.5 327.5L933.6 326.3L935.1 322.0L935.6 320.1L937.4 320.3L940.2 320.6L942.6 319.5L941.6 321.4L938.8 321.2L936.0 321.2L935.6 323.3L937.0 323.6L939.9 323.3L938.4 324.8L937.4 325.2L938.7 327.4L939.3 329.1L938.5 330.7L937.5 329.4L936.6 327.2L935.7 326.7L935.6 330.8zM945.8 322.0L946.2 318.8L947.4 319.6L947.5 321.5L946.5 323.3zM946.4 327.1L950.3 326.7L950.2 328.0L946.3 327.7zM943.6 327.1L945.3 327.1L945.2 328.0L943.5 328.0zM950.7 323.3L952.8 322.6L954.8 323.3L955.1 325.9L956.1 327.2L958.3 325.5L960.4 324.5L962.5 325.5L964.5 326.1L967.3 327.4L969.3 328.0L971.0 329.9L972.6 331.5L973.6 332.6L972.8 333.0L973.7 334.6L975.6 337.0L977.3 338.3L975.4 338.4L972.7 337.8L970.9 335.4L968.9 334.2L967.4 335.3L966.3 336.5L963.9 336.4L961.9 334.8L959.8 335.1L961.1 333.0L960.1 330.7L957.4 329.3L954.7 328.2L953.3 328.5L953.1 327.1L952.0 326.4L954.1 325.6L952.4 325.5L950.6 324.2zM974.4 330.8L976.8 330.7L979.0 328.6L980.1 328.8L979.3 330.8L976.7 331.9L974.7 331.5zM978.2 326.1L980.5 328.0L981.1 329.4L980.6 328.8L978.4 326.7zM983.7 331.5L985.0 332.7L984.3 332.9L983.3 331.5zM989.5 336.7L991.2 337.5L990.5 337.6L989.5 337.2zM878.9 309.4L879.3 306.7L880.8 308.6L881.9 310.5L881.1 312.1L879.6 312.5L879.0 311.0zM836.3 340.9L837.4 345.7L836.5 348.8L835.2 352.0L833.5 356.7L832.1 361.3L829.7 362.3L827.7 361.1L827.3 358.3L827.6 355.9L829.0 353.3L828.5 349.6L830.0 347.3L832.9 346.2L834.4 343.3zM953.2 386.4L955.2 386.8L957.7 386.5L956.2 388.6L954.2 390.3L952.1 390.6L952.2 389.0zM995.6 376.3L996.5 377.7L997.1 379.9L996.8 381.3L999.4 381.3L999.6 382.0L996.9 384.0L995.2 385.1L991.4 387.6L991.1 387.2L992.9 385.4L992.4 384.3L994.3 382.8L995.5 380.7L995.4 377.7zM989.4 385.9L990.5 387.0L989.2 388.2L985.9 390.6L983.0 391.8L980.4 394.2L977.8 395.4L976.0 395.2L974.8 394.5L977.6 392.6L980.7 391.1L985.3 388.7L987.9 386.7zM992.6 353.7L994.4 354.8L995.8 357.0L995.1 357.4L993.4 355.9L992.4 354.4zM1011.8 349.6L1013.6 349.6L1013.4 350.7L1011.6 350.7zM1014.3 347.9L1016.0 347.7L1015.8 348.5L1014.1 348.7zM998.0 345.7L998.8 345.7L998.7 348.0L998.0 348.0zM554.0 292.0L555.5 291.2L555.4 290.1L554.3 290.6zM552.9 288.9L554.6 289.5L554.3 288.9L553.4 288.5zM551.8 288.4L552.5 288.4L552.4 287.7zM550.0 287.3L550.6 287.3L550.4 287.0zM640.4 323.6L641.1 322.3L641.4 323.6zM784.2 262.0L788.1 261.7L787.8 263.9L786.2 263.6L784.5 262.8zM778.7 260.5L778.6 257.6L779.9 257.0L780.5 258.9L780.3 260.3L779.4 260.6zM779.1 256.5L779.0 255.0L779.9 254.2L780.1 256.2zM799.0 266.3L800.1 266.0L802.4 266.4L800.9 266.8L799.0 266.4zM810.5 267.1L811.4 267.4L812.7 266.8L813.2 265.8L812.0 266.3L811.1 266.4zM771.1 259.8L772.3 259.8L772.2 259.0L771.2 259.2zM695.0 402.9L697.3 402.6L698.9 403.1L697.8 404.1L695.2 403.7zM723.4 406.7L725.8 407.1L726.0 407.9L723.5 407.1zM851.8 399.1L853.9 399.2L853.3 400.2L851.7 400.0zM591.2 232.9L594.6 232.1L595.5 231.0L593.3 231.4zM568.9 238.5L571.9 237.9L572.5 237.3L570.1 237.9zM559.9 240.3L562.7 239.9L562.5 239.6zM555.2 240.8L557.2 240.6L556.9 240.3zM583.1 223.8L585.2 224.2L586.2 223.5L583.9 223.2zM581.7 228.8L583.2 228.6L583.8 227.9L582.6 228.1zM611.9 237.3L611.4 239.6L611.8 240.3L612.6 238.1L613.4 237.3zM689.9 243.5L692.5 244.8L692.9 244.3L691.1 243.5zM688.6 248.3L690.7 249.5L691.2 248.8L689.4 248.6zM960.2 235.4L962.0 236.1L961.9 235.8zM951.0 251.9L952.6 250.6L951.9 250.5L950.7 251.4zM954.1 249.2L955.3 247.5L954.8 247.7L953.8 248.8zM955.6 243.4L956.0 242.2L955.4 242.5zM822.5 332.3L823.1 331.5L822.8 331.0zM841.8 302.3L843.5 302.1L843.1 302.6L841.8 302.6zM843.4 355.6L844.3 355.1L844.2 355.8zM846.4 354.4L847.2 353.7L847.1 354.4zM827.9 340.6L828.3 340.0L828.3 340.8zM745.2 277.6L746.3 277.0L745.9 277.8zM748.7 277.6L749.9 275.9L749.3 277.5zM735.1 298.3L735.7 297.8L735.7 298.5zM734.5 262.3L735.3 262.3L734.9 262.5zM745.2 270.2L745.9 270.2L745.6 270.5zM760.1 225.6L760.9 225.2L760.6 225.9zM766.3 228.5L766.9 227.6L766.6 227.8zM759.3 213.4L760.1 213.2L759.9 213.4zM788.8 232.9L789.6 231.5L789.5 232.4zM896.5 303.5L896.6 300.8L896.2 302.3zM777.1 321.8L777.3 321.4L777.3 321.8zM779.8 316.8L780.4 316.2L780.1 316.8zM760.3 265.5L761.1 265.3L764.1 266.3L766.0 266.4L768.0 265.3L771.9 263.9L777.1 263.6L780.8 263.1L782.3 263.6L781.7 265.2L782.2 267.5L781.3 268.3L782.8 269.6L785.5 270.1L788.3 271.0L788.6 272.3L791.4 273.2L793.7 274.2L794.7 273.1L794.6 271.2L796.5 270.1L798.8 270.7L801.3 272.0L804.0 272.7L806.7 273.2L808.0 272.6L809.3 272.3L811.1 272.7L811.6 274.6L812.1 276.5L813.6 278.9L815.5 282.5L816.6 284.9L818.4 287.3L818.9 289.6L819.1 291.2L820.9 293.6L822.2 297.2L824.7 299.6L826.8 301.5L828.0 302.3L827.9 303.8L829.7 305.4L833.2 304.3L835.9 304.0L838.9 303.2L838.8 305.6L838.2 307.8L836.9 311.0L835.5 314.1L833.5 317.3L831.3 318.8L828.7 321.5L826.6 323.6L825.2 325.2L823.7 327.5L823.2 329.1L822.3 331.5L822.9 333.0L822.9 336.2L824.1 338.6L824.2 341.7L824.1 344.9L823.9 346.5L822.4 348.0L819.6 349.8L818.5 351.2L816.0 353.3L815.9 355.1L816.4 357.0L816.3 359.6L815.2 361.0L812.7 362.3L812.3 363.0L812.4 365.4L811.4 367.5L809.5 369.4L808.0 371.4L805.8 373.6L803.7 375.2L801.9 375.7L799.0 375.8L797.0 376.0L794.3 376.9L792.4 376.1L792.2 374.1L792.2 372.5L791.4 370.1L790.2 367.3L788.5 364.1L787.7 359.9L787.8 357.8L786.2 354.4L784.5 350.4L784.3 348.0L785.0 345.7L786.7 341.7L787.1 339.4L786.3 336.2L785.4 332.3L785.0 331.5L784.4 329.6L783.3 328.0L781.5 325.6L780.3 323.3L781.2 321.5L781.2 320.1L781.7 318.1L781.5 316.0L780.3 314.9L777.8 315.1L776.4 315.2L775.0 313.3L774.0 312.1L772.7 311.9L769.7 312.4L767.7 313.3L765.2 314.4L763.5 313.9L762.4 313.8L759.6 314.4L757.6 315.1L755.5 313.8L753.0 312.1L752.0 311.1L750.6 310.2L749.7 308.6L749.0 307.0L747.6 305.1L746.9 304.3L745.8 303.4L744.9 302.4L744.8 301.0L744.5 299.6L743.8 298.8L745.3 296.7L745.6 294.4L746.0 293.4L745.8 291.5L745.4 289.6L744.8 288.9L744.8 287.3L746.2 284.6L747.6 282.5L748.4 280.8L750.2 278.3L750.6 277.8L753.1 276.5L754.6 275.4L755.0 273.9L754.9 272.3L755.8 270.7L758.0 269.0L759.0 268.3L759.9 266.4zM760.7 265.2L759.8 264.4L758.4 263.3L756.4 263.6L756.6 261.4L755.7 260.9L756.6 258.6L756.9 257.0L756.7 255.4L756.2 254.2L757.9 253.1L760.7 253.3L763.2 253.4L765.7 253.6L766.5 251.9L766.6 250.2L766.5 249.2L765.3 247.7L763.7 246.9L762.1 246.4L762.3 245.7L764.3 245.2L766.0 245.4L765.8 243.8L766.7 244.3L768.1 244.1L769.8 243.2L769.9 242.0L771.8 241.2L772.8 240.3L773.6 238.8L774.5 238.2L776.3 238.1L778.0 237.8L778.2 236.7L777.6 235.1L777.3 233.6L777.4 232.7L779.0 232.4L780.1 231.8L780.0 233.6L780.5 233.8L779.6 235.1L779.4 236.0L780.7 237.0L782.1 237.0L783.8 236.7L784.8 237.3L786.7 236.9L789.6 236.1L790.8 236.7L791.3 236.0L792.3 235.1L792.1 233.2L792.5 232.1L793.7 231.8L795.5 232.9L795.6 231.0L794.4 229.6L795.6 229.2L799.3 229.1L801.7 228.6L799.6 227.6L796.8 227.9L795.7 228.3L793.7 228.8L791.8 227.8L791.4 226.3L791.3 224.2L794.0 221.7L794.9 221.4L793.4 220.3L791.2 220.6L790.7 222.1L789.8 223.2L787.6 224.9L787.0 226.3L787.0 227.5L788.8 228.5L788.4 229.5L786.9 230.7L786.8 232.1L786.6 233.6L784.7 234.3L784.5 235.2L783.1 235.2L782.6 234.0L781.7 232.1L780.6 230.2L780.0 229.5L779.8 228.6L778.7 230.1L777.1 231.2L775.9 231.4L774.3 230.2L773.7 228.5L773.5 226.3L774.0 225.3L775.6 224.5L777.1 223.5L779.2 223.5L779.7 222.1L781.1 220.3L781.5 218.6L783.0 218.0L783.8 216.9L782.3 216.9L784.2 215.9L786.6 215.0L789.0 214.4L791.3 213.6L793.5 213.2L795.7 213.3L798.9 214.1L798.2 215.0L801.3 215.4L804.4 215.7L809.6 217.6L810.8 218.9L809.8 219.7L807.8 220.0L804.4 219.2L802.3 218.9L804.2 220.3L805.3 222.2L807.6 222.8L808.5 222.1L811.1 222.0L810.2 220.7L812.4 219.5L814.2 219.6L813.4 218.0L812.9 216.6L815.2 217.3L816.2 218.6L818.2 217.3L822.0 216.6L824.1 216.6L826.9 216.2L829.2 215.7L828.1 214.6L832.7 215.5L836.1 216.2L837.0 215.3L834.7 214.0L833.5 212.0L834.6 210.7L837.0 210.7L839.6 212.7L841.1 215.3L841.8 217.3L844.3 218.0L842.5 215.9L840.8 212.0L841.1 211.0L844.0 211.6L846.2 211.4L848.4 212.3L850.7 214.0L845.7 210.1L850.1 209.7L849.7 208.2L853.3 207.3L857.7 207.0L859.8 206.4L861.9 205.0L865.4 205.8L869.5 206.2L873.3 207.3L874.8 208.9L872.7 209.5L875.6 209.9L882.9 210.7L886.4 210.5L889.9 210.2L893.8 211.4L896.2 213.3L898.9 212.7L902.8 212.7L904.4 211.6L904.5 211.0L910.2 211.6L915.6 212.7L918.7 213.4L923.4 213.3L927.4 214.0L930.3 215.3L934.3 215.3L938.5 214.8L941.4 215.9L945.0 215.0L950.7 216.1L958.3 221.1L957.9 222.0L956.6 221.8L957.1 222.5L960.4 223.8L963.2 225.2L960.6 225.9L958.8 227.0L957.9 228.5L953.6 228.2L951.4 228.6L950.7 229.2L952.4 230.7L952.1 231.7L955.1 233.3L954.7 234.0L956.4 235.8L955.8 237.3L955.6 238.8L956.4 240.3L956.3 241.9L953.3 239.6L949.9 236.6L947.0 233.6L946.4 231.7L946.7 229.9L947.0 227.8L947.1 226.0L946.2 224.9L945.8 226.3L943.1 225.9L944.8 227.3L940.2 226.2L940.6 228.5L938.9 229.9L936.9 229.2L933.7 229.4L930.4 229.4L927.7 229.5L926.8 231.4L926.2 233.2L927.3 235.5L925.9 236.3L929.4 237.3L930.9 237.6L932.5 237.5L935.0 238.5L936.2 240.3L937.4 242.6L939.2 244.9L939.1 247.2L939.1 249.1L938.3 251.5L937.4 254.2L934.8 254.0L933.9 255.0L933.5 256.5L933.9 257.6L932.5 258.9L932.3 259.7L932.7 260.5L934.5 261.6L936.7 263.6L937.5 265.5L937.5 266.6L935.8 267.2L934.5 267.5L933.7 265.5L933.0 263.6L931.6 262.3L930.2 262.0L929.6 260.0L927.9 258.9L925.8 259.7L924.7 260.6L924.1 258.1L922.8 257.5L921.7 259.2L920.2 260.1L920.4 261.2L922.6 262.8L923.6 263.3L924.9 262.3L927.5 263.1L926.1 264.4L925.5 265.2L924.8 266.8L927.3 269.1L930.1 271.8L930.6 273.4L929.2 274.2L931.4 275.0L931.5 277.3L930.6 278.9L930.0 281.0L928.9 283.0L927.2 284.9L925.4 286.0L923.8 286.8L922.2 287.3L920.3 288.1L918.7 288.4L918.6 290.0L917.9 288.1L916.2 287.7L914.9 288.4L914.0 289.3L913.0 292.0L914.5 294.4L916.4 296.0L917.3 296.7L918.9 299.1L919.3 302.3L919.1 303.8L917.5 305.0L916.2 305.7L915.9 307.0L913.9 308.4L913.6 306.5L913.0 305.6L911.6 305.3L910.0 303.1L907.8 302.0L907.6 300.8L906.3 301.0L906.5 303.1L905.8 305.4L906.2 307.5L907.3 308.7L907.9 310.6L909.6 311.7L910.7 312.5L912.0 314.4L912.2 317.3L913.3 319.8L912.3 319.9L910.5 318.5L909.2 317.3L908.1 315.4L907.6 313.3L907.3 311.7L906.7 311.0L905.3 309.4L904.6 307.8L904.8 305.4L904.6 303.1L903.8 300.2L902.8 297.5L902.4 296.0L901.2 295.2L900.2 296.0L899.4 297.1L898.0 296.7L898.0 294.4L897.4 292.3L896.1 290.7L895.0 289.6L893.7 288.1L893.2 286.8L891.4 286.5L889.5 287.6L888.2 287.7L886.9 288.4L886.8 289.6L885.8 290.7L884.6 291.5L882.8 293.9L881.4 295.8L879.9 296.7L878.8 297.5L878.7 299.9L879.1 301.3L878.7 303.4L878.7 305.7L878.0 307.3L876.6 308.0L875.7 309.2L874.3 307.8L873.8 306.2L872.7 303.8L871.5 301.5L870.2 298.6L869.8 297.5L868.9 295.2L868.0 292.0L867.5 289.6L867.2 288.5L866.9 287.0L866.5 288.5L865.1 289.2L864.0 288.9L862.1 287.0L863.4 286.3L863.8 285.7L861.7 285.4L860.8 284.4L859.2 283.0L858.1 281.9L855.5 282.1L852.1 282.2L851.4 282.4L848.7 281.9L845.9 281.6L845.0 279.7L844.0 279.2L842.1 280.0L840.3 279.7L838.8 278.6L837.4 278.0L836.2 276.4L835.2 274.6L833.5 274.0L832.9 274.6L832.4 275.4L833.2 277.0L834.1 278.6L835.6 279.9L836.0 281.4L837.0 282.9L837.0 281.7L837.4 280.8L838.0 282.1L838.0 283.3L838.7 284.0L840.7 284.0L842.0 283.5L843.0 282.1L843.9 280.8L844.3 280.5L844.5 282.5L845.2 283.6L847.6 284.7L849.5 286.5L848.4 289.3L847.2 290.4L847.2 292.0L845.6 293.6L843.9 294.4L842.3 295.2L840.0 296.7L837.0 298.3L835.3 299.9L832.3 300.8L830.3 301.8L828.2 302.0L827.8 300.7L827.1 298.3L826.8 296.1L825.3 293.9L823.9 291.2L822.2 289.2L821.4 288.1L820.4 284.9L818.9 283.3L817.8 281.0L815.9 278.6L814.8 277.5L814.9 275.4L814.3 277.8L814.1 278.1L813.0 277.0L811.8 275.1L811.6 274.6L811.1 272.7L812.7 272.9L813.7 272.4L814.2 271.0L814.4 269.9L815.0 268.3L815.1 266.0L815.3 264.2L814.4 264.2L813.0 263.9L811.8 264.9L810.1 265.0L808.1 263.9L806.2 264.7L804.5 264.1L803.6 263.6L803.0 261.4L801.9 260.0L801.7 258.9L801.6 258.4L801.3 257.6L799.3 257.5L798.6 258.6L797.5 258.1L797.2 259.7L798.0 260.5L797.8 261.2L799.1 262.0L799.2 262.5L798.1 262.2L798.2 263.1L798.0 264.4L797.3 264.4L796.3 263.9L795.7 262.5L795.9 261.6L794.9 260.8L794.0 259.5L792.9 258.1L792.9 256.5L791.9 255.3L790.1 254.2L788.2 253.3L786.8 252.0L786.1 250.8L785.1 251.1L784.9 250.2L783.5 250.5L783.4 252.2L785.0 253.3L786.0 255.0L788.4 255.9L789.6 257.2L791.6 258.6L791.7 259.2L789.8 258.1L789.4 259.4L790.1 260.5L789.4 261.4L788.8 262.0L788.4 262.0L788.7 260.5L788.2 258.9L787.0 257.9L786.2 257.6L784.6 256.8L783.5 256.1L781.9 255.0L781.3 254.2L780.8 252.8L779.9 252.2L779.2 252.0L778.1 252.8L777.2 253.1L775.6 254.0L774.3 253.6L773.0 253.4L771.9 254.2L772.1 255.3L772.1 255.9L770.8 256.7L769.0 257.6L768.0 259.2L767.6 259.8L768.3 260.8L767.2 262.0L767.1 262.7L765.4 263.9L764.9 263.9L762.3 264.1L761.1 265.0zM805.2 257.0L808.0 257.0L810.3 255.8L812.5 255.8L814.6 256.8L816.6 257.3L818.8 257.3L820.9 256.5L820.9 255.3L819.8 254.2L818.1 253.4L815.7 252.0L814.6 251.1L813.7 250.6L814.7 250.3L815.5 249.4L815.5 248.0L816.5 247.7L814.4 247.8L811.7 248.9L811.6 250.0L813.4 250.5L812.2 251.1L810.6 252.0L809.8 251.7L808.5 250.5L809.7 249.4L807.7 249.1L807.0 248.6L806.1 248.8L805.0 250.6L804.0 252.3L804.0 253.6L803.2 253.9L803.1 255.0L803.8 255.9zM832.4 262.8L834.5 263.9L837.8 263.8L838.1 262.0L837.4 260.0L836.1 258.9L835.5 257.3L836.5 257.6L837.3 257.0L836.0 255.4L834.9 256.2L834.5 254.5L832.8 253.9L831.1 252.2L832.1 251.7L831.9 250.6L834.1 250.6L833.8 248.4L831.6 248.0L829.3 248.8L827.6 249.5L826.6 251.7L827.9 253.4L828.4 254.7L829.7 256.1L831.4 257.9L832.5 258.4L831.6 260.0L831.4 261.6zM585.3 216.1L587.1 216.9L587.6 218.6L590.3 218.9L590.3 219.9L584.8 222.1L583.4 222.4L581.7 221.7L582.5 220.7L579.9 220.7L581.0 219.6L577.7 221.1zM965.7 338.9L966.7 341.7L966.7 344.6L968.6 345.7L968.7 348.7L968.6 351.7L969.6 352.5L971.3 353.9L971.9 355.5L973.5 357.5L973.4 359.1L974.5 360.7L975.6 362.3L974.5 365.3L974.4 367.3L972.5 370.1L970.6 372.8L967.8 375.4L965.9 377.6L963.9 379.6L963.0 381.2L960.1 381.8L957.4 383.2L956.9 383.7L955.8 382.6L955.3 382.3L953.5 383.2L952.0 382.4L950.7 382.0L950.1 380.4L950.6 378.8L949.6 378.2L950.2 376.9L949.0 377.6L950.4 374.1L950.9 373.3L949.0 375.2L946.9 376.9L946.5 377.1L946.4 375.2L945.9 373.8L945.4 372.7L943.5 372.5L942.5 371.7L939.8 371.9L936.7 372.8L935.4 373.0L932.9 374.1L931.1 375.5L929.1 375.5L926.4 375.5L923.1 377.2L920.6 376.9L919.6 376.1L920.1 375.0L921.3 374.1L921.8 372.5L922.1 370.1L922.1 368.6L922.0 367.3L921.9 365.4L921.4 363.4L921.9 361.5L922.6 359.9L923.0 357.7L923.9 356.4L925.8 355.6L927.8 354.5L930.2 354.0L932.4 353.4L934.7 352.0L935.9 350.4L936.3 348.8L938.1 348.0L938.0 349.3L939.6 347.3L940.6 345.7L942.2 344.1L943.6 343.9L945.0 345.4L946.8 345.5L947.5 343.3L948.7 341.7L950.1 341.3L951.7 340.2L953.0 340.6L955.0 341.3L957.1 340.9L957.6 341.4L956.1 343.3L955.1 345.4L956.2 346.9L957.9 347.7L959.5 349.3L961.6 349.8L963.2 346.5L964.0 343.3L964.4 341.7L965.2 339.2zM607.3 439.6L617.0 439.9L624.7 439.4L627.6 438.5L630.4 437.6L632.9 436.4L636.6 435.8L640.4 435.1L644.7 434.9L653.7 434.5L664.0 435.1L669.1 435.5L672.1 433.9L676.3 433.3L680.9 433.0L686.0 433.3L691.0 433.5L694.7 432.0L697.0 428.1L698.5 425.4L699.5 423.3L701.8 421.6L705.5 420.2L706.4 421.2L704.4 422.6L704.1 424.0L703.7 425.4L702.7 427.4L705.9 429.4L708.4 432.0L710.4 434.5L711.2 436.4L714.8 437.6L722.8 438.8L732.2 439.4L736.5 439.1L740.5 437.6L742.8 436.4L744.4 435.1L748.8 433.9L753.5 433.0L757.1 431.1L760.1 430.3L763.0 430.0L768.0 429.1L773.0 429.4L778.0 429.2L783.1 429.1L788.0 429.4L793.0 429.6L798.2 428.7L801.5 427.8L803.4 428.5L806.2 429.1L808.6 428.1L814.2 426.4L819.8 425.4L823.6 424.0L827.2 425.1L830.0 425.8L833.0 426.0L836.9 426.4L839.4 427.4L841.4 429.0L843.6 428.7L847.5 427.4L850.2 426.4L852.8 425.6L856.3 425.1L859.5 424.9L861.5 425.1L865.0 424.7L867.0 424.7L873.0 423.7L876.5 423.3L877.7 424.4L883.1 424.3L886.7 423.7L887.9 424.7L892.7 425.1L898.5 424.5L904.0 424.3L909.5 424.0L913.6 424.9L916.3 425.4L917.5 426.0L921.1 427.3L925.1 428.1L928.3 429.4L930.4 430.0L932.8 430.4L935.3 431.3L931.1 433.3L923.8 435.8L916.8 438.2L917.6 439.1L921.3 438.9L924.7 439.4L928.7 439.6M654.2 248.4L657.5 246.8L660.3 246.0L662.9 245.7L663.8 247.2L663.0 248.8L660.3 248.8L658.9 247.7L656.1 248.4zM656.4 255.8L658.0 255.8L659.6 252.6L662.2 250.0L661.0 249.8L658.7 251.1L657.3 253.4zM663.0 249.7L663.6 251.1L663.3 252.6L663.8 253.9L665.0 253.4L666.2 251.5L667.8 251.7L667.7 250.3L666.2 249.4zM662.0 256.1L664.1 256.4L667.9 254.7L666.0 254.8L663.2 255.6zM667.4 253.7L669.5 253.7L671.9 253.1L671.9 252.3L669.9 252.8zM651.0 242.6L652.3 241.9L652.2 239.6L652.1 237.8L651.0 238.5L651.1 240.3zM638.9 227.0L641.0 227.2L645.7 225.6L649.3 224.5L647.8 224.3L643.7 225.3L641.0 225.9zM636.1 221.4L639.8 221.4L643.3 220.0L645.5 218.8L642.5 218.6L639.4 219.7L636.3 220.7zM642.3 230.4L645.7 229.6L649.3 229.4L646.0 229.2zM812.6 325.9L814.7 325.9L815.4 323.6L815.1 321.5L813.0 321.5L812.2 323.6zM808.8 327.5L809.4 329.9L810.7 333.8L811.1 335.7L810.1 334.6L808.8 330.7zM815.2 337.2L816.0 338.6L816.4 342.5L816.6 344.6L815.8 344.1L815.5 340.9L815.2 338.6zM786.7 302.0L788.1 302.0L788.5 300.5L787.1 300.2zM892.2 240.9L894.0 240.6L895.5 238.4L895.6 235.5L894.6 234.6L894.2 236.1L894.0 238.8L892.6 240.3zM859.6 250.3L860.8 248.4L864.0 248.8L866.1 248.6L863.8 248.3L860.6 248.0L859.5 249.1zM802.3 228.5L804.1 228.1L804.1 226.8L801.5 226.3L801.2 227.3zM806.1 227.0L807.6 226.8L806.6 224.9L805.4 225.2zM671.4 346.5L672.9 347.6L672.5 348.0L671.5 347.3zM782.1 230.7L783.6 230.5L783.7 229.5L782.6 229.5zM841.5 253.3L842.9 253.1L844.8 251.9L844.1 249.8L842.3 248.6L841.1 249.8L841.2 251.5z"/>
</g>
<path d="M634.4 194.7L901.6 194.7M634.4 449.3L901.6 449.3" fill="none" stroke="#a0a0a0" stroke-width="0.9"/><path d="M634.4 449.3L629.8 448.0L624.4 446.3L618.4 444.1L612.1 441.6L605.5 438.8L599.0 435.8L593.1 432.6L587.6 429.4L582.4 426.0L577.3 422.6L572.4 419.1L567.6 415.5L562.9 411.9L558.4 408.2L554.1 404.4L550.2 400.6L546.5 396.8L543.1 392.9L539.8 389.0L536.7 385.1L533.9 381.2L531.4 377.2L529.1 373.3L527.0 369.4L525.3 365.4L523.8 361.5L522.5 357.5L521.5 353.6L520.4 349.6L519.5 345.7L518.8 341.7L518.2 337.8L517.7 333.8L517.4 329.9L517.1 325.9L517.0 322.0L517.1 318.1L517.4 314.1L517.7 310.2L518.2 306.2L518.8 302.3L519.5 298.3L520.4 294.4L521.5 290.4L522.5 286.5L523.8 282.5L525.3 278.6L527.0 274.6L529.1 270.7L531.4 266.8L533.9 262.8L536.7 258.9L539.8 255.0L543.1 251.1L546.5 247.2L550.2 243.4L554.1 239.6L558.4 235.8L562.9 232.1L567.6 228.5L572.4 224.9L577.3 221.4L582.4 218.0L587.6 214.6L593.1 211.4L599.0 208.2L605.5 205.2L612.1 202.4L618.4 199.9L624.4 197.7L629.8 196.0L634.4 194.7M901.6 449.3L906.2 448.0L911.6 446.3L917.6 444.1L923.9 441.6L930.5 438.8L937.0 435.8L942.9 432.6L948.4 429.4L953.6 426.0L958.7 422.6L963.6 419.1L968.4 415.5L973.1 411.9L977.6 408.2L981.9 404.4L985.8 400.6L989.5 396.8L992.9 392.9L996.2 389.0L999.3 385.1L1002.1 381.2L1004.6 377.2L1006.9 373.3L1009.0 369.4L1010.7 365.4L1012.2 361.5L1013.5 357.5L1014.5 353.6L1015.6 349.6L1016.5 345.7L1017.2 341.7L1017.8 337.8L1018.3 333.8L1018.6 329.9L1018.9 325.9L1019.0 322.0L1018.9 318.1L1018.6 314.1L1018.3 310.2L1017.8 306.2L1017.2 302.3L1016.5 298.3L1015.6 294.4L1014.5 290.4L1013.5 286.5L1012.2 282.5L1010.7 278.6L1009.0 274.6L1006.9 270.7L1004.6 266.8L1002.1 262.8L999.3 258.9L996.2 255.0L992.9 251.1L989.5 247.2L985.8 243.4L981.9 239.6L977.6 235.8L973.1 232.1L968.4 228.5L963.6 224.9L958.7 221.4L953.6 218.0L948.4 214.6L942.9 211.4L937.0 208.2L930.5 205.2L923.9 202.4L917.6 199.9L911.6 197.7L906.2 196.0L901.6 194.7" fill="none" stroke="#222" stroke-width="0.75"/>
<g clip-path="url(#c2)">
<g shape-rendering="crispEdges"><path fill="#3c14f0" d="M268 728h17v2h-17zM268 725h21v3h-21zM268 722h24v3h-24zM240 719h17v3h-17zM261 719h31v3h-31zM236 716h63v3h-63zM236 713h70v3h-70zM233 710h80v3h-80zM233 707h4v3h-4zM295 707h18v3h-18zM295 704h7v3h-7zM295 701h7v3h-7zM295 698h4v3h-4zM295 695h3v3h-3zM379 686h7v3h-7zM378.3 683L385.1 683L385.7 686L379.0 686zM374.1 668L383.8 668L384.9 671L375.1 671zM353.7 665L382.7 665L383.8 668L354.6 668zM352.7 662L371.8 662L373.0 665L353.7 665z"/>
<path fill="#2a3ce0" d="M291 683h3v3h-3zM291 680h3v3h-3z"/>
<path fill="#3a78e8" d="M268 730h17v3h-17zM285 728h4v2h-4zM289 725h3v3h-3zM292 722h4v3h-4zM292 719h7v3h-7zM299 716h7v3h-7zM306 713h7v3h-7zM313 710h3v3h-3zM230 707h3v3h-3zM237 707h31v3h-31zM292 707h3v3h-3zM313 707h3v3h-3zM233 704h4v3h-4zM302 704h7v3h-7zM292 701h3v3h-3zM292 698h3v3h-3zM292 695h3v3h-3zM295 692h3v3h-3zM380 689h7v3h-7zM254 677h10v3h-10zM383.8 668L387.1 668L388.2 671L384.9 671zM350.5 665L353.7 665L354.6 668L351.4 668zM382.7 665L385.9 665L387.1 668L383.8 668zM349.6 662L352.7 662L353.7 665L350.5 665zM371.8 662L381.4 662L382.7 665L373.0 665zM351.7 659L354.9 659L355.9 662L352.7 662zM358.0 659L370.6 659L371.8 662L359.1 662z"/>
<path fill="#18a0f8" d="M181 728h7v2h-7zM181 725h7v3h-7zM181 722h7v3h-7zM181 719h3v3h-3zM174 716h7v3h-7zM403.4 677L410.1 677L411.1 680L404.4 680zM402.4 674L409.0 674L410.1 677L403.4 677zM329.7 659L332.8 659L333.6 662L330.5 662z"/>
<path fill="#48bef0" d="M268 733h17v3h-17zM285 730h4v3h-4zM177 728h4v2h-4zM289 728h3v2h-3zM177 725h4v3h-4zM292 725h4v3h-4zM177 722h4v3h-4zM296 722h3v3h-3zM299 719h7v3h-7zM306 716h7v3h-7zM170 713h4v3h-4zM313 713h3v3h-3zM316 710h4v3h-4zM316 707h4v3h-4zM230 704h3v3h-3zM237 704h10v3h-10zM233 701h4v3h-4zM288 698h4v3h-4zM288 695h4v3h-4zM291 692h4v3h-4zM384 692h3v3h-3zM295 689h3v3h-3zM376 689h4v3h-4zM387 689h3v3h-3zM274 686h4v3h-4zM291 686h4v3h-4zM372 686h7v3h-7zM385.7 686L392.5 686L393.1 689L386.3 689zM288 683h3v3h-3zM294 683h4v3h-4zM368.2 683L378.3 683L379.0 686L368.8 686zM385.1 683L391.8 683L392.5 686L385.7 686zM257 680h7v3h-7zM287 680h4v3h-4zM294 680h4v3h-4zM367.6 680L391.0 680L391.8 683L368.2 683zM404.4 680L411.1 680L412.0 683L405.2 683zM271 677h3v3h-3zM291 677h3v3h-3zM370.2 677L390.1 677L391.0 680L370.9 680zM400.1 677L403.4 677L404.4 680L401.0 680zM410.1 677L413.4 677L414.4 680L411.1 680zM369.4 674L389.2 674L390.1 677L370.2 677zM399.1 674L402.4 674L403.4 677L400.1 677zM409.0 674L412.3 674L413.4 677L410.1 677zM375.1 671L388.2 671L389.2 674L376.0 674zM401.2 671L407.8 671L409.0 674L402.4 674zM325.4 668L348.1 668L348.9 671L326.0 671zM324.8 665L350.5 665L351.4 668L325.4 668zM324.1 662L349.6 662L350.5 665L324.8 665zM381.4 662L384.6 662L385.9 665L382.7 665zM326.5 659L329.7 659L330.5 662L327.3 662zM332.8 659L351.7 659L352.7 662L333.6 662zM370.6 659L380.1 659L381.4 662L371.8 662zM325.7 656L369.3 656L370.6 659L326.5 659zM328.0 653L352.6 653L353.8 656L328.8 656zM327.1 650L348.4 650L349.5 653L328.0 653z"/>
<path fill="#a8d8f0" d="M121.5 854L134.6 854L136.1 855L123.1 855zM117.8 853L135.2 853L138.4 854L121.5 854zM113.0 852L133.6 852L137.1 853L117.1 853zM250.8 852L399.0 852L394.9 853L250.9 853zM108.6 850L133.9 850L137.6 852L113.0 852zM250.6 850L403.4 850L399.0 852L250.8 852zM103.9 849L132.1 849L136.0 850L108.6 850zM250.5 849L408.1 849L403.4 850L250.6 850zM98.9 847L130.3 847L134.2 849L103.9 849zM250.3 847L413.1 847L408.1 849L250.5 849zM93.9 844L130.8 844L134.7 847L98.9 847zM189.3 844L207.3 844L208.8 847L191.4 847zM250 844h16v3h-16zM319.9 844L418.1 844L413.1 847L317.9 847zM108.4 842L129.3 842L133.1 844L112.8 844zM185.0 842L208.2 842L209.6 844L187.1 844zM229.0 842L266.2 842L265.9 844L229.8 844zM319.5 842L410.0 842L405.4 844L317.6 844zM412.3 842L414.6 842L409.9 844L407.7 844zM180.6 840L199.7 840L201.2 842L182.7 842zM228.3 840L266.4 840L266.2 842L229.0 842zM318.9 840L416.6 840L412.3 842L317.2 842zM178.7 837L198.3 837L199.7 840L180.6 840zM235 837h32v3h-32zM318.0 837L423.2 837L419.0 840L316.5 840zM179.4 835L194.4 835L195.8 837L181.1 837zM241.9 835L427.1 835L423.2 837L242.3 837zM328.6 832L420.7 832L417.1 835L327.0 835zM338.0 830L411.1 830L407.9 832L336.3 832zM177.3 811L180.2 811L181.4 814L178.5 814zM182.1 808L188.1 808L189.1 811L183.2 811zM161.7 802L174.0 802L175.0 805L162.9 805zM160.6 799L173.1 799L174.0 802L161.7 802zM159.5 796L175.3 796L176.2 799L160.6 799zM158.5 793L174.4 793L175.3 796L159.5 796zM157.5 790L176.8 790L177.6 793L158.5 793zM159.9 787L182.6 787L183.2 790L160.7 790zM159.1 784L182.0 784L182.6 787L159.9 787zM158.3 781L184.7 781L185.2 784L159.1 784zM164.3 778L187.5 778L188.0 781L164.9 781zM280 778h10v3h-10zM449.9 778L456.6 778L455.1 781L448.5 781zM167 775h24v3h-24zM277 775h20v3h-20zM421.1 775L437.8 775L436.6 778L420.0 778zM447.8 775L461.2 775L459.9 778L446.6 778zM157 772h3v3h-3zM167 772h10v3h-10zM281 772h20v3h-20zM418.7 772L438.9 772L437.8 775L417.7 775zM445.6 772L462.4 772L461.2 775L444.5 775zM166 769h7v3h-7zM281 769h20v3h-20zM443.2 769L463.5 769L462.4 772L442.2 772zM166 766h7v3h-7zM281 766h24v3h-24zM315 766h3v3h-3zM440.6 766L444.0 766L443.2 769L439.8 769zM447.4 766L464.4 766L463.5 769L446.6 769zM159 763h13v3h-13zM196 763h3v3h-3zM274 763h31v3h-31zM315 763h7v3h-7zM448.1 763L465.2 763L464.4 766L447.4 766zM158 760h14v3h-14zM199 760h4v3h-4zM271 760h34v3h-34zM315 760h7v3h-7zM441.9 760L462.4 760L461.7 763L441.3 763zM479.5 760L483.0 760L482.2 763L478.8 763zM158 757h14v3h-14zM271 757h34v3h-34zM316 757h6v3h-6zM442.5 757L459.7 757L459.0 760L441.9 760zM154 754h21v3h-21zM271 754h38v3h-38zM316 754h10v3h-10zM443.1 754L456.9 754L456.3 757L442.5 757zM150 751h35v3h-35zM271 751h35v3h-35zM316 751h10v3h-10zM447 751h7v3h-7zM147 748h55v3h-55zM271 748h31v3h-31zM319 748h7v3h-7zM147 745h58v3h-58zM271 745h28v3h-28zM320 745h7v3h-7zM146 742h63v3h-63zM271 742h28v3h-28zM143 739h66v3h-66zM271 739h25v3h-25zM143 736h66v3h-66zM306 736h3v3h-3zM139 733h70v3h-70zM306 733h4v3h-4zM142 730h60v3h-60zM303 730h10v3h-10zM407 730h11v3h-11zM421 730h4v3h-4zM432 730h24v3h-24zM463 730h3v3h-3zM125 728h7v2h-7zM142 728h35v2h-35zM188 728h7v2h-7zM303 728h10v2h-10zM407 728h18v2h-18zM432 728h17v2h-17zM142 725h35v3h-35zM299 725h18v3h-18zM390 725h10v3h-10zM407 725h18v3h-18zM146 722h7v3h-7zM167 722h10v3h-10zM299 722h21v3h-21zM390 722h10v3h-10zM407 722h14v3h-14zM146 719h3v3h-3zM167 719h14v3h-14zM306 719h14v3h-14zM386 719h14v3h-14zM411 719h10v3h-10zM143 716h3v3h-3zM167 716h7v3h-7zM313 716h10v3h-10zM365 716h7v3h-7zM393 716h7v3h-7zM414 716h7v3h-7zM136 713h10v3h-10zM167 713h3v3h-3zM320 713h7v3h-7zM362 713h6v3h-6zM389 713h7v3h-7zM400 713h3v3h-3zM417 713h4v3h-4zM136 710h7v3h-7zM167 710h4v3h-4zM365 710h3v3h-3zM389 710h17v3h-17zM417 710h7v3h-7zM133 707h7v3h-7zM153 707h7v3h-7zM389 707h21v3h-21zM133 704h10v3h-10zM389 704h20v3h-20zM420 704h7v3h-7zM130 701h10v3h-10zM385 701h20v3h-20zM419 701h7v3h-7zM130 698h7v3h-7zM147 698h21v3h-21zM384 698h24v3h-24zM419 698h7v3h-7zM134 695h3v3h-3zM148 695h13v3h-13zM394 695h14v3h-14zM141 692h10v3h-10zM230 692h3v3h-3zM394 692h20v3h-20zM418 692h3v3h-3zM142 689h6v3h-6zM230 689h3v3h-3zM267 689h21v3h-21zM389.7 689L423.6 689L424.3 692L390.2 692zM142 686h4v3h-4zM267 686h7v3h-7zM278 686h10v3h-10zM392.5 686L422.9 686L423.6 689L393.1 689zM254 683h27v3h-27zM391.8 683L418.7 683L419.5 686L392.5 686zM254 680h3v3h-3zM264 680h23v3h-23zM391.0 680L404.4 680L405.2 683L391.8 683zM411.1 680L421.1 680L422.0 683L412.0 683zM251 677h3v3h-3zM264 677h3v3h-3zM274 677h17v3h-17zM390.1 677L400.1 677L401.0 680L391.0 680zM413.4 677L416.7 677L417.7 680L414.4 680zM241 674h16v3h-16zM395.8 674L399.1 674L400.1 677L396.8 677zM244 671h20v3h-20zM394.7 671L401.2 671L402.4 674L395.8 674zM407.8 671L411.1 671L412.3 674L409.0 674zM241 668h26v3h-26zM241 665h16v3h-16zM264 665h3v3h-3zM241 662h19v3h-19zM264 662h3v3h-3zM286 662h16v3h-16zM241 659h16v3h-16zM283 659h9v3h-9zM295 659h7v3h-7zM305 659h3v3h-3zM245 656h3v3h-3zM251 656h6v3h-6zM263 656h10v3h-10zM279 656h28v3h-28zM143.2 653L146.3 653L145.0 656L141.9 656zM251 653h9v3h-9zM269.5 653L309.5 653L310.1 656L269.6 656zM318.8 653L324.9 653L325.7 656L319.5 656zM141.6 650L169.0 650L167.9 653L140.2 653zM248 650h18v3h-18zM275.4 650L308.9 650L309.5 653L275.6 653zM321.0 650L327.1 650L328.0 653L321.8 653zM348.4 650L354.5 650L355.7 653L349.5 653zM140.1 647L176.1 647L175.0 650L138.6 650zM248 647h21v3h-21zM278.1 647L317.1 647L318.0 650L278.4 650zM335.2 647L362.2 647L363.6 650L336.2 650zM138.8 644L171.4 644L170.1 647L137.1 647zM242 644h33v3h-33zM283.7 644L316.3 644L317.1 647L284.1 647zM334.0 644L363.6 644L365.2 647L335.2 647zM126.1 641L166.8 641L165.4 644L124.0 644zM181.4 641L190.1 641L189.1 644L180.2 644zM242 641h15v3h-15zM260 641h21v3h-21zM283.3 641L318.3 641L319.2 644L283.7 644zM335.7 641L361.9 641L363.6 644L337.0 644zM128.1 639L162.5 639L161.0 641L126.1 641zM179.7 639L188.3 639L187.2 641L178.5 641zM246 639h8v2h-8zM277.1 639L317.3 639L318.3 641L277.5 641zM334.5 639L360.2 639L361.9 641L335.7 641zM127.5 636L155.7 636L153.9 639L125.3 639zM181.0 636L186.6 636L185.5 639L179.7 639zM249 636h5v3h-5zM276.8 636L299.3 636L300.1 639L277.1 639zM319.0 636L358.5 636L360.2 639L320.1 639zM179.6 633L187.9 633L186.6 636L178.2 636zM276.4 633L298.6 633L299.3 636L276.8 636zM320.7 633L356.7 633L358.5 636L321.9 636zM178.3 630L186.4 630L185.1 633L176.8 633zM205.4 630L210.9 630L210.0 633L204.5 633zM276.0 630L300.5 630L301.3 633L276.4 633zM319.5 630L357.5 630L359.4 633L320.7 633zM179.7 628L187.7 628L186.4 630L178.3 630zM201.1 628L214.4 628L213.6 630L200.0 630zM275.7 628L355.6 628L357.5 630L276.0 630zM178.6 625L191.7 625L190.4 628L177.1 628zM202.1 625L217.8 625L217.0 628L201.1 628zM277.9 625L296.2 625L297.0 628L278.3 628zM298.8 625L356.2 625L358.3 628L299.6 628zM200.7 623L221.2 623L220.4 625L199.5 625zM300.4 623L356.7 623L358.8 625L301.4 625zM199.4 620L224.4 620L223.7 623L198.1 623zM299.5 620L302.0 620L303.0 623L300.4 623zM307.0 620L357.0 620L359.3 623L308.1 623zM200.7 618L225.1 618L224.4 620L199.4 620zM305.8 618L313.2 618L314.5 620L307.0 620zM320.5 618L352.3 618L354.5 620L322.0 620zM202.1 615L230.7 615L230.0 618L200.7 618zM318.9 615L345.1 615L347.4 618L320.5 618zM201.2 613L222.1 613L221.1 615L199.7 615zM224.4 613L229.0 613L228.3 615L223.5 615zM227.6 611L229.8 611L229.0 613L226.7 613z"/>
<path fill="#fff88c" d="M120.7 854L121.5 854L123.1 855L122.4 855zM134.6 854L391.3 854L389.6 855L136.1 855zM117.1 853L117.8 853L121.5 854L120.7 854zM135.2 853L394.9 853L391.3 854L138.4 854zM133.6 852L250.8 852L250.9 853L137.1 853zM133.9 850L250.6 850L250.8 852L137.6 852zM132.1 849L250.5 849L250.6 850L136.0 850zM130.3 847L250.3 847L250.5 849L134.2 849zM130.8 844L189.3 844L191.4 847L134.7 847zM207.3 844L250.1 844L250.3 847L208.8 847zM265.9 844L319.9 844L317.9 847L265.6 847zM129.3 842L185.0 842L187.1 844L133.1 844zM208.2 842L212.8 842L214.1 844L209.6 844zM222.1 842L229.0 842L229.8 844L223.1 844zM266.2 842L319.5 842L317.6 844L265.9 844zM116.2 840L180.6 840L182.7 842L120.0 842zM266.4 840L318.9 840L317.2 842L266.2 842zM156.7 837L178.7 837L180.6 840L159.2 840zM266.7 837L318.0 837L316.5 840L266.4 840zM180.2 832L193.0 832L194.4 835L181.9 835zM254 832h23v3h-23zM282.5 832L328.6 832L327.0 835L282.0 835zM183.9 830L191.7 830L193.0 832L185.4 832zM301.4 830L327.5 830L326.0 832L300.4 832zM185.1 827L193.1 827L194.3 830L186.5 830zM310.3 827L313.0 827L311.8 830L309.2 830zM358.3 827L376.9 827L374.5 830L356.2 830zM392.9 827L400.9 827L398.0 830L390.2 830zM186.4 825L194.6 825L195.7 827L187.7 827zM172.7 814L178.5 814L179.7 816L174.0 816zM168.4 811L177.3 811L178.5 814L169.7 814zM164.1 808L176.1 808L177.3 811L165.4 811zM162.9 805L175.0 805L176.1 808L164.1 808zM339.3 805L342.3 805L341.2 808L338.2 808zM340.3 802L343.4 802L342.3 805L339.3 805zM462.8 799L469.0 799L466.5 802L460.4 802zM465.1 796L474.6 796L472.1 799L462.8 799zM438.7 793L445.1 793L443.1 796L436.8 796zM470.6 793L476.9 793L474.6 796L468.3 796zM440.5 790L447.0 790L445.1 793L438.7 793zM475.9 790L485.6 790L483.3 793L473.7 793zM435.7 787L448.7 787L447.0 790L434.1 790zM481.2 787L487.7 787L485.6 790L479.1 790zM437.2 784L453.6 784L452.0 787L435.7 787zM483.1 784L489.6 784L487.7 787L481.2 787zM277 781h10v3h-10zM405.7 781L415.6 781L414.3 784L404.5 784zM432.1 781L455.1 781L453.6 784L430.7 784zM481.5 781L488.1 781L486.3 784L479.8 784zM157.6 778L164.3 778L164.9 781L158.3 781zM277 778h3v3h-3zM290 778h4v3h-4zM406.7 778L423.3 778L422.2 781L405.7 781zM433.3 778L449.9 778L448.5 781L432.1 781zM456.6 778L459.9 778L458.4 781L455.1 781zM157.0 775L167.0 775L167.6 778L157.6 778zM407.7 775L421.1 775L420.0 778L406.7 778zM437.8 775L447.8 775L446.6 778L436.6 778zM160 772h7v3h-7zM177 772h13v3h-13zM408.6 772L418.7 772L417.7 775L407.7 775zM438.9 772L445.6 772L444.5 775L437.8 775zM160 769h6v3h-6zM173 769h17v3h-17zM406.0 769L443.2 769L442.2 772L405.2 772zM159 766h7v3h-7zM173 766h20v3h-20zM318 766h4v3h-4zM406.7 766L440.6 766L439.8 769L406.0 769zM172 763h24v3h-24zM312 763h3v3h-3zM407.2 763L441.3 763L440.6 766L406.7 766zM172 760h27v3h-27zM312 760h3v3h-3zM411.2 760L441.9 760L441.3 763L410.6 763zM483.0 760L486.4 760L485.6 763L482.2 763zM172 757h31v3h-31zM415.1 757L442.5 757L441.9 760L414.6 760zM480.3 757L483.7 757L483.0 760L479.5 760zM175 754h27v3h-27zM422 754h21v3h-21zM498.2 754L501.6 754L500.8 757L497.4 757zM185 751h17v3h-17zM306 751h6v3h-6zM423 751h24v3h-24zM454 751h3v3h-3zM302 748h11v3h-11zM427 748h17v3h-17zM451 748h7v3h-7zM299 745h14v3h-14zM434 745h14v3h-14zM451 745h4v3h-4zM299 742h14v3h-14zM420 742h11v3h-11zM452 742h3v3h-3zM459 742h6v3h-6zM296 739h17v3h-17zM403 739h31v3h-31zM445 739h21v3h-21zM271 736h35v3h-35zM309 736h4v3h-4zM400 736h14v3h-14zM445 736h21v3h-21zM285 733h7v3h-7zM296 733h10v3h-10zM310 733h3v3h-3zM397 733h7v3h-7zM414 733h3v3h-3zM421 733h7v3h-7zM438 733h21v3h-21zM463 733h7v3h-7zM289 730h3v3h-3zM296 730h7v3h-7zM393 730h11v3h-11zM425 730h7v3h-7zM466 730h4v3h-4zM292 728h11v2h-11zM313 728h4v2h-4zM393 728h11v2h-11zM425 728h3v2h-3zM296 725h3v3h-3zM317 725h3v3h-3zM425 725h10v3h-10zM153 722h14v3h-14zM320 722h4v3h-4zM149 719h18v3h-18zM320 719h3v3h-3zM146 716h21v3h-21zM323 716h4v3h-4zM424 716h7v3h-7zM146 713h21v3h-21zM424 713h7v3h-7zM150 710h17v3h-17zM424 710h7v3h-7zM424 707h6v3h-6zM126 704h7v3h-7zM271 704h4v3h-4zM116 701h14v3h-14zM230 701h3v3h-3zM113 698h17v3h-17zM230 698h7v3h-7zM41.9 695L45.3 695L44.6 698L41.2 698zM110 695h14v3h-14zM131 695h3v3h-3zM230 695h27v3h-27zM268 695h6v3h-6zM285 695h3v3h-3zM333 695h3v3h-3zM387 695h7v3h-7zM111 692h13v3h-13zM131 692h10v3h-10zM233 692h55v3h-55zM332 692h7v3h-7zM387 692h7v3h-7zM101 689h24v3h-24zM233 689h34v3h-34zM325 689h14v3h-14zM346 689h7v3h-7zM101.8 686L125.5 686L124.9 689L101.1 689zM146 686h3v3h-3zM234 686h33v3h-33zM318 686h41v3h-41zM99.2 683L126.1 683L125.5 686L98.4 686zM143 683h6v3h-6zM234 683h20v3h-20zM281 683h7v3h-7zM318 683h20v3h-20zM100.1 680L136.9 680L136.2 683L99.2 683zM140.3 680L150.3 680L149.7 683L139.6 683zM237 680h17v3h-17zM318 680h20v3h-20zM97.8 677L147.6 677L146.9 680L96.8 680zM241 677h10v3h-10zM294 677h3v3h-3zM301 677h3v3h-3zM321 677h3v3h-3zM331 677h13v3h-13zM416.7 677L420.0 677L421.1 680L417.7 680zM426.7 677L430.0 677L431.1 680L427.8 680zM98.9 674L155.0 674L154.3 677L97.8 677zM257 674h7v3h-7zM274 674h3v3h-3zM280 674h7v3h-7zM300 674h4v3h-4zM329.8 674L343.0 674L343.6 677L330.3 677zM412.3 674L415.6 674L416.7 677L413.4 677zM425.5 674L435.4 674L436.6 677L426.7 677zM93.6 671L159.1 671L158.3 674L92.3 674zM287 671h3v3h-3zM297 671h6v3h-6zM319.4 671L345.6 671L346.3 674L319.9 674zM411.1 671L414.3 671L415.6 674L412.3 674zM420.9 671L440.5 671L441.9 674L422.2 674zM95.0 668L159.9 668L159.1 671L93.6 671zM270 668h7v3h-7zM290 668h16v3h-16zM313 668h13v3h-13zM403.3 668L426.0 668L427.4 671L404.5 671zM429.3 668L439.0 668L440.5 671L430.7 671zM93.2 665L160.7 665L159.9 668L91.7 668zM267 665h13v3h-13zM283 665h23v3h-23zM315.1 665L324.8 665L325.4 668L315.7 668zM405.2 665L408.4 665L409.8 668L406.5 668zM411.6 665L421.2 665L422.8 668L413.0 668zM434.1 665L440.5 665L442.2 668L435.7 668zM94.8 662L168.0 662L167.2 665L93.2 665zM267 662h19v3h-19zM302 662h3v3h-3zM314.5 662L324.1 662L324.8 665L315.1 665zM416.4 662L422.8 662L424.5 665L418.0 665zM432.4 662L438.7 662L440.5 665L434.1 665zM96.5 659L169.0 659L168.0 662L94.8 662zM257 659h26v3h-26zM307.6 659L326.5 659L327.3 662L308.2 662zM414.7 659L427.3 659L429.2 662L416.4 662zM430.5 659L439.9 659L441.9 662L432.4 662zM98.3 656L179.3 656L178.4 659L96.5 659zM257 656h6v3h-6zM273 656h6v3h-6zM307.0 656L325.7 656L326.5 659L307.6 659zM369.3 656L375.6 656L376.9 659L370.6 659zM416.1 656L428.5 656L430.5 659L417.9 659zM431.6 656L437.9 656L439.9 659L433.6 659zM100.1 653L143.2 653L141.9 656L98.3 656zM146.3 653L192.5 653L191.8 656L145.0 656zM260 653h10v3h-10zM309.5 653L318.8 653L319.5 656L310.1 656zM324.9 653L328.0 653L328.8 656L325.7 656zM352.6 653L377.3 653L378.7 656L353.8 656zM398.8 653L426.5 653L428.5 656L400.5 656zM429.6 653L432.7 653L434.8 656L431.6 656zM102.1 650L141.6 650L140.2 653L100.1 653zM169.0 650L178.1 650L177.1 653L167.9 653zM181.1 650L193.3 650L192.5 653L180.2 653zM266 650h10v3h-10zM308.9 650L321.0 650L321.8 653L309.5 653zM354.5 650L375.8 650L377.3 653L355.7 653zM406.2 650L433.5 650L435.8 653L408.0 653zM101.1 647L140.1 647L138.6 650L99.0 650zM176.1 647L191.1 647L190.3 650L175.0 650zM269 647h9v3h-9zM317.1 647L335.2 647L336.2 650L318.0 650zM362.2 647L371.2 647L372.7 650L363.6 650zM404.2 647L428.2 647L430.5 650L406.2 650zM97.4 644L138.8 644L137.1 647L95.1 647zM171.4 644L192.1 644L191.1 647L170.1 647zM275 644h9v3h-9zM316.3 644L334.0 644L335.2 647L317.1 647zM363.6 644L369.5 644L371.2 647L365.2 647zM402.0 644L425.7 644L428.2 647L404.2 647zM437.5 644L443.4 644L446.2 647L440.2 647zM62.0 641L67.8 641L64.9 644L59.0 644zM99.8 641L126.1 641L124.0 644L97.4 644zM166.8 641L181.4 641L180.2 644L165.4 644zM281 641h3v3h-3zM318.3 641L335.7 641L337.0 644L319.2 644zM361.9 641L367.8 641L369.5 644L363.6 644zM399.8 641L423.1 641L425.7 644L402.0 644zM434.7 641L443.5 641L446.4 644L437.5 644zM68.0 639L76.6 639L73.6 641L64.9 641zM99.5 639L128.1 639L126.1 641L96.9 641zM165.4 639L179.7 639L178.5 641L163.9 641zM263 639h14v2h-14zM317.3 639L334.5 639L335.7 641L318.3 641zM360.2 639L386.0 639L388.2 641L361.9 641zM397.5 639L414.7 639L417.3 641L399.8 641zM431.9 639L443.3 639L446.4 641L434.7 641zM74.0 636L85.2 636L82.3 639L70.8 639zM99.3 636L127.5 636L125.3 639L96.6 639zM166.9 636L181.0 636L179.7 639L165.4 639zM260 636h17v3h-17zM299.3 636L319.0 636L320.1 639L300.1 639zM358.5 636L414.8 636L417.5 639L360.2 639zM431.7 636L440.2 636L443.3 639L434.7 639zM71.6 633L91.0 633L88.1 636L68.3 636zM93.8 633L151.9 633L150.0 636L90.9 636zM168.5 633L179.6 633L178.2 636L166.9 636zM204.5 633L210.0 633L209.2 636L203.5 636zM260 633h17v3h-17zM298.6 633L320.7 633L321.9 636L299.3 636zM356.7 633L428.6 633L431.7 636L358.5 636zM431.4 633L445.2 633L448.6 636L434.5 636zM75.0 630L156.5 630L154.7 633L71.6 633zM170.1 630L178.3 630L176.8 633L168.5 633zM200.0 630L205.4 630L204.5 633L198.9 633zM260 630h16v3h-16zM300.5 630L319.5 630L320.7 633L301.3 633zM357.5 630L449.9 630L453.5 633L359.4 633zM78.5 628L174.4 628L172.8 630L75.0 630zM177.1 628L179.7 628L178.3 630L175.5 630zM198.4 628L201.1 628L200.0 630L197.3 630zM230 628h11v2h-11zM262 628h14v2h-14zM355.6 628L446.2 628L449.9 630L357.5 630zM68.0 625L170.8 625L169.1 628L64.2 628zM173.4 625L178.6 625L177.1 628L171.7 628zM199.5 625L202.1 625L201.1 628L198.4 628zM217.8 625L220.4 625L219.7 628L217.0 628zM228 625h13v3h-13zM265 625h13v3h-13zM296.2 625L298.8 625L299.6 628L297.0 628zM356.2 625L444.0 625L447.8 628L358.3 628zM71.9 623L83.1 623L79.4 625L68.0 625zM85.6 623L172.6 623L170.8 625L82.0 625zM180.2 623L193.0 623L191.7 625L178.6 625zM198.1 623L200.7 623L199.5 625L196.9 625zM221.2 623L226.3 623L225.7 625L220.4 625zM236 623h3v2h-3zM267.2 623L297.9 623L298.8 625L267.4 625zM356.7 623L440.1 623L444.0 625L358.8 625zM75.9 620L79.3 620L75.4 623L71.9 623zM89.3 620L166.9 620L164.9 623L85.6 623zM169.4 620L189.4 620L187.9 623L167.5 623zM224.4 620L231.9 620L231.4 623L223.7 623zM269.5 620L294.5 620L295.3 623L269.8 623zM357.0 620L436.1 620L440.1 623L359.3 623zM95.6 618L115.1 618L111.8 620L91.8 620zM132.3 618L188.5 618L186.9 620L129.3 620zM225.1 618L234.9 618L234.4 620L224.4 620zM276.5 618L286.3 618L287.0 620L277.0 620zM352.3 618L413.4 618L417.1 620L354.5 620zM135.3 615L185.4 615L183.6 618L132.3 618zM199.7 615L202.1 615L200.7 618L198.3 618zM230.7 615L235.4 615L234.9 618L230.0 618zM304.6 615L311.7 615L313.2 618L305.8 618zM345.1 615L380.9 615L384.0 618L347.4 618zM388.0 615L397.6 615L401.2 618L391.4 618zM140.9 613L157.2 613L154.4 615L137.7 615zM159.5 613L182.7 613L180.6 615L156.8 615zM198.9 613L201.2 613L199.7 615L197.3 615zM222.1 613L224.4 613L223.5 615L221.1 615zM229.0 613L238.3 613L237.8 615L228.3 615zM305.6 613L314.9 613L316.5 615L307.0 615zM335.7 613L361.3 613L364.2 615L338.0 615zM382.1 613L396.0 613L399.9 615L385.6 615zM151.1 611L160.1 611L157.2 613L147.9 613zM162.3 611L187.1 611L185.0 613L159.5 613zM189.3 611L227.6 611L226.7 613L187.3 613zM229.8 611L238.8 611L238.3 613L229.0 613zM268 611h5v2h-5zM308.6 611L317.6 611L319.5 613L310.2 613zM337.9 611L358.1 611L361.3 613L340.4 613zM378.4 611L389.7 611L393.7 613L382.1 613zM171.8 608L241.6 608L241.1 611L169.1 611zM265.6 608L278.6 608L279.4 611L265.9 611zM337.5 608L348.4 608L351.4 611L340.1 611zM174.4 606L246.2 606L245.9 608L171.8 608zM265.3 606L277.9 606L278.6 608L265.6 608zM294.8 606L307.5 606L309.2 608L296.1 608zM332.9 606L343.4 606L346.3 608L335.4 608zM181.0 605L242.4 605L242.0 606L178.6 606zM225.0 603L232.9 603L232.2 605L224.0 605z"/>
<path fill="#ffd028" d="M292 733h4v3h-4zM292 730h4v3h-4zM316 713h4v3h-4zM320 710h7v3h-7zM358 710h7v3h-7zM365 707h3v3h-3zM237 698h17v3h-17zM333 698h3v3h-3zM257 695h11v3h-11zM274 695h11v3h-11zM329 695h4v3h-4zM384 695h3v3h-3zM288 692h3v3h-3zM326 692h6v3h-6zM349 692h4v3h-4zM288 689h3v3h-3zM319 689h6v3h-6zM353 689h23v3h-23zM288 686h3v3h-3zM301 686h17v3h-17zM359 686h3v3h-3zM369 686h3v3h-3zM301 683h17v3h-17zM338 683h20v3h-20zM301 680h17v3h-17zM338 680h3v3h-3zM351 680h7v3h-7zM267 677h4v3h-4zM297 677h4v3h-4zM304 677h13v3h-13zM324 677h7v3h-7zM264 674h3v3h-3zM270 674h4v3h-4zM304 674h10v3h-10zM320 674h10v3h-10zM343.0 674L346.3 674L346.9 677L343.6 677zM264 671h3v3h-3zM303 671h17v3h-17zM345.6 671L348.9 671L349.6 674L346.3 674zM267 668h3v3h-3zM283 668h4v3h-4zM306 668h7v3h-7zM387.1 668L403.3 668L404.5 671L388.2 671zM280 665h3v3h-3zM306 665h9v3h-9zM385.9 665L405.2 665L406.5 668L387.1 668zM305 662h10v3h-10zM384.6 662L387.8 662L389.1 665L385.9 665zM394.1 662L416.4 662L418.0 665L395.5 665zM380.1 659L386.4 659L387.8 662L381.4 662zM392.7 659L414.7 659L416.4 662L394.1 662zM375.6 656L384.9 656L386.4 659L376.9 659zM391.1 656L416.1 656L417.9 659L392.7 659zM377.3 653L383.4 653L384.9 656L378.7 656zM389.6 653L398.8 653L400.5 656L391.1 656zM375.8 650L381.8 650L383.4 653L377.3 653zM391.0 650L406.2 650L408.0 653L392.7 653zM371.2 647L374.2 647L375.8 650L372.7 650zM395.2 647L404.2 647L406.2 650L397.0 650zM369.5 644L402.0 644L404.2 647L371.2 647zM367.8 641L399.8 641L402.0 644L369.5 644zM386.0 639L397.5 639L399.8 641L388.2 641z"/>
<path fill="#ff9600" d="M277 772h4v3h-4zM274 769h7v3h-7zM274 766h7v3h-7zM323 707h4v3h-4zM358 707h7v3h-7zM247 704h7v3h-7zM357 704h11v3h-11zM237 701h17v3h-17zM357 701h14v3h-14zM257 698h11v3h-11zM274 698h11v3h-11zM329 698h4v3h-4zM357 698h17v3h-17zM326 695h3v3h-3zM353 695h24v3h-24zM381 695h3v3h-3zM319 692h7v3h-7zM353 692h24v3h-24zM380 692h4v3h-4zM291 689h4v3h-4zM312 689h7v3h-7zM298 683h3v3h-3zM298 680h3v3h-3zM341 680h10v3h-10zM343.6 677L350.3 677L350.9 680L344.2 680zM374.2 647L395.2 647L397.0 650L375.8 650z"/>
<path fill="#ff5000" d="M444.0 766L447.4 766L446.6 769L443.2 769zM441.3 763L448.1 763L447.4 766L440.6 766zM319 704h7v3h-7zM326 701h4v3h-4zM254 698h3v3h-3zM268 698h6v3h-6zM285 698h3v3h-3zM326 698h3v3h-3zM319 695h7v3h-7zM312 692h7v3h-7zM305 689h7v3h-7zM295 686h3v3h-3zM362 686h7v3h-7zM358 683h4v3h-4zM364.3 680L367.6 680L368.2 683L364.9 683zM363.6 677L370.2 677L370.9 680L364.3 680zM267 674h3v3h-3zM314 674h6v3h-6zM346.3 674L349.6 674L350.3 677L346.9 677zM389.2 674L395.8 674L396.8 677L390.1 677zM267 671h3v3h-3zM348.9 671L352.2 671L352.9 674L349.6 674zM388.2 671L394.7 671L395.8 674L389.2 674zM348.1 668L351.4 668L352.2 671L348.9 671zM387.8 662L394.1 662L395.5 665L389.1 665zM354.9 659L358.0 659L359.1 662L355.9 662zM386.4 659L392.7 659L394.1 662L387.8 662zM384.9 656L391.1 656L392.7 659L386.4 659zM383.4 653L389.6 653L391.1 656L384.9 656zM381.8 650L391.0 650L392.7 653L383.4 653z"/>
<path fill="#e80000" d="M354 701h3v3h-3zM353 698h4v3h-4zM377 692h3v3h-3zM317 677h4v3h-4z"/>
<path fill="#d02828" d="M268 707h24v3h-24zM254 704h17v3h-17zM275 704h20v3h-20zM309 704h10v3h-10zM254 701h38v3h-38zM302 701h24v3h-24zM299 698h27v3h-27zM298 695h21v3h-21zM298 692h14v3h-14zM298 689h7v3h-7zM298 686h3v3h-3zM362 683h7v3h-7zM357.6 680L364.3 680L364.9 683L358.2 683zM350.3 677L363.6 677L364.3 680L350.9 680zM349.6 674L369.4 674L370.2 677L350.3 677zM352.2 671L375.1 671L376.0 674L352.9 674zM351.4 668L374.1 668L375.1 671L352.2 671z"/></g>
<path fill="none" stroke="#000" stroke-width="0.7" stroke-linejoin="round" d="M79.0 625.6L80.1 627.2L84.7 627.0L82.2 628.5L78.1 629.2L74.0 631.2L73.1 632.8L75.0 633.5L73.9 634.9L75.1 635.4L78.5 635.4L76.5 637.1L70.0 639.5L63.5 641.4L67.4 640.8L72.1 639.6L77.9 637.4L81.8 636.0L84.3 634.2L88.2 632.3L90.9 631.8L86.2 634.5L89.2 633.8L92.4 632.3L94.7 632.3L95.6 633.5L98.3 633.6L100.2 633.9L101.2 635.8L100.9 637.9L100.6 640.4L102.6 641.1L103.4 641.9L103.3 643.8L103.0 646.1L101.6 647.2L102.8 649.4L103.4 650.7L103.4 650.8L102.3 653.8L100.6 656.9L98.4 659.5L96.6 663.3L96.2 665.6L96.8 667.7L96.8 669.2L97.2 672.4L99.0 673.2L99.6 673.8L100.6 675.4L100.8 677.0L101.0 679.6L102.4 682.0L101.0 683.1L102.6 684.9L103.7 687.9L106.1 690.9L106.9 690.1L105.9 688.3L105.3 686.0L104.2 682.8L103.1 679.6L103.2 677.0L105.4 677.6L105.6 680.4L106.7 683.0L107.9 686.0L109.5 687.5L111.0 690.2L111.9 693.1L111.5 694.8L112.8 696.9L115.8 698.7L118.5 700.5L121.6 701.9L125.1 701.6L126.7 701.9L128.6 704.1L131.5 705.4L134.5 706.2L134.9 706.6L136.2 708.1L137.0 709.6L136.9 711.2L138.3 711.5L139.7 713.3L140.6 713.9L142.3 714.2L143.5 715.5L144.5 715.2L144.4 713.9L145.6 712.8L147.2 713.9L147.7 715.5L148.3 716.0L148.1 718.3L148.3 720.7L146.6 723.1L145.9 724.5L144.4 725.7L143.8 728.6L143.1 730.5L144.5 730.9L144.8 731.7L144.1 732.4L142.8 734.1L143.3 736.5L145.0 738.4L146.8 741.2L149.0 745.9L150.5 748.8L152.2 751.2L156.2 753.5L158.0 754.8L159.5 756.0L160.1 759.4L160.2 764.1L160.4 768.0L160.1 772.8L160.5 775.9L161.1 779.1L160.8 783.0L160.7 785.7L161.3 789.3L161.9 792.9L162.4 795.6L162.6 800.6L163.7 803.3L165.2 806.4L167.5 809.0L170.9 811.7L174.6 813.5L177.9 814.2L179.9 812.7L177.9 811.7L175.1 810.0L174.6 809.1L173.4 807.9L172.7 806.1L173.7 804.4L175.2 802.2L172.3 799.9L172.6 798.2L174.1 797.9L173.8 795.6L175.3 794.3L173.4 793.6L172.8 791.4L176.3 791.4L175.7 788.5L179.7 787.9L181.4 787.0L181.9 784.5L180.8 783.0L179.0 781.3L179.8 781.3L182.1 782.1L183.8 782.1L185.3 780.4L186.6 777.8L188.3 775.6L189.3 773.1L190.5 770.9L190.3 767.9L192.1 765.5L194.5 764.6L197.1 763.3L198.8 763.1L200.0 761.4L200.9 758.6L202.1 755.1L202.2 750.7L202.6 747.5L204.3 744.8L206.0 742.8L207.4 740.4L207.6 738.4L207.0 735.4L204.5 734.6L202.4 732.8L200.2 731.4L197.7 731.4L194.7 730.9L191.9 728.9L189.1 727.9L186.3 727.0L186.3 724.2L185.0 720.7L182.9 718.6L180.8 717.8L179.2 717.5L176.7 717.5L175.0 716.1L172.9 713.9L171.2 713.4L170.2 711.2L169.3 710.1L167.2 710.4L165.8 711.1L164.2 710.3L161.7 710.3L161.3 709.3L159.0 707.7L158.6 708.8L157.0 709.6L157.2 708.4L157.3 707.4L156.0 708.1L154.4 709.2L153.0 709.2L151.3 710.3L150.9 712.0L149.3 713.3L149.0 714.4L148.5 713.3L147.0 712.2L145.5 712.0L143.8 713.0L142.5 712.8L141.4 712.0L140.8 711.2L140.1 709.8L140.0 707.3L140.6 704.9L141.1 703.3L139.5 702.1L137.4 701.9L135.1 701.9L133.8 702.1L134.6 700.2L135.0 698.0L136.1 696.2L137.4 693.5L135.8 692.9L132.6 693.7L131.9 695.4L131.5 696.7L130.0 697.6L127.6 698.0L125.8 698.1L124.5 697.3L123.9 696.2L123.0 693.9L122.6 691.5L123.2 689.1L124.4 686.1L124.6 683.9L125.8 682.3L128.2 681.2L129.2 680.4L130.8 680.0L132.7 680.3L133.9 680.9L136.0 681.2L136.2 679.5L137.6 679.2L139.7 679.0L141.0 679.2L141.7 680.1L143.3 679.5L144.3 680.4L144.8 682.0L144.5 683.6L145.1 685.2L145.6 686.3L146.0 687.2L147.0 687.2L147.6 686.0L147.8 684.4L147.7 682.3L147.4 680.4L147.2 678.9L147.8 677.3L148.8 676.0L150.5 674.9L151.9 673.6L153.2 673.3L155.2 672.2L156.7 671.3L157.0 669.4L156.9 668.6L157.9 667.3L158.8 666.2L159.9 665.0L161.0 663.4L164.0 662.3L165.2 661.5L166.4 661.4L167.0 660.8L166.1 660.8L166.1 659.8L166.7 658.9L167.6 658.1L169.3 657.6L170.7 657.0L172.2 656.4L173.6 655.8L175.3 655.2L172.9 657.3L173.1 658.3L175.0 657.3L176.5 656.7L179.2 655.8L181.4 654.8L181.5 653.1L179.9 654.5L178.2 655.0L176.8 654.4L176.0 653.3L176.1 651.9L175.3 651.4L177.0 651.0L177.6 650.1L175.7 649.6L173.0 650.4L171.5 651.0L172.5 649.9L174.7 649.0L175.8 648.1L178.7 647.9L181.3 648.1L183.5 647.9L185.3 646.9L187.8 646.1L189.7 645.0L190.1 643.4L188.8 642.0L187.3 640.8L186.0 639.6L185.4 637.6L185.2 636.1L184.6 634.2L184.3 632.9L182.9 634.2L181.1 635.2L179.2 635.7L177.7 635.2L178.6 633.5L178.8 632.0L177.4 631.6L176.8 630.6L174.9 630.2L172.3 629.9L170.8 630.2L170.4 631.8L169.6 633.5L168.9 634.9L167.6 635.2L168.3 637.1L167.8 638.9L166.1 640.1L163.2 641.3L162.9 643.1L162.1 645.3L160.9 646.4L159.4 646.4L159.0 644.9L158.6 643.8L160.3 640.8L159.0 640.4L156.9 640.1L155.2 639.0L154.1 637.9L152.1 637.4L149.9 637.9L151.1 636.4L149.8 635.2L150.4 633.5L152.0 632.0L154.8 630.3L157.8 629.2L158.9 628.1L161.3 627.8L163.5 626.8L164.2 625.8L165.9 625.0L167.3 624.5L168.8 624.6L171.5 623.6L173.1 621.6L173.5 620.0L171.1 619.9L169.3 620.9L168.6 622.3L166.3 623.0L165.8 622.3L164.5 621.2L164.8 620.3L163.8 619.6L165.5 617.7L163.6 617.0L160.8 618.7L158.7 620.3L159.6 621.6L159.1 623.0L157.3 622.6L155.3 622.6L155.6 621.6L152.2 622.6L149.4 622.3L147.9 621.6L144.6 623.0L145.6 621.9L143.2 622.3L139.9 622.6L137.9 622.4L138.7 621.6L137.4 620.9L135.0 620.3L132.5 619.9L131.2 619.6L130.0 620.3L127.7 619.6L125.7 619.6L122.9 620.3L120.9 620.3L118.1 620.9L116.1 620.2L114.2 620.0L111.9 619.5L108.4 619.1L105.1 618.6L101.6 617.9L98.2 618.6L94.1 619.4L90.6 620.7L87.3 621.2L87.1 622.8L87.0 623.6L87.6 624.3L85.0 624.3L82.2 624.9zM206.9 633.8L205.1 632.5L202.6 631.8L201.7 629.9L200.9 627.8L200.7 625.7L200.3 623.6L201.4 621.6L204.4 620.7L201.4 619.6L202.0 618.3L202.1 616.4L201.7 614.5L201.5 612.6L198.8 611.8L195.0 612.0L192.7 611.4L191.7 610.5L190.8 609.4L194.5 608.3L198.3 608.0L200.2 606.9L205.3 605.9L210.1 605.2L216.1 604.9L223.2 604.2L229.1 603.9L233.9 604.2L237.7 604.9L240.8 605.9L245.9 605.9L244.0 606.9L241.3 607.4L239.6 609.1L238.7 610.8L237.8 612.6L236.6 613.9L234.9 615.1L234.5 617.0L233.6 619.0L231.1 619.0L231.8 620.3L229.5 621.5L225.3 622.2L221.9 623.4L219.4 624.7L216.0 625.6L213.6 626.4L211.9 628.5L209.6 630.6L208.3 632.8zM192.2 624.2L188.6 626.7L186.0 629.2L184.5 630.6L181.9 630.3L179.1 629.5L178.7 628.2L177.2 627.1L172.8 627.4L173.4 626.4L177.9 626.0L179.4 624.3L181.2 623.0L181.4 621.9L179.7 621.3L178.4 620.3L176.8 619.6L175.1 619.9L171.8 619.6L169.1 619.2L167.9 618.3L168.6 616.4L170.4 614.9L173.9 614.7L173.4 616.4L172.4 617.7L177.6 614.9L179.0 614.9L180.6 615.9L181.4 616.1L183.0 617.3L185.2 618.3L187.1 619.2L187.6 620.9L188.3 622.3L190.4 623.2zM186.2 611.5L182.2 611.8L177.9 611.5L174.3 611.4L176.9 609.9L179.2 609.4L178.5 608.5L181.9 607.1L178.7 606.2L182.3 605.4L190.1 604.4L198.4 604.3L204.5 604.9L201.9 605.9L197.8 606.7L193.3 607.7L189.0 608.5L188.8 609.6L185.3 610.5L185.6 611.2zM178.3 609.4L175.8 609.3L172.7 608.2L173.5 606.9L177.9 606.2L180.1 607.1L177.0 608.3zM180.6 613.6L175.6 613.9L170.2 613.6L169.8 612.6L166.5 612.6L168.3 611.1L171.7 611.3L173.2 612.5L178.1 612.3L181.6 612.5zM153.6 620.9L149.4 621.1L144.0 621.5L140.4 621.5L138.4 620.9L138.8 619.6L144.2 619.2L139.2 618.3L139.1 617.5L142.3 616.0L146.4 615.4L150.4 616.1L154.1 615.4L154.0 616.4L152.5 618.3L154.5 619.4zM134.5 618.1L133.3 617.0L136.6 615.1L141.6 613.9L144.3 615.1L140.4 616.4L136.9 617.7zM156.5 613.2L149.9 614.0L146.5 613.0L149.2 611.7L155.1 611.4L158.0 612.0zM160.6 617.7L157.4 617.9L156.9 616.4L160.0 614.7L163.3 614.9zM168.4 616.0L162.9 616.8L165.1 614.5L169.3 614.5zM164.0 613.2L159.7 612.9L161.5 611.4L166.2 611.3zM169.4 628.5L164.9 629.6L162.6 628.2L165.6 625.4L167.7 626.1L170.0 627.5zM158.7 621.5L154.9 621.2L157.2 619.8L159.3 620.2zM183.1 652.1L186.8 653.1L190.2 653.6L191.1 652.2L190.2 650.7L190.9 649.4L188.5 648.4L189.6 645.9L187.4 647.3L185.2 649.4L183.4 651.0zM140.1 692.4L142.9 690.9L146.4 690.5L149.6 691.8L152.5 694.2L154.4 695.1L149.8 695.7L149.3 694.3L147.0 692.9L144.1 691.8L141.6 692.1zM153.7 698.0L156.4 698.3L157.7 699.1L159.9 698.1L162.0 698.1L161.4 696.5L158.7 695.6L156.0 695.6L156.1 697.0L154.0 697.5zM148.3 698.1L150.2 698.9L151.3 698.6L150.3 697.8zM163.7 698.6L165.7 698.6L165.8 697.8L163.7 697.8zM149.3 688.6L150.4 689.1L150.5 687.2L149.8 687.2zM151.1 685.6L151.8 685.5L152.0 684.5L149.9 684.7zM170.1 711.1L171.3 711.1L171.4 710.0L170.3 710.1zM231.9 627.9L234.5 628.5L236.6 628.6L240.0 627.4L241.6 626.4L240.5 624.7L238.8 624.3L236.6 624.9L234.5 625.0L232.5 624.5L230.7 625.7L232.7 626.4L230.5 626.7L232.5 627.4zM249.1 648.4L251.8 647.9L254.2 647.3L256.6 647.2L257.7 646.4L258.0 644.3L256.4 643.8L256.0 642.8L254.6 641.4L254.1 640.1L252.5 639.3L253.7 637.9L253.7 636.8L251.5 636.8L252.4 635.5L250.4 635.5L249.2 637.1L249.7 638.6L248.8 639.6L250.2 640.8L250.3 641.3L251.9 641.0L252.5 642.3L252.2 643.4L250.7 643.5L251.0 644.9L249.8 645.6L251.8 646.1L252.4 646.6L250.6 646.9L249.7 647.9zM244.0 645.9L245.8 645.9L248.5 645.0L248.9 643.4L249.5 641.6L248.4 640.5L246.5 640.5L245.9 641.7L244.3 642.0L244.4 643.4L244.7 644.4L243.7 645.3zM265.6 607.8L267.6 609.4L268.7 610.5L271.3 611.3L272.7 610.2L275.2 609.4L273.6 608.5L277.0 608.2L279.4 607.4L274.9 607.0L270.7 607.4L268.2 607.6zM306.6 617.5L310.7 618.7L313.1 618.7L310.4 616.4L311.2 614.5L313.0 612.9L316.7 611.7L319.0 611.1L317.0 610.8L313.1 611.7L309.4 613.0L308.4 615.4L307.1 616.6zM339.6 608.4L345.6 609.6L349.6 609.3L346.9 608.0L342.2 607.1L337.8 606.4L336.6 607.4zM384.0 612.9L389.7 613.5L393.1 613.2L396.4 613.0L392.4 611.8L387.3 612.0L383.6 612.0zM390.4 615.2L394.1 615.5L391.9 614.6zM432.7 618.3L434.4 618.4L433.1 617.7L431.9 617.5zM77.6 618.4L80.5 618.2L81.1 617.5L78.9 617.7zM297.4 607.2L303.7 607.4L309.3 606.9L306.9 606.1L301.6 605.9L297.0 606.6zM305.1 621.2L306.6 621.2L306.2 620.3L304.7 620.3zM432.5 654.7L433.4 653.3L432.0 652.2L430.5 649.9L432.1 649.9L428.8 647.6L426.5 644.6L423.2 641.9L423.7 643.4L425.8 646.1L428.1 648.4L430.2 651.4L431.4 653.3zM434.8 661.5L435.7 661.1L438.1 660.8L439.7 658.7L437.7 657.6L432.9 655.3L433.6 656.9L434.4 658.7L433.2 658.9L433.5 660.3zM428.8 673.3L429.1 672.2L430.5 671.0L433.7 670.8L434.5 668.9L434.6 667.8L436.3 668.1L436.6 666.2L435.9 663.9L435.2 662.0L436.5 661.7L438.4 663.9L439.4 665.5L439.0 667.0L440.0 668.9L440.6 670.6L440.0 671.8L439.4 671.3L438.7 672.2L436.6 672.4L436.3 672.9L435.6 674.1L434.1 672.9L431.9 672.7L430.5 673.2L429.0 673.5zM430.7 673.5L431.7 675.1L432.6 674.3L433.6 674.4L433.8 673.5L432.1 673.0zM428.2 673.8L429.0 673.6L430.7 675.1L431.0 677.4L429.6 677.7L428.9 676.0L427.7 674.9zM419.8 690.7L420.9 692.3L421.4 689.9L421.4 687.5L420.4 687.2L419.7 688.6zM405.1 696.7L406.4 698.3L407.7 697.3L408.1 695.9L407.0 695.3L405.6 695.6zM421.8 701.7L421.5 698.3L422.8 697.6L424.0 698.1L424.4 700.5L423.6 702.5L424.6 704.7L426.5 705.1L427.7 706.5L427.7 707.1L426.1 705.8L424.4 705.2L422.7 704.9L422.6 703.8L421.7 703.3zM425.3 710.4L425.1 708.4L426.8 708.8L428.3 708.8L429.4 707.3L430.3 709.3L429.8 710.9L428.1 710.9L427.5 712.3L426.8 712.3L426.7 710.9zM425.7 716.0L427.0 715.2L428.7 715.5L428.6 717.2L430.4 718.0L431.3 717.1L431.9 715.5L431.5 713.6L430.2 711.7L429.3 713.3L427.9 713.9L426.9 713.4L425.9 714.7zM418.9 713.7L419.9 713.1L421.8 710.4L421.7 709.2L420.6 710.9zM408.0 724.3L408.8 723.8L410.8 724.6L411.3 723.1L413.5 721.9L414.8 719.7L416.8 718.3L418.5 716.0L419.8 717.1L422.0 718.8L420.4 720.2L420.0 722.3L420.5 723.5L421.9 725.4L420.3 725.9L419.8 728.3L418.4 729.4L418.1 731.7L417.6 733.3L415.8 733.5L414.2 732.2L411.8 732.5L409.6 731.6L409.4 729.4L408.3 728.1L408.0 726.5zM388.7 718.2L391.8 718.8L393.5 721.0L396.1 723.5L397.9 724.3L399.9 726.2L400.7 728.6L401.7 729.8L403.7 731.7L403.3 736.2L401.6 736.2L400.1 734.7L398.5 733.3L396.8 730.9L395.9 728.6L394.2 726.5L393.3 724.3L391.5 721.9L389.7 720.4L388.7 718.8zM402.3 737.7L403.5 736.3L404.9 736.3L407.0 737.4L410.0 737.1L412.6 737.9L415.2 739.2L415.0 740.7L412.3 740.3L408.9 739.8L406.2 739.3L404.0 738.7zM415.2 739.8L418.2 739.9L420.0 739.9L421.7 740.3L421.3 740.9L418.5 741.4L416.7 740.9L415.2 740.6zM422.5 740.3L424.2 740.1L427.0 739.9L426.6 740.7L424.1 741.0L422.6 740.9zM421.3 741.8L423.7 742.6L422.8 743.3L421.2 742.5zM427.4 743.3L428.6 741.7L430.8 740.6L432.9 740.3L431.7 741.4L429.5 742.3L428.1 743.3zM422.4 735.7L422.5 732.5L421.6 731.3L423.1 727.0L423.6 725.1L425.4 725.3L428.2 725.6L430.6 724.5L429.6 726.4L426.8 726.2L424.0 726.2L423.6 728.3L425.0 728.6L427.9 728.3L426.4 729.8L425.4 730.2L426.7 732.4L427.3 734.1L426.5 735.7L425.5 734.4L424.6 732.2L423.7 731.7L423.6 735.8zM433.8 727.0L434.2 723.8L435.4 724.6L435.5 726.5L434.5 728.3zM434.4 732.1L438.3 731.7L438.2 733.0L434.3 732.7zM431.6 732.1L433.3 732.1L433.2 733.0L431.5 733.0zM438.7 728.3L440.8 727.6L442.8 728.3L443.1 730.9L444.1 732.2L446.3 730.5L448.4 729.5L450.5 730.5L452.5 731.1L455.3 732.4L457.3 733.0L459.0 734.9L460.6 736.5L461.6 737.6L460.8 738.0L461.7 739.6L463.6 742.0L465.3 743.3L463.4 743.4L460.7 742.8L458.9 740.4L456.9 739.2L455.4 740.3L454.3 741.5L451.9 741.4L449.9 739.8L447.8 740.1L449.1 738.0L448.1 735.7L445.4 734.3L442.7 733.2L441.3 733.5L441.1 732.1L440.0 731.4L442.1 730.6L440.4 730.5L438.6 729.2zM462.4 735.8L464.8 735.7L467.0 733.6L468.1 733.8L467.3 735.8L464.7 736.9L462.7 736.5zM466.2 731.1L468.5 733.0L469.1 734.4L468.6 733.8L466.4 731.7zM471.7 736.5L473.0 737.7L472.3 737.9L471.3 736.5zM477.5 741.7L479.2 742.5L478.5 742.6L477.5 742.2zM366.9 714.4L367.3 711.7L368.8 713.6L369.9 715.5L369.1 717.1L367.6 717.5L367.0 716.0zM324.3 745.9L325.4 750.7L324.5 753.8L323.2 757.0L321.5 761.7L320.1 766.3L317.7 767.3L315.7 766.1L315.3 763.3L315.6 760.9L317.0 758.3L316.5 754.6L318.0 752.3L320.9 751.2L322.4 748.3zM441.2 791.4L443.2 791.8L445.7 791.5L444.2 793.6L442.2 795.3L440.1 795.6L440.2 794.0zM483.6 781.3L484.5 782.7L485.1 784.9L484.8 786.3L487.4 786.3L487.6 787.0L484.9 789.0L483.2 790.1L479.4 792.6L479.1 792.2L480.9 790.4L480.4 789.3L482.3 787.8L483.5 785.7L483.4 782.7zM477.4 790.9L478.5 792.0L477.2 793.2L473.9 795.6L471.0 796.8L468.4 799.2L465.8 800.4L464.0 800.2L462.8 799.5L465.6 797.6L468.7 796.1L473.3 793.7L475.9 791.7zM480.6 758.7L482.4 759.8L483.8 762.0L483.1 762.4L481.4 760.9L480.4 759.4zM499.8 754.6L501.6 754.6L501.4 755.7L499.6 755.7zM502.3 752.9L504.0 752.7L503.8 753.5L502.1 753.7zM486.0 750.7L486.8 750.7L486.7 753.0L486.0 753.0zM42.0 697.0L43.5 696.2L43.4 695.1L42.3 695.6zM40.9 693.9L42.6 694.5L42.3 693.9L41.4 693.5zM39.8 693.4L40.5 693.4L40.4 692.7zM38.0 692.3L38.6 692.3L38.4 692.0zM128.4 728.6L129.1 727.3L129.4 728.6zM272.2 667.0L276.1 666.7L275.8 668.9L274.2 668.6L272.5 667.8zM266.7 665.5L266.6 662.6L267.9 662.0L268.5 663.9L268.3 665.3L267.4 665.6zM267.1 661.5L267.0 660.0L267.9 659.2L268.1 661.2zM287.0 671.3L288.1 671.0L290.4 671.4L288.9 671.8L287.0 671.4zM298.5 672.1L299.4 672.4L300.7 671.8L301.2 670.8L300.0 671.3L299.1 671.4zM259.1 664.8L260.3 664.8L260.2 664.0L259.2 664.2zM183.0 807.9L185.3 807.6L186.9 808.1L185.8 809.1L183.2 808.7zM211.4 811.7L213.8 812.1L214.0 812.9L211.5 812.1zM339.8 804.1L341.9 804.2L341.3 805.2L339.7 805.0zM79.2 637.9L82.6 637.1L83.5 636.0L81.3 636.4zM56.9 643.5L59.9 642.9L60.5 642.3L58.1 642.9zM47.9 645.3L50.7 644.9L50.5 644.6zM43.2 645.8L45.2 645.6L44.9 645.3zM71.1 628.8L73.2 629.2L74.2 628.5L71.9 628.2zM69.7 633.8L71.2 633.6L71.8 632.9L70.6 633.1zM99.9 642.3L99.4 644.6L99.8 645.3L100.6 643.1L101.4 642.3zM177.9 648.5L180.5 649.8L180.9 649.3L179.1 648.5zM176.6 653.3L178.7 654.5L179.2 653.8L177.4 653.6zM448.2 640.4L450.0 641.1L449.9 640.8zM439.0 656.9L440.6 655.6L439.9 655.5L438.7 656.4zM442.1 654.2L443.3 652.5L442.8 652.7L441.8 653.8zM443.6 648.4L444.0 647.2L443.4 647.5zM310.5 737.3L311.1 736.5L310.8 736.0zM329.8 707.3L331.5 707.1L331.1 707.6L329.8 707.6zM331.4 760.6L332.3 760.1L332.2 760.8zM334.4 759.4L335.2 758.7L335.1 759.4zM315.9 745.6L316.3 745.0L316.3 745.8zM233.2 682.6L234.3 682.0L233.9 682.8zM236.7 682.6L237.9 680.9L237.3 682.5zM223.1 703.3L223.7 702.8L223.7 703.5zM222.5 667.3L223.3 667.3L222.9 667.5zM233.2 675.2L233.9 675.2L233.6 675.5zM248.1 630.6L248.9 630.2L248.6 630.9zM254.3 633.5L254.9 632.6L254.6 632.8zM247.3 618.4L248.1 618.2L247.9 618.4zM276.8 637.9L277.6 636.5L277.5 637.4zM384.5 708.5L384.6 705.8L384.2 707.3zM265.1 726.8L265.3 726.4L265.3 726.8zM267.8 721.8L268.4 721.2L268.1 721.8zM248.3 670.5L249.1 670.3L252.1 671.3L254.0 671.4L256.0 670.3L259.9 668.9L265.1 668.6L268.8 668.1L270.3 668.6L269.7 670.2L270.2 672.5L269.3 673.3L270.8 674.6L273.5 675.1L276.3 676.0L276.6 677.3L279.4 678.2L281.7 679.2L282.7 678.1L282.6 676.2L284.5 675.1L286.8 675.7L289.3 677.0L292.0 677.7L294.7 678.2L296.0 677.6L297.3 677.3L299.1 677.7L299.6 679.6L300.1 681.5L301.6 683.9L303.5 687.5L304.6 689.9L306.4 692.3L306.9 694.6L307.1 696.2L308.9 698.6L310.2 702.2L312.7 704.6L314.8 706.5L316.0 707.3L315.9 708.8L317.7 710.4L321.2 709.3L323.9 709.0L326.9 708.2L326.8 710.6L326.2 712.8L324.9 716.0L323.5 719.1L321.5 722.3L319.3 723.8L316.7 726.5L314.6 728.6L313.2 730.2L311.7 732.5L311.2 734.1L310.3 736.5L310.9 738.0L310.9 741.2L312.1 743.6L312.2 746.7L312.1 749.9L311.9 751.5L310.4 753.0L307.6 754.8L306.5 756.2L304.0 758.3L303.9 760.1L304.4 762.0L304.3 764.6L303.2 766.0L300.7 767.3L300.3 768.0L300.4 770.4L299.4 772.5L297.5 774.4L296.0 776.4L293.8 778.6L291.7 780.2L289.9 780.7L287.0 780.8L285.0 781.0L282.3 781.9L280.4 781.1L280.2 779.1L280.2 777.5L279.4 775.1L278.2 772.3L276.5 769.1L275.7 764.9L275.8 762.8L274.2 759.4L272.5 755.4L272.3 753.0L273.0 750.7L274.7 746.7L275.1 744.4L274.3 741.2L273.4 737.3L273.0 736.5L272.4 734.6L271.3 733.0L269.5 730.6L268.3 728.3L269.2 726.5L269.2 725.1L269.7 723.1L269.5 721.0L268.3 719.9L265.8 720.1L264.4 720.2L263.0 718.3L262.0 717.1L260.7 716.9L257.7 717.4L255.7 718.3L253.2 719.4L251.5 718.9L250.4 718.8L247.6 719.4L245.6 720.1L243.5 718.8L241.0 717.1L240.0 716.1L238.6 715.2L237.7 713.6L237.0 712.0L235.6 710.1L234.9 709.3L233.8 708.4L232.9 707.4L232.8 706.0L232.5 704.6L231.8 703.8L233.3 701.7L233.6 699.4L234.0 698.4L233.8 696.5L233.4 694.6L232.8 693.9L232.8 692.3L234.2 689.6L235.6 687.5L236.4 685.8L238.2 683.3L238.6 682.8L241.1 681.5L242.6 680.4L243.0 678.9L242.9 677.3L243.8 675.7L246.0 674.0L247.0 673.3L247.9 671.4zM248.7 670.2L247.8 669.4L246.4 668.3L244.4 668.6L244.6 666.4L243.7 665.9L244.6 663.6L244.9 662.0L244.7 660.4L244.2 659.2L245.9 658.1L248.7 658.3L251.2 658.4L253.7 658.6L254.5 656.9L254.6 655.2L254.5 654.2L253.3 652.7L251.7 651.9L250.1 651.4L250.3 650.7L252.3 650.2L254.0 650.4L253.8 648.8L254.7 649.3L256.1 649.1L257.8 648.2L257.9 647.0L259.8 646.2L260.8 645.3L261.6 643.8L262.5 643.2L264.3 643.1L266.0 642.8L266.2 641.7L265.6 640.1L265.3 638.6L265.4 637.7L267.0 637.4L268.1 636.8L268.0 638.6L268.5 638.8L267.6 640.1L267.4 641.0L268.7 642.0L270.1 642.0L271.8 641.7L272.8 642.3L274.7 641.9L277.6 641.1L278.8 641.7L279.3 641.0L280.3 640.1L280.1 638.2L280.5 637.1L281.7 636.8L283.5 637.9L283.6 636.0L282.4 634.6L283.6 634.2L287.3 634.1L289.7 633.6L287.6 632.6L284.8 632.9L283.7 633.3L281.7 633.8L279.8 632.8L279.4 631.3L279.3 629.2L282.0 626.7L282.9 626.4L281.4 625.3L279.2 625.6L278.7 627.1L277.8 628.2L275.6 629.9L275.0 631.3L275.0 632.5L276.8 633.5L276.4 634.5L274.9 635.7L274.8 637.1L274.6 638.6L272.7 639.3L272.5 640.2L271.1 640.2L270.6 639.0L269.7 637.1L268.6 635.2L268.0 634.5L267.8 633.6L266.7 635.1L265.1 636.2L263.9 636.4L262.3 635.2L261.7 633.5L261.5 631.3L262.0 630.3L263.6 629.5L265.1 628.5L267.2 628.5L267.7 627.1L269.1 625.3L269.5 623.6L271.0 623.0L271.8 621.9L270.3 621.9L272.2 620.9L274.6 620.0L277.0 619.4L279.3 618.6L281.5 618.2L283.7 618.3L286.9 619.1L286.2 620.0L289.3 620.4L292.4 620.7L297.6 622.6L298.8 623.9L297.8 624.7L295.8 625.0L292.4 624.2L290.3 623.9L292.2 625.3L293.3 627.2L295.6 627.8L296.5 627.1L299.1 627.0L298.2 625.7L300.4 624.5L302.2 624.6L301.4 623.0L300.9 621.6L303.2 622.3L304.2 623.6L306.2 622.3L310.0 621.6L312.1 621.6L314.9 621.2L317.2 620.7L316.1 619.6L320.7 620.5L324.1 621.2L325.0 620.3L322.7 619.0L321.5 617.0L322.6 615.7L325.0 615.7L327.6 617.7L329.1 620.3L329.8 622.3L332.3 623.0L330.5 620.9L328.8 617.0L329.1 616.0L332.0 616.6L334.2 616.4L336.4 617.3L338.7 619.0L333.7 615.1L338.1 614.7L337.7 613.2L341.3 612.3L345.7 612.0L347.8 611.4L349.9 610.0L353.4 610.8L357.5 611.2L361.3 612.3L362.8 613.9L360.7 614.5L363.6 614.9L370.9 615.7L374.4 615.5L377.9 615.2L381.8 616.4L384.2 618.3L386.9 617.7L390.8 617.7L392.4 616.6L392.5 616.0L398.2 616.6L403.6 617.7L406.7 618.4L411.4 618.3L415.4 619.0L418.3 620.3L422.3 620.3L426.5 619.8L429.4 620.9L433.0 620.0L438.7 621.1L446.3 626.1L445.9 627.0L444.6 626.8L445.1 627.5L448.4 628.8L451.2 630.2L448.6 630.9L446.8 632.0L445.9 633.5L441.6 633.2L439.4 633.6L438.7 634.2L440.4 635.7L440.1 636.7L443.1 638.3L442.7 639.0L444.4 640.8L443.8 642.3L443.6 643.8L444.4 645.3L444.3 646.9L441.3 644.6L437.9 641.6L435.0 638.6L434.4 636.7L434.7 634.9L435.0 632.8L435.1 631.0L434.2 629.9L433.8 631.3L431.1 630.9L432.8 632.3L428.2 631.2L428.6 633.5L426.9 634.9L424.9 634.2L421.7 634.4L418.4 634.4L415.7 634.5L414.8 636.4L414.2 638.2L415.3 640.5L413.9 641.3L417.4 642.3L418.9 642.6L420.5 642.5L423.0 643.5L424.2 645.3L425.4 647.6L427.2 649.9L427.1 652.2L427.1 654.1L426.3 656.5L425.4 659.2L422.8 659.0L421.9 660.0L421.5 661.5L421.9 662.6L420.5 663.9L420.3 664.7L420.7 665.5L422.5 666.6L424.7 668.6L425.5 670.5L425.5 671.6L423.8 672.2L422.5 672.5L421.7 670.5L421.0 668.6L419.6 667.3L418.2 667.0L417.6 665.0L415.9 663.9L413.8 664.7L412.7 665.6L412.1 663.1L410.8 662.5L409.7 664.2L408.2 665.1L408.4 666.2L410.6 667.8L411.6 668.3L412.9 667.3L415.5 668.1L414.1 669.4L413.5 670.2L412.8 671.8L415.3 674.1L418.1 676.8L418.6 678.4L417.2 679.2L419.4 680.0L419.5 682.3L418.6 683.9L418.0 686.0L416.9 688.0L415.2 689.9L413.4 691.0L411.8 691.8L410.2 692.3L408.3 693.1L406.7 693.4L406.6 695.0L405.9 693.1L404.2 692.7L402.9 693.4L402.0 694.3L401.0 697.0L402.5 699.4L404.4 701.0L405.3 701.7L406.9 704.1L407.3 707.3L407.1 708.8L405.5 710.0L404.2 710.7L403.9 712.0L401.9 713.4L401.6 711.5L401.0 710.6L399.6 710.3L398.0 708.1L395.8 707.0L395.6 705.8L394.3 706.0L394.5 708.1L393.8 710.4L394.2 712.5L395.3 713.7L395.9 715.6L397.6 716.7L398.7 717.5L400.0 719.4L400.2 722.3L401.3 724.8L400.3 724.9L398.5 723.5L397.2 722.3L396.1 720.4L395.6 718.3L395.3 716.7L394.7 716.0L393.3 714.4L392.6 712.8L392.8 710.4L392.6 708.1L391.8 705.2L390.8 702.5L390.4 701.0L389.2 700.2L388.2 701.0L387.4 702.1L386.0 701.7L386.0 699.4L385.4 697.3L384.1 695.7L383.0 694.6L381.7 693.1L381.2 691.8L379.4 691.5L377.5 692.6L376.2 692.7L374.9 693.4L374.8 694.6L373.8 695.7L372.6 696.5L370.8 698.9L369.4 700.8L367.9 701.7L366.8 702.5L366.7 704.9L367.1 706.3L366.7 708.4L366.7 710.7L366.0 712.3L364.6 713.0L363.7 714.2L362.3 712.8L361.8 711.2L360.7 708.8L359.5 706.5L358.2 703.6L357.8 702.5L356.9 700.2L356.0 697.0L355.5 694.6L355.2 693.5L354.9 692.0L354.5 693.5L353.1 694.2L352.0 693.9L350.1 692.0L351.4 691.3L351.8 690.7L349.7 690.4L348.8 689.4L347.2 688.0L346.1 686.9L343.5 687.1L340.1 687.2L339.4 687.4L336.7 686.9L333.9 686.6L333.0 684.7L332.0 684.2L330.1 685.0L328.3 684.7L326.8 683.6L325.4 683.0L324.2 681.4L323.2 679.6L321.5 679.0L320.9 679.6L320.4 680.4L321.2 682.0L322.1 683.6L323.6 684.9L324.0 686.4L325.0 687.9L325.0 686.7L325.4 685.8L326.0 687.1L326.0 688.3L326.7 689.0L328.7 689.0L330.0 688.5L331.0 687.1L331.9 685.8L332.3 685.5L332.5 687.5L333.2 688.6L335.6 689.7L337.5 691.5L336.4 694.3L335.2 695.4L335.2 697.0L333.6 698.6L331.9 699.4L330.3 700.2L328.0 701.7L325.0 703.3L323.3 704.9L320.3 705.8L318.3 706.8L316.2 707.0L315.8 705.7L315.1 703.3L314.8 701.1L313.3 698.9L311.9 696.2L310.2 694.2L309.4 693.1L308.4 689.9L306.9 688.3L305.8 686.0L303.9 683.6L302.8 682.5L302.9 680.4L302.3 682.8L302.1 683.1L301.0 682.0L299.8 680.1L299.6 679.6L299.1 677.7L300.7 677.9L301.7 677.4L302.2 676.0L302.4 674.9L303.0 673.3L303.1 671.0L303.3 669.2L302.4 669.2L301.0 668.9L299.8 669.9L298.1 670.0L296.1 668.9L294.2 669.7L292.5 669.1L291.6 668.6L291.0 666.4L289.9 665.0L289.7 663.9L289.6 663.4L289.3 662.6L287.3 662.5L286.6 663.6L285.5 663.1L285.2 664.7L286.0 665.5L285.8 666.2L287.1 667.0L287.2 667.5L286.1 667.2L286.2 668.1L286.0 669.4L285.3 669.4L284.3 668.9L283.7 667.5L283.9 666.6L282.9 665.8L282.0 664.5L280.9 663.1L280.9 661.5L279.9 660.3L278.1 659.2L276.2 658.3L274.8 657.0L274.1 655.8L273.1 656.1L272.9 655.2L271.5 655.5L271.4 657.2L273.0 658.3L274.0 660.0L276.4 660.9L277.6 662.2L279.6 663.6L279.7 664.2L277.8 663.1L277.4 664.4L278.1 665.5L277.4 666.4L276.8 667.0L276.4 667.0L276.7 665.5L276.2 663.9L275.0 662.9L274.2 662.6L272.6 661.8L271.5 661.1L269.9 660.0L269.3 659.2L268.8 657.8L267.9 657.2L267.2 657.0L266.1 657.8L265.2 658.1L263.6 659.0L262.3 658.6L261.0 658.4L259.9 659.2L260.1 660.3L260.1 660.9L258.8 661.7L257.0 662.6L256.0 664.2L255.6 664.8L256.3 665.8L255.2 667.0L255.1 667.7L253.4 668.9L252.9 668.9L250.3 669.1L249.1 670.0zM293.2 662.0L296.0 662.0L298.3 660.8L300.5 660.8L302.6 661.8L304.6 662.3L306.8 662.3L308.9 661.5L308.9 660.3L307.8 659.2L306.1 658.4L303.7 657.0L302.6 656.1L301.7 655.6L302.7 655.3L303.5 654.4L303.5 653.0L304.5 652.7L302.4 652.8L299.7 653.9L299.6 655.0L301.4 655.5L300.2 656.1L298.6 657.0L297.8 656.7L296.5 655.5L297.7 654.4L295.7 654.1L295.0 653.6L294.1 653.8L293.0 655.6L292.0 657.3L292.0 658.6L291.2 658.9L291.1 660.0L291.8 660.9zM320.4 667.8L322.5 668.9L325.8 668.8L326.1 667.0L325.4 665.0L324.1 663.9L323.5 662.3L324.5 662.6L325.3 662.0L324.0 660.4L322.9 661.2L322.5 659.5L320.8 658.9L319.1 657.2L320.1 656.7L319.9 655.6L322.1 655.6L321.8 653.4L319.6 653.0L317.3 653.8L315.6 654.5L314.6 656.7L315.9 658.4L316.4 659.7L317.7 661.1L319.4 662.9L320.5 663.4L319.6 665.0L319.4 666.6zM73.3 621.1L75.1 621.9L75.6 623.6L78.3 623.9L78.3 624.9L72.8 627.1L71.4 627.4L69.7 626.7L70.5 625.7L67.9 625.7L69.0 624.6L65.7 626.1zM453.7 743.9L454.7 746.7L454.7 749.6L456.6 750.7L456.7 753.7L456.6 756.7L457.6 757.5L459.3 758.9L459.9 760.5L461.5 762.5L461.4 764.1L462.5 765.7L463.6 767.3L462.5 770.3L462.4 772.3L460.5 775.1L458.6 777.8L455.8 780.4L453.9 782.6L451.9 784.6L451.0 786.2L448.1 786.8L445.4 788.2L444.9 788.7L443.8 787.6L443.3 787.3L441.5 788.2L440.0 787.4L438.7 787.0L438.1 785.4L438.6 783.8L437.6 783.2L438.2 781.9L437.0 782.6L438.4 779.1L438.9 778.3L437.0 780.2L434.9 781.9L434.5 782.1L434.4 780.2L433.9 778.8L433.4 777.7L431.5 777.5L430.5 776.7L427.8 776.9L424.7 777.8L423.4 778.0L420.9 779.1L419.1 780.5L417.1 780.5L414.4 780.5L411.1 782.2L408.6 781.9L407.6 781.1L408.1 780.0L409.3 779.1L409.8 777.5L410.1 775.1L410.1 773.6L410.0 772.3L409.9 770.4L409.4 768.4L409.9 766.5L410.6 764.9L411.0 762.7L411.9 761.4L413.8 760.6L415.8 759.5L418.2 759.0L420.4 758.4L422.7 757.0L423.9 755.4L424.3 753.8L426.1 753.0L426.0 754.3L427.6 752.3L428.6 750.7L430.2 749.1L431.6 748.9L433.0 750.4L434.8 750.5L435.5 748.3L436.7 746.7L438.1 746.3L439.7 745.2L441.0 745.6L443.0 746.3L445.1 745.9L445.6 746.4L444.1 748.3L443.1 750.4L444.2 751.9L445.9 752.7L447.5 754.3L449.6 754.8L451.2 751.5L452.0 748.3L452.4 746.7L453.2 744.2zM95.3 844.6L105.0 844.9L112.7 844.4L115.6 843.5L118.4 842.6L120.9 841.4L124.6 840.8L128.4 840.1L132.7 839.9L141.7 839.5L152.0 840.1L157.1 840.5L160.1 838.9L164.3 838.3L168.9 838.0L174.0 838.3L179.0 838.5L182.7 837.0L185.0 833.1L186.5 830.4L187.5 828.3L189.8 826.6L193.5 825.2L194.4 826.2L192.4 827.6L192.1 829.0L191.7 830.4L190.7 832.4L193.9 834.4L196.4 837.0L198.4 839.5L199.2 841.4L202.8 842.6L210.8 843.8L220.2 844.4L224.5 844.1L228.5 842.6L230.8 841.4L232.4 840.1L236.8 838.9L241.5 838.0L245.1 836.1L248.1 835.3L251.0 835.0L256.0 834.1L261.0 834.4L266.0 834.2L271.1 834.1L276.0 834.4L281.0 834.6L286.2 833.7L289.5 832.8L291.4 833.5L294.2 834.1L296.6 833.1L302.2 831.4L307.8 830.4L311.6 829.0L315.2 830.1L318.0 830.8L321.0 831.0L324.9 831.4L327.4 832.4L329.4 834.0L331.6 833.7L335.5 832.4L338.2 831.4L340.8 830.6L344.3 830.1L347.5 829.9L349.5 830.1L353.0 829.7L355.0 829.7L361.0 828.7L364.5 828.3L365.7 829.4L371.1 829.3L374.7 828.7L375.9 829.7L380.7 830.1L386.5 829.5L392.0 829.3L397.5 829.0L401.6 829.9L404.3 830.4L405.5 831.0L409.1 832.3L413.1 833.1L416.3 834.4L418.4 835.0L420.8 835.4L423.3 836.3L419.1 838.3L411.8 840.8L404.8 843.2L405.6 844.1L409.3 843.9L412.7 844.4L416.7 844.6M142.2 653.4L145.5 651.8L148.3 651.0L150.9 650.7L151.8 652.2L151.0 653.8L148.3 653.8L146.9 652.7L144.1 653.4zM144.4 660.8L146.0 660.8L147.6 657.6L150.2 655.0L149.0 654.8L146.7 656.1L145.3 658.4zM151.0 654.7L151.6 656.1L151.3 657.6L151.8 658.9L153.0 658.4L154.2 656.5L155.8 656.7L155.7 655.3L154.2 654.4zM150.0 661.1L152.1 661.4L155.9 659.7L154.0 659.8L151.2 660.6zM155.4 658.7L157.5 658.7L159.9 658.1L159.9 657.3L157.9 657.8zM139.0 647.6L140.3 646.9L140.2 644.6L140.1 642.8L139.0 643.5L139.1 645.3zM126.9 632.0L129.0 632.2L133.7 630.6L137.3 629.5L135.8 629.3L131.7 630.3L129.0 630.9zM124.1 626.4L127.8 626.4L131.3 625.0L133.5 623.8L130.5 623.6L127.4 624.7L124.3 625.7zM130.3 635.4L133.7 634.6L137.3 634.4L134.0 634.2zM300.6 730.9L302.7 730.9L303.4 728.6L303.1 726.5L301.0 726.5L300.2 728.6zM296.8 732.5L297.4 734.9L298.7 738.8L299.1 740.7L298.1 739.6L296.8 735.7zM303.2 742.2L304.0 743.6L304.4 747.5L304.6 749.6L303.8 749.1L303.5 745.9L303.2 743.6zM274.7 707.0L276.1 707.0L276.5 705.5L275.1 705.2zM380.2 645.9L382.0 645.6L383.5 643.4L383.6 640.5L382.6 639.6L382.2 641.1L382.0 643.8L380.6 645.3zM347.6 655.3L348.8 653.4L352.0 653.8L354.1 653.6L351.8 653.3L348.6 653.0L347.5 654.1zM290.3 633.5L292.1 633.1L292.1 631.8L289.5 631.3L289.2 632.3zM294.1 632.0L295.6 631.8L294.6 629.9L293.4 630.2zM159.4 751.5L160.9 752.6L160.5 753.0L159.5 752.3zM270.1 635.7L271.6 635.5L271.7 634.5L270.6 634.5zM329.5 658.3L330.9 658.1L332.8 656.9L332.1 654.8L330.3 653.6L329.1 654.8L329.2 656.5z"/>
</g>
<path d="M122.4 599.7L389.6 599.7M122.4 854.3L389.6 854.3" fill="none" stroke="#a0a0a0" stroke-width="0.9"/><path d="M122.4 854.3L117.8 853.0L112.4 851.3L106.4 849.1L100.1 846.6L93.5 843.8L87.0 840.8L81.1 837.6L75.6 834.4L70.4 831.0L65.3 827.6L60.4 824.1L55.6 820.5L50.9 816.9L46.4 813.2L42.1 809.4L38.2 805.6L34.5 801.8L31.1 797.9L27.8 794.0L24.7 790.1L21.9 786.2L19.4 782.2L17.1 778.3L15.0 774.4L13.3 770.4L11.8 766.5L10.5 762.5L9.5 758.6L8.4 754.6L7.5 750.7L6.8 746.7L6.2 742.8L5.7 738.8L5.4 734.9L5.1 730.9L5.0 727.0L5.1 723.1L5.4 719.1L5.7 715.2L6.2 711.2L6.8 707.3L7.5 703.3L8.4 699.4L9.5 695.4L10.5 691.5L11.8 687.5L13.3 683.6L15.0 679.6L17.1 675.7L19.4 671.8L21.9 667.8L24.7 663.9L27.8 660.0L31.1 656.1L34.5 652.2L38.2 648.4L42.1 644.6L46.4 640.8L50.9 637.1L55.6 633.5L60.4 629.9L65.3 626.4L70.4 623.0L75.6 619.6L81.1 616.4L87.0 613.2L93.5 610.2L100.1 607.4L106.4 604.9L112.4 602.7L117.8 601.0L122.4 599.7M389.6 854.3L394.2 853.0L399.6 851.3L405.6 849.1L411.9 846.6L418.5 843.8L425.0 840.8L430.9 837.6L436.4 834.4L441.6 831.0L446.7 827.6L451.6 824.1L456.4 820.5L461.1 816.9L465.6 813.2L469.9 809.4L473.8 805.6L477.5 801.8L480.9 797.9L484.2 794.0L487.3 790.1L490.1 786.2L492.6 782.2L494.9 778.3L497.0 774.4L498.7 770.4L500.2 766.5L501.5 762.5L502.5 758.6L503.6 754.6L504.5 750.7L505.2 746.7L505.8 742.8L506.3 738.8L506.6 734.9L506.9 730.9L507.0 727.0L506.9 723.1L506.6 719.1L506.3 715.2L505.8 711.2L505.2 707.3L504.5 703.3L503.6 699.4L502.5 695.4L501.5 691.5L500.2 687.5L498.7 683.6L497.0 679.6L494.9 675.7L492.6 671.8L490.1 667.8L487.3 663.9L484.2 660.0L480.9 656.1L477.5 652.2L473.8 648.4L469.9 644.6L465.6 640.8L461.1 637.1L456.4 633.5L451.6 629.9L446.7 626.4L441.6 623.0L436.4 619.6L430.9 616.4L425.0 613.2L418.5 610.2L411.9 607.4L405.6 604.9L399.6 602.7L394.2 601.0L389.6 599.7" fill="none" stroke="#222" stroke-width="0.75"/>
<g clip-path="url(#c3)">
<g shape-rendering="crispEdges"><path fill="#ff0000" d="M633.7 853L645.2 853L648.5 854L637.2 854zM633.7 852L645.6 852L649.1 853L637.5 853zM707.8 847L736.1 847L737.1 849L709.6 849zM701.3 844L723.8 844L725.2 847L703.4 847zM726.1 844L739.6 844L740.5 847L727.4 847zM701.6 842L713.2 842L714.8 844L703.6 844zM736.4 842L743.4 842L744.1 844L737.3 844zM877.9 842L884.8 842L881.4 844L874.6 844zM702.2 840L709.3 840L710.9 842L703.9 842zM740.3 840L752.2 840L752.6 842L741.0 842zM842.8 840L847.6 840L845.4 842L840.8 842zM857.1 840L861.9 840L859.3 842L854.7 842zM881.0 840L904.8 840L901.1 842L877.9 842zM702.9 837L707.8 837L709.3 840L704.5 840zM747 837h20v3h-20zM883.8 837L905.8 837L902.4 840L881.0 840zM701.4 835L706.4 835L707.8 837L702.9 837zM764 835h7v2h-7zM906.6 835L909.1 835L905.8 837L903.4 837zM702.5 832L705.0 832L706.4 835L703.9 835zM701.1 830L703.7 830L705.0 832L702.5 832zM699.7 827L705.1 827L706.3 830L701.1 830zM698.4 825L706.6 825L707.7 827L699.7 827zM682.1 808L685.1 808L686.3 811L683.4 811zM694.1 808L700.1 808L701.1 811L695.2 811zM677.9 805L687.0 805L688.1 808L679.1 808zM676.8 802L686.0 802L687.0 805L677.9 805zM675.7 799L685.1 799L686.0 802L676.8 802zM674.7 796L687.3 796L688.2 799L675.7 799zM673.7 793L686.4 793L687.3 796L674.7 796zM672.7 790L688.8 790L689.6 793L673.7 793zM671.9 787L691.3 787L692.0 790L672.7 790zM671.1 784L694.0 784L694.6 787L671.9 787zM670.3 781L696.7 781L697.2 784L671.1 784zM669.6 778L699.5 778L700.0 781L670.3 781zM669.0 775L699.1 775L699.5 778L669.6 778zM669 772h23v3h-23zM789 772h4v3h-4zM672 769h13v3h-13zM692 769h10v3h-10zM786 769h7v3h-7zM671 766h7v3h-7zM691 766h11v3h-11zM786 766h7v3h-7zM813 766h4v3h-4zM671 763h6v3h-6zM691 763h10v3h-10zM800 763h3v3h-3zM807 763h10v3h-10zM670 760h7v3h-7zM797 760h6v3h-6zM807 760h10v3h-10zM673 757h18v3h-18zM783 757h3v3h-3zM797 757h7v3h-7zM807 757h10v3h-10zM831 757h3v3h-3zM673 754h17v3h-17zM783 754h3v3h-3zM807 754h10v3h-10zM828 754h10v3h-10zM669 751h25v3h-25zM783 751h4v3h-4zM807 751h11v3h-11zM828 751h10v3h-10zM938 751h14v3h-14zM666 748h34v3h-34zM783 748h4v3h-4zM811 748h3v3h-3zM831 748h7v3h-7zM939 748h10v3h-10zM662 745h42v3h-42zM783 745h4v3h-4zM946 745h3v3h-3zM658 742h49v3h-49zM804 742h7v3h-7zM655 739h55v3h-55zM804 739h7v3h-7zM655 736h62v3h-62zM794 736h17v3h-17zM651 733h63v3h-63zM790 733h4v3h-4zM804 733h14v3h-14zM654 730h53v3h-53zM804 730h14v3h-14zM640 728h4v2h-4zM654 728h49v2h-49zM780 728h38v2h-38zM822 728h3v2h-3zM654 725h21v3h-21zM682 725h18v3h-18zM780 725h28v3h-28zM822 725h7v3h-7zM658 722h10v3h-10zM682 722h18v3h-18zM780 722h28v3h-28zM822 722h3v3h-3zM829 722h3v3h-3zM658 719h7v3h-7zM686 719h10v3h-10zM752 719h10v3h-10zM780 719h31v3h-31zM822 719h10v3h-10zM905 719h7v3h-7zM661 716h4v3h-4zM689 716h4v3h-4zM748 716h67v3h-67zM877 716h7v3h-7zM905 716h7v3h-7zM748 713h73v3h-73zM874 713h6v3h-6zM901 713h7v3h-7zM912 713h3v3h-3zM745 710h42v3h-42zM794 710h41v3h-41zM873 710h4v3h-4zM901 710h17v3h-17zM742 707h17v3h-17zM780 707h20v3h-20zM807 707h14v3h-14zM825 707h7v3h-7zM873 707h7v3h-7zM901 707h17v3h-17zM638 704h17v3h-17zM742 704h3v3h-3zM759 704h24v3h-24zM787 704h31v3h-31zM821 704h14v3h-14zM873 704h7v3h-7zM901 704h6v3h-6zM631 701h21v3h-21zM742 701h69v3h-69zM814 701h24v3h-24zM869 701h14v3h-14zM625 698h17v3h-17zM666 698h14v3h-14zM742 698h27v3h-27zM773 698h31v3h-31zM807 698h34v3h-34zM865 698h21v3h-21zM910 698h10v3h-10zM553.9 695L557.3 695L556.6 698L553.2 698zM622 695h14v3h-14zM756 695h24v3h-24zM786 695h7v3h-7zM807 695h38v3h-38zM865 695h24v3h-24zM910 695h10v3h-10zM623 692h10v3h-10zM653 692h7v3h-7zM769 692h7v3h-7zM807 692h41v3h-41zM865 692h20v3h-20zM613 689h17v3h-17zM654 689h6v3h-6zM807 689h41v3h-41zM868 689h7v3h-7zM613.8 686L630.7 686L630.1 689L613.1 689zM752 686h4v3h-4zM803 686h41v3h-41zM895 686h6v3h-6zM611.2 683L631.4 683L630.7 686L610.4 686zM752 683h4v3h-4zM803 683h24v3h-24zM830 683h13v3h-13zM850 683h10v3h-10zM870 683h11v3h-11zM893.7 683L897.1 683L897.7 686L894.3 686zM913.9 683L917.2 683L918.0 686L914.6 686zM612.1 680L632.2 680L631.4 683L611.2 683zM803 680h17v3h-17zM833 680h7v3h-7zM852.9 680L882.9 680L883.6 683L853.3 683zM889.6 680L896.3 680L897.1 683L890.3 683zM913.0 680L923.1 680L924.0 683L913.9 683zM609.8 677L633.1 677L632.2 680L608.8 680zM766 677h3v3h-3zM809 677h10v3h-10zM855.6 677L892.2 677L893.0 680L856.2 680zM902.1 677L908.8 677L909.7 680L903.0 680zM915.4 677L922.1 677L923.1 680L916.4 680zM610.9 674L634.0 674L633.1 677L609.8 677zM647.2 674L663.7 674L663.0 677L646.4 677zM812 674h10v3h-10zM858.3 674L894.6 674L895.5 677L858.9 677zM901.2 674L911.1 674L912.1 677L902.1 677zM914.4 674L924.3 674L925.4 677L915.4 677zM937.5 674L947.4 674L948.6 677L938.7 677zM605.6 671L638.3 671L637.3 674L604.3 674zM648.2 671L667.8 671L667.0 674L647.2 674zM860.9 671L896.9 671L897.9 674L861.6 674zM900.2 671L910.0 671L911.1 674L901.2 674zM936.2 671L949.2 671L950.6 674L937.5 674zM607.0 668L639.4 668L638.3 671L605.6 671zM649.1 668L668.6 668L667.8 671L648.2 671zM837.4 668L843.9 668L844.5 671L838.0 671zM860.1 668L908.8 668L910.0 671L860.9 671zM921.8 668L928.3 668L929.6 671L923.1 671zM934.8 668L938.0 668L939.4 671L936.2 671zM941.3 668L951.0 668L952.5 671L942.7 671zM605.2 665L640.6 665L639.4 668L603.7 668zM643.8 665L669.5 665L668.6 668L642.7 668zM836.8 665L856.1 665L856.9 668L837.4 668zM862.5 665L907.5 665L908.8 668L863.4 668zM923.6 665L926.8 665L928.3 668L925.0 668zM930.0 665L933.2 665L934.8 668L931.5 668zM946.1 665L949.3 665L951.0 668L947.7 668zM616.4 662L673.7 662L672.7 665L614.8 665zM753 662h7v3h-7zM820 662h7v3h-7zM839.3 662L858.4 662L859.3 665L840.0 665zM899.8 662L906.1 662L907.5 665L901.1 665zM925.2 662L934.8 662L936.5 665L926.8 665zM944.4 662L947.5 662L949.3 665L946.1 665zM618.0 659L677.8 659L676.9 662L616.4 662zM753 659h7v3h-7zM819.6 659L825.9 659L826.5 662L820.2 662zM838.5 659L860.6 659L861.6 662L839.3 662zM898.4 659L904.7 659L906.1 662L899.8 662zM917.3 659L939.3 659L941.2 662L918.9 662zM942.5 659L945.6 659L947.5 662L944.4 662zM629.0 656L666.4 656L665.2 659L627.4 659zM672.6 656L678.8 656L677.8 659L671.5 659zM918.7 656L925.0 656L926.7 659L920.4 659zM937.4 656L940.5 656L942.5 659L939.3 659zM630.6 653L655.2 653L653.9 656L629.0 656zM689.1 653L704.5 653L703.8 656L688.2 656zM855.4 653L861.5 653L862.6 656L856.4 656zM917.0 653L938.5 653L940.5 656L918.7 656zM629.3 650L653.6 650L652.2 653L627.5 653zM677.9 650L690.1 650L689.1 653L676.8 653zM693.1 650L705.3 650L704.5 653L692.2 653zM760 650h6v3h-6zM851.3 650L866.5 650L867.7 653L852.3 653zM878.6 650L939.5 650L941.6 653L880.0 653zM634.1 647L646.1 647L644.5 650L632.3 650zM679.1 647L700.1 647L699.2 650L677.9 650zM799 647h6v3h-6zM862.2 647L865.2 647L866.5 650L863.4 650zM877.2 647L937.2 647L939.5 650L878.6 650zM677.4 644L692.2 644L691.1 647L676.1 647zM799 644h6v3h-6zM878.5 644L890.4 644L892.2 647L880.2 647zM896.3 644L934.7 644L937.2 647L898.2 647zM949.5 644L955.4 644L958.2 647L952.2 647zM678.8 641L690.5 641L689.3 644L677.4 644zM754 641h12v3h-12zM856.5 641L859.4 641L860.8 644L857.8 644zM882.7 641L888.5 641L890.4 644L884.5 644zM894.3 641L929.3 641L931.8 644L896.3 644zM949.7 641L955.5 641L958.4 644L952.5 644zM580.0 639L588.6 639L585.6 641L576.9 641zM648.7 639L654.5 639L652.6 641L646.8 641zM680.3 639L688.9 639L687.6 641L678.8 641zM758 639h8v2h-8zM883.7 639L889.4 639L891.4 641L885.6 641zM895.2 639L926.7 639L929.3 641L897.2 641zM946.7 639L955.3 639L958.4 641L949.7 641zM586.0 636L594.4 636L591.4 639L582.8 639zM625.4 636L633.9 636L631.6 639L623.0 639zM681.7 636L687.4 636L686.0 639L680.3 639zM761 636h2v3h-2zM842.3 636L847.9 636L849.3 639L843.6 639zM881.7 636L926.8 636L929.5 639L883.7 639zM943.7 636L952.2 636L955.3 639L946.7 639zM583.6 633L594.7 633L591.6 636L580.3 636zM625.2 633L636.2 633L633.9 636L622.6 636zM716.5 633L722.0 633L721.2 636L715.5 636zM879.7 633L940.6 633L943.7 636L881.7 636zM943.4 633L957.2 633L960.6 636L946.5 636zM587.0 630L606.0 630L603.0 633L583.6 633zM625.1 630L644.1 630L641.8 633L622.4 633zM652.2 630L663.1 630L661.1 633L650.1 633zM872.3 630L894.0 630L896.3 633L874.2 633zM902.1 630L959.2 630L962.8 633L904.6 633zM590.5 628L627.8 628L625.1 630L587.0 630zM630.5 628L646.4 628L644.1 630L627.8 630zM654.4 628L667.8 628L665.8 630L652.2 630zM864.9 628L894.2 628L896.7 630L866.8 630zM902.2 628L958.2 628L961.9 630L904.9 630zM581.0 625L633.2 625L630.5 628L577.2 628zM638.4 625L643.6 625L641.1 628L635.8 628zM654.1 625L669.8 625L667.8 628L651.8 628zM863.0 625L954.4 625L958.2 628L864.9 628zM584.8 623L595.1 623L591.4 625L581.0 625zM597.6 623L633.4 623L630.6 625L594.0 625zM656.4 623L679.5 623L677.6 625L654.1 625zM682.0 623L684.6 623L682.8 625L680.2 625zM692.2 623L694.8 623L693.3 625L690.6 625zM861.0 623L948.0 623L951.8 625L863.0 625zM588.8 620L591.3 620L587.4 623L584.8 623zM601.3 620L633.8 620L630.9 623L597.6 623zM646.4 620L658.9 620L656.4 623L643.7 623zM661.4 620L678.9 620L676.9 623L659.0 623zM681.4 620L696.4 620L694.8 623L679.5 623zM834.0 620L836.5 620L838.0 623L835.5 623zM861.5 620L939.1 620L942.9 623L863.6 623zM646.7 618L666.3 618L663.9 620L643.9 620zM678.5 618L695.6 618L693.9 620L676.4 620zM832.5 618L842.3 618L844.0 620L834.0 620zM866.7 618L925.4 618L929.1 620L869.0 620zM649.7 615L666.4 615L663.8 618L646.7 618zM678.3 615L697.4 615L695.6 618L676.0 618zM830.9 615L842.8 615L844.7 618L832.5 618zM871.4 615L892.9 615L896.0 618L874.0 618zM900.0 615L909.6 615L913.2 618L903.4 618zM898.8 613L903.4 613L907.2 615L902.4 615zM731.7 608L738.3 608L737.3 611L730.6 611zM686.4 606L707.5 606L705.6 608L683.8 608zM693.0 605L715.5 605L713.9 606L690.6 606z"/></g>
<path fill="none" stroke="#000" stroke-width="0.7" stroke-linejoin="round" d="M591.0 625.6L592.1 627.2L596.7 627.0L594.2 628.5L590.1 629.2L586.0 631.2L585.1 632.8L587.0 633.5L585.9 634.9L587.1 635.4L590.5 635.4L588.5 637.1L582.0 639.5L575.5 641.4L579.4 640.8L584.1 639.6L589.9 637.4L593.8 636.0L596.3 634.2L600.2 632.3L602.9 631.8L598.2 634.5L601.2 633.8L604.4 632.3L606.7 632.3L607.6 633.5L610.3 633.6L612.2 633.9L613.2 635.8L612.9 637.9L612.6 640.4L614.6 641.1L615.4 641.9L615.3 643.8L615.0 646.1L613.6 647.2L614.8 649.4L615.4 650.7L615.4 650.8L614.3 653.8L612.6 656.9L610.4 659.5L608.6 663.3L608.2 665.6L608.8 667.7L608.8 669.2L609.2 672.4L611.0 673.2L611.6 673.8L612.6 675.4L612.8 677.0L613.0 679.6L614.4 682.0L613.0 683.1L614.6 684.9L615.7 687.9L618.1 690.9L618.9 690.1L617.9 688.3L617.3 686.0L616.2 682.8L615.1 679.6L615.2 677.0L617.4 677.6L617.6 680.4L618.7 683.0L619.9 686.0L621.5 687.5L623.0 690.2L623.9 693.1L623.5 694.8L624.8 696.9L627.8 698.7L630.5 700.5L633.6 701.9L637.1 701.6L638.7 701.9L640.6 704.1L643.5 705.4L646.5 706.2L646.9 706.6L648.2 708.1L649.0 709.6L648.9 711.2L650.3 711.5L651.7 713.3L652.6 713.9L654.3 714.2L655.5 715.5L656.5 715.2L656.4 713.9L657.6 712.8L659.2 713.9L659.7 715.5L660.3 716.0L660.1 718.3L660.3 720.7L658.6 723.1L657.9 724.5L656.4 725.7L655.8 728.6L655.1 730.5L656.5 730.9L656.8 731.7L656.1 732.4L654.8 734.1L655.3 736.5L657.0 738.4L658.8 741.2L661.0 745.9L662.5 748.8L664.2 751.2L668.2 753.5L670.0 754.8L671.5 756.0L672.1 759.4L672.2 764.1L672.4 768.0L672.1 772.8L672.5 775.9L673.1 779.1L672.8 783.0L672.7 785.7L673.3 789.3L673.9 792.9L674.4 795.6L674.6 800.6L675.7 803.3L677.2 806.4L679.5 809.0L682.9 811.7L686.6 813.5L689.9 814.2L691.9 812.7L689.9 811.7L687.1 810.0L686.6 809.1L685.4 807.9L684.7 806.1L685.7 804.4L687.2 802.2L684.3 799.9L684.6 798.2L686.1 797.9L685.8 795.6L687.3 794.3L685.4 793.6L684.8 791.4L688.3 791.4L687.7 788.5L691.7 787.9L693.4 787.0L693.9 784.5L692.8 783.0L691.0 781.3L691.8 781.3L694.1 782.1L695.8 782.1L697.3 780.4L698.6 777.8L700.3 775.6L701.3 773.1L702.5 770.9L702.3 767.9L704.1 765.5L706.5 764.6L709.1 763.3L710.8 763.1L712.0 761.4L712.9 758.6L714.1 755.1L714.2 750.7L714.6 747.5L716.3 744.8L718.0 742.8L719.4 740.4L719.6 738.4L719.0 735.4L716.5 734.6L714.4 732.8L712.2 731.4L709.7 731.4L706.7 730.9L703.9 728.9L701.1 727.9L698.3 727.0L698.3 724.2L697.0 720.7L694.9 718.6L692.8 717.8L691.2 717.5L688.7 717.5L687.0 716.1L684.9 713.9L683.2 713.4L682.2 711.2L681.3 710.1L679.2 710.4L677.8 711.1L676.2 710.3L673.7 710.3L673.3 709.3L671.0 707.7L670.6 708.8L669.0 709.6L669.2 708.4L669.3 707.4L668.0 708.1L666.4 709.2L665.0 709.2L663.3 710.3L662.9 712.0L661.3 713.3L661.0 714.4L660.5 713.3L659.0 712.2L657.5 712.0L655.8 713.0L654.5 712.8L653.4 712.0L652.8 711.2L652.1 709.8L652.0 707.3L652.6 704.9L653.1 703.3L651.5 702.1L649.4 701.9L647.1 701.9L645.8 702.1L646.6 700.2L647.0 698.0L648.1 696.2L649.4 693.5L647.8 692.9L644.6 693.7L643.9 695.4L643.5 696.7L642.0 697.6L639.6 698.0L637.8 698.1L636.5 697.3L635.9 696.2L635.0 693.9L634.6 691.5L635.2 689.1L636.4 686.1L636.6 683.9L637.8 682.3L640.2 681.2L641.2 680.4L642.8 680.0L644.7 680.3L645.9 680.9L648.0 681.2L648.2 679.5L649.6 679.2L651.7 679.0L653.0 679.2L653.7 680.1L655.3 679.5L656.3 680.4L656.8 682.0L656.5 683.6L657.1 685.2L657.6 686.3L658.0 687.2L659.0 687.2L659.6 686.0L659.8 684.4L659.7 682.3L659.4 680.4L659.2 678.9L659.8 677.3L660.8 676.0L662.5 674.9L663.9 673.6L665.2 673.3L667.2 672.2L668.7 671.3L669.0 669.4L668.9 668.6L669.9 667.3L670.8 666.2L671.9 665.0L673.0 663.4L676.0 662.3L677.2 661.5L678.4 661.4L679.0 660.8L678.1 660.8L678.1 659.8L678.7 658.9L679.6 658.1L681.3 657.6L682.7 657.0L684.2 656.4L685.6 655.8L687.3 655.2L684.9 657.3L685.1 658.3L687.0 657.3L688.5 656.7L691.2 655.8L693.4 654.8L693.5 653.1L691.9 654.5L690.2 655.0L688.8 654.4L688.0 653.3L688.1 651.9L687.3 651.4L689.0 651.0L689.6 650.1L687.7 649.6L685.0 650.4L683.5 651.0L684.5 649.9L686.7 649.0L687.8 648.1L690.7 647.9L693.3 648.1L695.5 647.9L697.3 646.9L699.8 646.1L701.7 645.0L702.1 643.4L700.8 642.0L699.3 640.8L698.0 639.6L697.4 637.6L697.2 636.1L696.6 634.2L696.3 632.9L694.9 634.2L693.1 635.2L691.2 635.7L689.7 635.2L690.6 633.5L690.8 632.0L689.4 631.6L688.8 630.6L686.9 630.2L684.3 629.9L682.8 630.2L682.4 631.8L681.6 633.5L680.9 634.9L679.6 635.2L680.3 637.1L679.8 638.9L678.1 640.1L675.2 641.3L674.9 643.1L674.1 645.3L672.9 646.4L671.4 646.4L671.0 644.9L670.6 643.8L672.3 640.8L671.0 640.4L668.9 640.1L667.2 639.0L666.1 637.9L664.1 637.4L661.9 637.9L663.1 636.4L661.8 635.2L662.4 633.5L664.0 632.0L666.8 630.3L669.8 629.2L670.9 628.1L673.3 627.8L675.5 626.8L676.2 625.8L677.9 625.0L679.3 624.5L680.8 624.6L683.5 623.6L685.1 621.6L685.5 620.0L683.1 619.9L681.3 620.9L680.6 622.3L678.3 623.0L677.8 622.3L676.5 621.2L676.8 620.3L675.8 619.6L677.5 617.7L675.6 617.0L672.8 618.7L670.7 620.3L671.6 621.6L671.1 623.0L669.3 622.6L667.3 622.6L667.6 621.6L664.2 622.6L661.4 622.3L659.9 621.6L656.6 623.0L657.6 621.9L655.2 622.3L651.9 622.6L649.9 622.4L650.7 621.6L649.4 620.9L647.0 620.3L644.5 619.9L643.2 619.6L642.0 620.3L639.7 619.6L637.7 619.6L634.9 620.3L632.9 620.3L630.1 620.9L628.1 620.2L626.2 620.0L623.9 619.5L620.4 619.1L617.1 618.6L613.6 617.9L610.2 618.6L606.1 619.4L602.6 620.7L599.3 621.2L599.1 622.8L599.0 623.6L599.6 624.3L597.0 624.3L594.2 624.9zM718.9 633.8L717.1 632.5L714.6 631.8L713.7 629.9L712.9 627.8L712.7 625.7L712.3 623.6L713.4 621.6L716.4 620.7L713.4 619.6L714.0 618.3L714.1 616.4L713.7 614.5L713.5 612.6L710.8 611.8L707.0 612.0L704.7 611.4L703.7 610.5L702.8 609.4L706.5 608.3L710.3 608.0L712.2 606.9L717.3 605.9L722.1 605.2L728.1 604.9L735.2 604.2L741.1 603.9L745.9 604.2L749.7 604.9L752.8 605.9L757.9 605.9L756.0 606.9L753.3 607.4L751.6 609.1L750.7 610.8L749.8 612.6L748.6 613.9L746.9 615.1L746.5 617.0L745.6 619.0L743.1 619.0L743.8 620.3L741.5 621.5L737.3 622.2L733.9 623.4L731.4 624.7L728.0 625.6L725.6 626.4L723.9 628.5L721.6 630.6L720.3 632.8zM704.2 624.2L700.6 626.7L698.0 629.2L696.5 630.6L693.9 630.3L691.1 629.5L690.7 628.2L689.2 627.1L684.8 627.4L685.4 626.4L689.9 626.0L691.4 624.3L693.2 623.0L693.4 621.9L691.7 621.3L690.4 620.3L688.8 619.6L687.1 619.9L683.8 619.6L681.1 619.2L679.9 618.3L680.6 616.4L682.4 614.9L685.9 614.7L685.4 616.4L684.4 617.7L689.6 614.9L691.0 614.9L692.6 615.9L693.4 616.1L695.0 617.3L697.2 618.3L699.1 619.2L699.6 620.9L700.3 622.3L702.4 623.2zM698.2 611.5L694.2 611.8L689.9 611.5L686.3 611.4L688.9 609.9L691.2 609.4L690.5 608.5L693.9 607.1L690.7 606.2L694.3 605.4L702.1 604.4L710.4 604.3L716.5 604.9L713.9 605.9L709.8 606.7L705.3 607.7L701.0 608.5L700.8 609.6L697.3 610.5L697.6 611.2zM690.3 609.4L687.8 609.3L684.7 608.2L685.5 606.9L689.9 606.2L692.1 607.1L689.0 608.3zM692.6 613.6L687.6 613.9L682.2 613.6L681.8 612.6L678.5 612.6L680.3 611.1L683.7 611.3L685.2 612.5L690.1 612.3L693.6 612.5zM665.6 620.9L661.4 621.1L656.0 621.5L652.4 621.5L650.4 620.9L650.8 619.6L656.2 619.2L651.2 618.3L651.1 617.5L654.3 616.0L658.4 615.4L662.4 616.1L666.1 615.4L666.0 616.4L664.5 618.3L666.5 619.4zM646.5 618.1L645.3 617.0L648.6 615.1L653.6 613.9L656.3 615.1L652.4 616.4L648.9 617.7zM668.5 613.2L661.9 614.0L658.5 613.0L661.2 611.7L667.1 611.4L670.0 612.0zM672.6 617.7L669.4 617.9L668.9 616.4L672.0 614.7L675.3 614.9zM680.4 616.0L674.9 616.8L677.1 614.5L681.3 614.5zM676.0 613.2L671.7 612.9L673.5 611.4L678.2 611.3zM681.4 628.5L676.9 629.6L674.6 628.2L677.6 625.4L679.7 626.1L682.0 627.5zM670.7 621.5L666.9 621.2L669.2 619.8L671.3 620.2zM695.1 652.1L698.8 653.1L702.2 653.6L703.1 652.2L702.2 650.7L702.9 649.4L700.5 648.4L701.6 645.9L699.4 647.3L697.2 649.4L695.4 651.0zM652.1 692.4L654.9 690.9L658.4 690.5L661.6 691.8L664.5 694.2L666.4 695.1L661.8 695.7L661.3 694.3L659.0 692.9L656.1 691.8L653.6 692.1zM665.7 698.0L668.4 698.3L669.7 699.1L671.9 698.1L674.0 698.1L673.4 696.5L670.7 695.6L668.0 695.6L668.1 697.0L666.0 697.5zM660.3 698.1L662.2 698.9L663.3 698.6L662.3 697.8zM675.7 698.6L677.7 698.6L677.8 697.8L675.7 697.8zM661.3 688.6L662.4 689.1L662.5 687.2L661.8 687.2zM663.1 685.6L663.8 685.5L664.0 684.5L661.9 684.7zM682.1 711.1L683.3 711.1L683.4 710.0L682.3 710.1zM743.9 627.9L746.5 628.5L748.6 628.6L752.0 627.4L753.6 626.4L752.5 624.7L750.8 624.3L748.6 624.9L746.5 625.0L744.5 624.5L742.7 625.7L744.7 626.4L742.5 626.7L744.5 627.4zM761.1 648.4L763.8 647.9L766.2 647.3L768.6 647.2L769.7 646.4L770.0 644.3L768.4 643.8L768.0 642.8L766.6 641.4L766.1 640.1L764.5 639.3L765.7 637.9L765.7 636.8L763.5 636.8L764.4 635.5L762.4 635.5L761.2 637.1L761.7 638.6L760.8 639.6L762.2 640.8L762.3 641.3L763.9 641.0L764.5 642.3L764.2 643.4L762.7 643.5L763.0 644.9L761.8 645.6L763.8 646.1L764.4 646.6L762.6 646.9L761.7 647.9zM756.0 645.9L757.8 645.9L760.5 645.0L760.9 643.4L761.5 641.6L760.4 640.5L758.5 640.5L757.9 641.7L756.3 642.0L756.4 643.4L756.7 644.4L755.7 645.3zM777.6 607.8L779.6 609.4L780.7 610.5L783.3 611.3L784.7 610.2L787.2 609.4L785.6 608.5L789.0 608.2L791.4 607.4L786.9 607.0L782.7 607.4L780.2 607.6zM818.6 617.5L822.7 618.7L825.1 618.7L822.4 616.4L823.2 614.5L825.0 612.9L828.7 611.7L831.0 611.1L829.0 610.8L825.1 611.7L821.4 613.0L820.4 615.4L819.1 616.6zM851.6 608.4L857.6 609.6L861.6 609.3L858.9 608.0L854.2 607.1L849.8 606.4L848.6 607.4zM896.0 612.9L901.7 613.5L905.1 613.2L908.4 613.0L904.4 611.8L899.3 612.0L895.6 612.0zM902.4 615.2L906.1 615.5L903.9 614.6zM944.7 618.3L946.4 618.4L945.1 617.7L943.9 617.5zM589.6 618.4L592.5 618.2L593.1 617.5L590.9 617.7zM809.4 607.2L815.7 607.4L821.3 606.9L818.9 606.1L813.6 605.9L809.0 606.6zM817.1 621.2L818.6 621.2L818.2 620.3L816.7 620.3zM944.5 654.7L945.4 653.3L944.0 652.2L942.5 649.9L944.1 649.9L940.8 647.6L938.5 644.6L935.2 641.9L935.7 643.4L937.8 646.1L940.1 648.4L942.2 651.4L943.4 653.3zM946.8 661.5L947.7 661.1L950.1 660.8L951.7 658.7L949.7 657.6L944.9 655.3L945.6 656.9L946.4 658.7L945.2 658.9L945.5 660.3zM940.8 673.3L941.1 672.2L942.5 671.0L945.7 670.8L946.5 668.9L946.6 667.8L948.3 668.1L948.6 666.2L947.9 663.9L947.2 662.0L948.5 661.7L950.4 663.9L951.4 665.5L951.0 667.0L952.0 668.9L952.6 670.6L952.0 671.8L951.4 671.3L950.7 672.2L948.6 672.4L948.3 672.9L947.6 674.1L946.1 672.9L943.9 672.7L942.5 673.2L941.0 673.5zM942.7 673.5L943.7 675.1L944.6 674.3L945.6 674.4L945.8 673.5L944.1 673.0zM940.2 673.8L941.0 673.6L942.7 675.1L943.0 677.4L941.6 677.7L940.9 676.0L939.7 674.9zM931.8 690.7L932.9 692.3L933.4 689.9L933.4 687.5L932.4 687.2L931.7 688.6zM917.1 696.7L918.4 698.3L919.7 697.3L920.1 695.9L919.0 695.3L917.6 695.6zM933.8 701.7L933.5 698.3L934.8 697.6L936.0 698.1L936.4 700.5L935.6 702.5L936.6 704.7L938.5 705.1L939.7 706.5L939.7 707.1L938.1 705.8L936.4 705.2L934.7 704.9L934.6 703.8L933.7 703.3zM937.3 710.4L937.1 708.4L938.8 708.8L940.3 708.8L941.4 707.3L942.3 709.3L941.8 710.9L940.1 710.9L939.5 712.3L938.8 712.3L938.7 710.9zM937.7 716.0L939.0 715.2L940.7 715.5L940.6 717.2L942.4 718.0L943.3 717.1L943.9 715.5L943.5 713.6L942.2 711.7L941.3 713.3L939.9 713.9L938.9 713.4L937.9 714.7zM930.9 713.7L931.9 713.1L933.8 710.4L933.7 709.2L932.6 710.9zM920.0 724.3L920.8 723.8L922.8 724.6L923.3 723.1L925.5 721.9L926.8 719.7L928.8 718.3L930.5 716.0L931.8 717.1L934.0 718.8L932.4 720.2L932.0 722.3L932.5 723.5L933.9 725.4L932.3 725.9L931.8 728.3L930.4 729.4L930.1 731.7L929.6 733.3L927.8 733.5L926.2 732.2L923.8 732.5L921.6 731.6L921.4 729.4L920.3 728.1L920.0 726.5zM900.7 718.2L903.8 718.8L905.5 721.0L908.1 723.5L909.9 724.3L911.9 726.2L912.7 728.6L913.7 729.8L915.7 731.7L915.3 736.2L913.6 736.2L912.1 734.7L910.5 733.3L908.8 730.9L907.9 728.6L906.2 726.5L905.3 724.3L903.5 721.9L901.7 720.4L900.7 718.8zM914.3 737.7L915.5 736.3L916.9 736.3L919.0 737.4L922.0 737.1L924.6 737.9L927.2 739.2L927.0 740.7L924.3 740.3L920.9 739.8L918.2 739.3L916.0 738.7zM927.2 739.8L930.2 739.9L932.0 739.9L933.7 740.3L933.3 740.9L930.5 741.4L928.7 740.9L927.2 740.6zM934.5 740.3L936.2 740.1L939.0 739.9L938.6 740.7L936.1 741.0L934.6 740.9zM933.3 741.8L935.7 742.6L934.8 743.3L933.2 742.5zM939.4 743.3L940.6 741.7L942.8 740.6L944.9 740.3L943.7 741.4L941.5 742.3L940.1 743.3zM934.4 735.7L934.5 732.5L933.6 731.3L935.1 727.0L935.6 725.1L937.4 725.3L940.2 725.6L942.6 724.5L941.6 726.4L938.8 726.2L936.0 726.2L935.6 728.3L937.0 728.6L939.9 728.3L938.4 729.8L937.4 730.2L938.7 732.4L939.3 734.1L938.5 735.7L937.5 734.4L936.6 732.2L935.7 731.7L935.6 735.8zM945.8 727.0L946.2 723.8L947.4 724.6L947.5 726.5L946.5 728.3zM946.4 732.1L950.3 731.7L950.2 733.0L946.3 732.7zM943.6 732.1L945.3 732.1L945.2 733.0L943.5 733.0zM950.7 728.3L952.8 727.6L954.8 728.3L955.1 730.9L956.1 732.2L958.3 730.5L960.4 729.5L962.5 730.5L964.5 731.1L967.3 732.4L969.3 733.0L971.0 734.9L972.6 736.5L973.6 737.6L972.8 738.0L973.7 739.6L975.6 742.0L977.3 743.3L975.4 743.4L972.7 742.8L970.9 740.4L968.9 739.2L967.4 740.3L966.3 741.5L963.9 741.4L961.9 739.8L959.8 740.1L961.1 738.0L960.1 735.7L957.4 734.3L954.7 733.2L953.3 733.5L953.1 732.1L952.0 731.4L954.1 730.6L952.4 730.5L950.6 729.2zM974.4 735.8L976.8 735.7L979.0 733.6L980.1 733.8L979.3 735.8L976.7 736.9L974.7 736.5zM978.2 731.1L980.5 733.0L981.1 734.4L980.6 733.8L978.4 731.7zM983.7 736.5L985.0 737.7L984.3 737.9L983.3 736.5zM989.5 741.7L991.2 742.5L990.5 742.6L989.5 742.2zM878.9 714.4L879.3 711.7L880.8 713.6L881.9 715.5L881.1 717.1L879.6 717.5L879.0 716.0zM836.3 745.9L837.4 750.7L836.5 753.8L835.2 757.0L833.5 761.7L832.1 766.3L829.7 767.3L827.7 766.1L827.3 763.3L827.6 760.9L829.0 758.3L828.5 754.6L830.0 752.3L832.9 751.2L834.4 748.3zM953.2 791.4L955.2 791.8L957.7 791.5L956.2 793.6L954.2 795.3L952.1 795.6L952.2 794.0zM995.6 781.3L996.5 782.7L997.1 784.9L996.8 786.3L999.4 786.3L999.6 787.0L996.9 789.0L995.2 790.1L991.4 792.6L991.1 792.2L992.9 790.4L992.4 789.3L994.3 787.8L995.5 785.7L995.4 782.7zM989.4 790.9L990.5 792.0L989.2 793.2L985.9 795.6L983.0 796.8L980.4 799.2L977.8 800.4L976.0 800.2L974.8 799.5L977.6 797.6L980.7 796.1L985.3 793.7L987.9 791.7zM992.6 758.7L994.4 759.8L995.8 762.0L995.1 762.4L993.4 760.9L992.4 759.4zM1011.8 754.6L1013.6 754.6L1013.4 755.7L1011.6 755.7zM1014.3 752.9L1016.0 752.7L1015.8 753.5L1014.1 753.7zM998.0 750.7L998.8 750.7L998.7 753.0L998.0 753.0zM554.0 697.0L555.5 696.2L555.4 695.1L554.3 695.6zM552.9 693.9L554.6 694.5L554.3 693.9L553.4 693.5zM551.8 693.4L552.5 693.4L552.4 692.7zM550.0 692.3L550.6 692.3L550.4 692.0zM640.4 728.6L641.1 727.3L641.4 728.6zM784.2 667.0L788.1 666.7L787.8 668.9L786.2 668.6L784.5 667.8zM778.7 665.5L778.6 662.6L779.9 662.0L780.5 663.9L780.3 665.3L779.4 665.6zM779.1 661.5L779.0 660.0L779.9 659.2L780.1 661.2zM799.0 671.3L800.1 671.0L802.4 671.4L800.9 671.8L799.0 671.4zM810.5 672.1L811.4 672.4L812.7 671.8L813.2 670.8L812.0 671.3L811.1 671.4zM771.1 664.8L772.3 664.8L772.2 664.0L771.2 664.2zM695.0 807.9L697.3 807.6L698.9 808.1L697.8 809.1L695.2 808.7zM723.4 811.7L725.8 812.1L726.0 812.9L723.5 812.1zM851.8 804.1L853.9 804.2L853.3 805.2L851.7 805.0zM591.2 637.9L594.6 637.1L595.5 636.0L593.3 636.4zM568.9 643.5L571.9 642.9L572.5 642.3L570.1 642.9zM559.9 645.3L562.7 644.9L562.5 644.6zM555.2 645.8L557.2 645.6L556.9 645.3zM583.1 628.8L585.2 629.2L586.2 628.5L583.9 628.2zM581.7 633.8L583.2 633.6L583.8 632.9L582.6 633.1zM611.9 642.3L611.4 644.6L611.8 645.3L612.6 643.1L613.4 642.3zM689.9 648.5L692.5 649.8L692.9 649.3L691.1 648.5zM688.6 653.3L690.7 654.5L691.2 653.8L689.4 653.6zM960.2 640.4L962.0 641.1L961.9 640.8zM951.0 656.9L952.6 655.6L951.9 655.5L950.7 656.4zM954.1 654.2L955.3 652.5L954.8 652.7L953.8 653.8zM955.6 648.4L956.0 647.2L955.4 647.5zM822.5 737.3L823.1 736.5L822.8 736.0zM841.8 707.3L843.5 707.1L843.1 707.6L841.8 707.6zM843.4 760.6L844.3 760.1L844.2 760.8zM846.4 759.4L847.2 758.7L847.1 759.4zM827.9 745.6L828.3 745.0L828.3 745.8zM745.2 682.6L746.3 682.0L745.9 682.8zM748.7 682.6L749.9 680.9L749.3 682.5zM735.1 703.3L735.7 702.8L735.7 703.5zM734.5 667.3L735.3 667.3L734.9 667.5zM745.2 675.2L745.9 675.2L745.6 675.5zM760.1 630.6L760.9 630.2L760.6 630.9zM766.3 633.5L766.9 632.6L766.6 632.8zM759.3 618.4L760.1 618.2L759.9 618.4zM788.8 637.9L789.6 636.5L789.5 637.4zM896.5 708.5L896.6 705.8L896.2 707.3zM777.1 726.8L777.3 726.4L777.3 726.8zM779.8 721.8L780.4 721.2L780.1 721.8zM760.3 670.5L761.1 670.3L764.1 671.3L766.0 671.4L768.0 670.3L771.9 668.9L777.1 668.6L780.8 668.1L782.3 668.6L781.7 670.2L782.2 672.5L781.3 673.3L782.8 674.6L785.5 675.1L788.3 676.0L788.6 677.3L791.4 678.2L793.7 679.2L794.7 678.1L794.6 676.2L796.5 675.1L798.8 675.7L801.3 677.0L804.0 677.7L806.7 678.2L808.0 677.6L809.3 677.3L811.1 677.7L811.6 679.6L812.1 681.5L813.6 683.9L815.5 687.5L816.6 689.9L818.4 692.3L818.9 694.6L819.1 696.2L820.9 698.6L822.2 702.2L824.7 704.6L826.8 706.5L828.0 707.3L827.9 708.8L829.7 710.4L833.2 709.3L835.9 709.0L838.9 708.2L838.8 710.6L838.2 712.8L836.9 716.0L835.5 719.1L833.5 722.3L831.3 723.8L828.7 726.5L826.6 728.6L825.2 730.2L823.7 732.5L823.2 734.1L822.3 736.5L822.9 738.0L822.9 741.2L824.1 743.6L824.2 746.7L824.1 749.9L823.9 751.5L822.4 753.0L819.6 754.8L818.5 756.2L816.0 758.3L815.9 760.1L816.4 762.0L816.3 764.6L815.2 766.0L812.7 767.3L812.3 768.0L812.4 770.4L811.4 772.5L809.5 774.4L808.0 776.4L805.8 778.6L803.7 780.2L801.9 780.7L799.0 780.8L797.0 781.0L794.3 781.9L792.4 781.1L792.2 779.1L792.2 777.5L791.4 775.1L790.2 772.3L788.5 769.1L787.7 764.9L787.8 762.8L786.2 759.4L784.5 755.4L784.3 753.0L785.0 750.7L786.7 746.7L787.1 744.4L786.3 741.2L785.4 737.3L785.0 736.5L784.4 734.6L783.3 733.0L781.5 730.6L780.3 728.3L781.2 726.5L781.2 725.1L781.7 723.1L781.5 721.0L780.3 719.9L777.8 720.1L776.4 720.2L775.0 718.3L774.0 717.1L772.7 716.9L769.7 717.4L767.7 718.3L765.2 719.4L763.5 718.9L762.4 718.8L759.6 719.4L757.6 720.1L755.5 718.8L753.0 717.1L752.0 716.1L750.6 715.2L749.7 713.6L749.0 712.0L747.6 710.1L746.9 709.3L745.8 708.4L744.9 707.4L744.8 706.0L744.5 704.6L743.8 703.8L745.3 701.7L745.6 699.4L746.0 698.4L745.8 696.5L745.4 694.6L744.8 693.9L744.8 692.3L746.2 689.6L747.6 687.5L748.4 685.8L750.2 683.3L750.6 682.8L753.1 681.5L754.6 680.4L755.0 678.9L754.9 677.3L755.8 675.7L758.0 674.0L759.0 673.3L759.9 671.4zM760.7 670.2L759.8 669.4L758.4 668.3L756.4 668.6L756.6 666.4L755.7 665.9L756.6 663.6L756.9 662.0L756.7 660.4L756.2 659.2L757.9 658.1L760.7 658.3L763.2 658.4L765.7 658.6L766.5 656.9L766.6 655.2L766.5 654.2L765.3 652.7L763.7 651.9L762.1 651.4L762.3 650.7L764.3 650.2L766.0 650.4L765.8 648.8L766.7 649.3L768.1 649.1L769.8 648.2L769.9 647.0L771.8 646.2L772.8 645.3L773.6 643.8L774.5 643.2L776.3 643.1L778.0 642.8L778.2 641.7L777.6 640.1L777.3 638.6L777.4 637.7L779.0 637.4L780.1 636.8L780.0 638.6L780.5 638.8L779.6 640.1L779.4 641.0L780.7 642.0L782.1 642.0L783.8 641.7L784.8 642.3L786.7 641.9L789.6 641.1L790.8 641.7L791.3 641.0L792.3 640.1L792.1 638.2L792.5 637.1L793.7 636.8L795.5 637.9L795.6 636.0L794.4 634.6L795.6 634.2L799.3 634.1L801.7 633.6L799.6 632.6L796.8 632.9L795.7 633.3L793.7 633.8L791.8 632.8L791.4 631.3L791.3 629.2L794.0 626.7L794.9 626.4L793.4 625.3L791.2 625.6L790.7 627.1L789.8 628.2L787.6 629.9L787.0 631.3L787.0 632.5L788.8 633.5L788.4 634.5L786.9 635.7L786.8 637.1L786.6 638.6L784.7 639.3L784.5 640.2L783.1 640.2L782.6 639.0L781.7 637.1L780.6 635.2L780.0 634.5L779.8 633.6L778.7 635.1L777.1 636.2L775.9 636.4L774.3 635.2L773.7 633.5L773.5 631.3L774.0 630.3L775.6 629.5L777.1 628.5L779.2 628.5L779.7 627.1L781.1 625.3L781.5 623.6L783.0 623.0L783.8 621.9L782.3 621.9L784.2 620.9L786.6 620.0L789.0 619.4L791.3 618.6L793.5 618.2L795.7 618.3L798.9 619.1L798.2 620.0L801.3 620.4L804.4 620.7L809.6 622.6L810.8 623.9L809.8 624.7L807.8 625.0L804.4 624.2L802.3 623.9L804.2 625.3L805.3 627.2L807.6 627.8L808.5 627.1L811.1 627.0L810.2 625.7L812.4 624.5L814.2 624.6L813.4 623.0L812.9 621.6L815.2 622.3L816.2 623.6L818.2 622.3L822.0 621.6L824.1 621.6L826.9 621.2L829.2 620.7L828.1 619.6L832.7 620.5L836.1 621.2L837.0 620.3L834.7 619.0L833.5 617.0L834.6 615.7L837.0 615.7L839.6 617.7L841.1 620.3L841.8 622.3L844.3 623.0L842.5 620.9L840.8 617.0L841.1 616.0L844.0 616.6L846.2 616.4L848.4 617.3L850.7 619.0L845.7 615.1L850.1 614.7L849.7 613.2L853.3 612.3L857.7 612.0L859.8 611.4L861.9 610.0L865.4 610.8L869.5 611.2L873.3 612.3L874.8 613.9L872.7 614.5L875.6 614.9L882.9 615.7L886.4 615.5L889.9 615.2L893.8 616.4L896.2 618.3L898.9 617.7L902.8 617.7L904.4 616.6L904.5 616.0L910.2 616.6L915.6 617.7L918.7 618.4L923.4 618.3L927.4 619.0L930.3 620.3L934.3 620.3L938.5 619.8L941.4 620.9L945.0 620.0L950.7 621.1L958.3 626.1L957.9 627.0L956.6 626.8L957.1 627.5L960.4 628.8L963.2 630.2L960.6 630.9L958.8 632.0L957.9 633.5L953.6 633.2L951.4 633.6L950.7 634.2L952.4 635.7L952.1 636.7L955.1 638.3L954.7 639.0L956.4 640.8L955.8 642.3L955.6 643.8L956.4 645.3L956.3 646.9L953.3 644.6L949.9 641.6L947.0 638.6L946.4 636.7L946.7 634.9L947.0 632.8L947.1 631.0L946.2 629.9L945.8 631.3L943.1 630.9L944.8 632.3L940.2 631.2L940.6 633.5L938.9 634.9L936.9 634.2L933.7 634.4L930.4 634.4L927.7 634.5L926.8 636.4L926.2 638.2L927.3 640.5L925.9 641.3L929.4 642.3L930.9 642.6L932.5 642.5L935.0 643.5L936.2 645.3L937.4 647.6L939.2 649.9L939.1 652.2L939.1 654.1L938.3 656.5L937.4 659.2L934.8 659.0L933.9 660.0L933.5 661.5L933.9 662.6L932.5 663.9L932.3 664.7L932.7 665.5L934.5 666.6L936.7 668.6L937.5 670.5L937.5 671.6L935.8 672.2L934.5 672.5L933.7 670.5L933.0 668.6L931.6 667.3L930.2 667.0L929.6 665.0L927.9 663.9L925.8 664.7L924.7 665.6L924.1 663.1L922.8 662.5L921.7 664.2L920.2 665.1L920.4 666.2L922.6 667.8L923.6 668.3L924.9 667.3L927.5 668.1L926.1 669.4L925.5 670.2L924.8 671.8L927.3 674.1L930.1 676.8L930.6 678.4L929.2 679.2L931.4 680.0L931.5 682.3L930.6 683.9L930.0 686.0L928.9 688.0L927.2 689.9L925.4 691.0L923.8 691.8L922.2 692.3L920.3 693.1L918.7 693.4L918.6 695.0L917.9 693.1L916.2 692.7L914.9 693.4L914.0 694.3L913.0 697.0L914.5 699.4L916.4 701.0L917.3 701.7L918.9 704.1L919.3 707.3L919.1 708.8L917.5 710.0L916.2 710.7L915.9 712.0L913.9 713.4L913.6 711.5L913.0 710.6L911.6 710.3L910.0 708.1L907.8 707.0L907.6 705.8L906.3 706.0L906.5 708.1L905.8 710.4L906.2 712.5L907.3 713.7L907.9 715.6L909.6 716.7L910.7 717.5L912.0 719.4L912.2 722.3L913.3 724.8L912.3 724.9L910.5 723.5L909.2 722.3L908.1 720.4L907.6 718.3L907.3 716.7L906.7 716.0L905.3 714.4L904.6 712.8L904.8 710.4L904.6 708.1L903.8 705.2L902.8 702.5L902.4 701.0L901.2 700.2L900.2 701.0L899.4 702.1L898.0 701.7L898.0 699.4L897.4 697.3L896.1 695.7L895.0 694.6L893.7 693.1L893.2 691.8L891.4 691.5L889.5 692.6L888.2 692.7L886.9 693.4L886.8 694.6L885.8 695.7L884.6 696.5L882.8 698.9L881.4 700.8L879.9 701.7L878.8 702.5L878.7 704.9L879.1 706.3L878.7 708.4L878.7 710.7L878.0 712.3L876.6 713.0L875.7 714.2L874.3 712.8L873.8 711.2L872.7 708.8L871.5 706.5L870.2 703.6L869.8 702.5L868.9 700.2L868.0 697.0L867.5 694.6L867.2 693.5L866.9 692.0L866.5 693.5L865.1 694.2L864.0 693.9L862.1 692.0L863.4 691.3L863.8 690.7L861.7 690.4L860.8 689.4L859.2 688.0L858.1 686.9L855.5 687.1L852.1 687.2L851.4 687.4L848.7 686.9L845.9 686.6L845.0 684.7L844.0 684.2L842.1 685.0L840.3 684.7L838.8 683.6L837.4 683.0L836.2 681.4L835.2 679.6L833.5 679.0L832.9 679.6L832.4 680.4L833.2 682.0L834.1 683.6L835.6 684.9L836.0 686.4L837.0 687.9L837.0 686.7L837.4 685.8L838.0 687.1L838.0 688.3L838.7 689.0L840.7 689.0L842.0 688.5L843.0 687.1L843.9 685.8L844.3 685.5L844.5 687.5L845.2 688.6L847.6 689.7L849.5 691.5L848.4 694.3L847.2 695.4L847.2 697.0L845.6 698.6L843.9 699.4L842.3 700.2L840.0 701.7L837.0 703.3L835.3 704.9L832.3 705.8L830.3 706.8L828.2 707.0L827.8 705.7L827.1 703.3L826.8 701.1L825.3 698.9L823.9 696.2L822.2 694.2L821.4 693.1L820.4 689.9L818.9 688.3L817.8 686.0L815.9 683.6L814.8 682.5L814.9 680.4L814.3 682.8L814.1 683.1L813.0 682.0L811.8 680.1L811.6 679.6L811.1 677.7L812.7 677.9L813.7 677.4L814.2 676.0L814.4 674.9L815.0 673.3L815.1 671.0L815.3 669.2L814.4 669.2L813.0 668.9L811.8 669.9L810.1 670.0L808.1 668.9L806.2 669.7L804.5 669.1L803.6 668.6L803.0 666.4L801.9 665.0L801.7 663.9L801.6 663.4L801.3 662.6L799.3 662.5L798.6 663.6L797.5 663.1L797.2 664.7L798.0 665.5L797.8 666.2L799.1 667.0L799.2 667.5L798.1 667.2L798.2 668.1L798.0 669.4L797.3 669.4L796.3 668.9L795.7 667.5L795.9 666.6L794.9 665.8L794.0 664.5L792.9 663.1L792.9 661.5L791.9 660.3L790.1 659.2L788.2 658.3L786.8 657.0L786.1 655.8L785.1 656.1L784.9 655.2L783.5 655.5L783.4 657.2L785.0 658.3L786.0 660.0L788.4 660.9L789.6 662.2L791.6 663.6L791.7 664.2L789.8 663.1L789.4 664.4L790.1 665.5L789.4 666.4L788.8 667.0L788.4 667.0L788.7 665.5L788.2 663.9L787.0 662.9L786.2 662.6L784.6 661.8L783.5 661.1L781.9 660.0L781.3 659.2L780.8 657.8L779.9 657.2L779.2 657.0L778.1 657.8L777.2 658.1L775.6 659.0L774.3 658.6L773.0 658.4L771.9 659.2L772.1 660.3L772.1 660.9L770.8 661.7L769.0 662.6L768.0 664.2L767.6 664.8L768.3 665.8L767.2 667.0L767.1 667.7L765.4 668.9L764.9 668.9L762.3 669.1L761.1 670.0zM805.2 662.0L808.0 662.0L810.3 660.8L812.5 660.8L814.6 661.8L816.6 662.3L818.8 662.3L820.9 661.5L820.9 660.3L819.8 659.2L818.1 658.4L815.7 657.0L814.6 656.1L813.7 655.6L814.7 655.3L815.5 654.4L815.5 653.0L816.5 652.7L814.4 652.8L811.7 653.9L811.6 655.0L813.4 655.5L812.2 656.1L810.6 657.0L809.8 656.7L808.5 655.5L809.7 654.4L807.7 654.1L807.0 653.6L806.1 653.8L805.0 655.6L804.0 657.3L804.0 658.6L803.2 658.9L803.1 660.0L803.8 660.9zM832.4 667.8L834.5 668.9L837.8 668.8L838.1 667.0L837.4 665.0L836.1 663.9L835.5 662.3L836.5 662.6L837.3 662.0L836.0 660.4L834.9 661.2L834.5 659.5L832.8 658.9L831.1 657.2L832.1 656.7L831.9 655.6L834.1 655.6L833.8 653.4L831.6 653.0L829.3 653.8L827.6 654.5L826.6 656.7L827.9 658.4L828.4 659.7L829.7 661.1L831.4 662.9L832.5 663.4L831.6 665.0L831.4 666.6zM585.3 621.1L587.1 621.9L587.6 623.6L590.3 623.9L590.3 624.9L584.8 627.1L583.4 627.4L581.7 626.7L582.5 625.7L579.9 625.7L581.0 624.6L577.7 626.1zM965.7 743.9L966.7 746.7L966.7 749.6L968.6 750.7L968.7 753.7L968.6 756.7L969.6 757.5L971.3 758.9L971.9 760.5L973.5 762.5L973.4 764.1L974.5 765.7L975.6 767.3L974.5 770.3L974.4 772.3L972.5 775.1L970.6 777.8L967.8 780.4L965.9 782.6L963.9 784.6L963.0 786.2L960.1 786.8L957.4 788.2L956.9 788.7L955.8 787.6L955.3 787.3L953.5 788.2L952.0 787.4L950.7 787.0L950.1 785.4L950.6 783.8L949.6 783.2L950.2 781.9L949.0 782.6L950.4 779.1L950.9 778.3L949.0 780.2L946.9 781.9L946.5 782.1L946.4 780.2L945.9 778.8L945.4 777.7L943.5 777.5L942.5 776.7L939.8 776.9L936.7 777.8L935.4 778.0L932.9 779.1L931.1 780.5L929.1 780.5L926.4 780.5L923.1 782.2L920.6 781.9L919.6 781.1L920.1 780.0L921.3 779.1L921.8 777.5L922.1 775.1L922.1 773.6L922.0 772.3L921.9 770.4L921.4 768.4L921.9 766.5L922.6 764.9L923.0 762.7L923.9 761.4L925.8 760.6L927.8 759.5L930.2 759.0L932.4 758.4L934.7 757.0L935.9 755.4L936.3 753.8L938.1 753.0L938.0 754.3L939.6 752.3L940.6 750.7L942.2 749.1L943.6 748.9L945.0 750.4L946.8 750.5L947.5 748.3L948.7 746.7L950.1 746.3L951.7 745.2L953.0 745.6L955.0 746.3L957.1 745.9L957.6 746.4L956.1 748.3L955.1 750.4L956.2 751.9L957.9 752.7L959.5 754.3L961.6 754.8L963.2 751.5L964.0 748.3L964.4 746.7L965.2 744.2zM607.3 844.6L617.0 844.9L624.7 844.4L627.6 843.5L630.4 842.6L632.9 841.4L636.6 840.8L640.4 840.1L644.7 839.9L653.7 839.5L664.0 840.1L669.1 840.5L672.1 838.9L676.3 838.3L680.9 838.0L686.0 838.3L691.0 838.5L694.7 837.0L697.0 833.1L698.5 830.4L699.5 828.3L701.8 826.6L705.5 825.2L706.4 826.2L704.4 827.6L704.1 829.0L703.7 830.4L702.7 832.4L705.9 834.4L708.4 837.0L710.4 839.5L711.2 841.4L714.8 842.6L722.8 843.8L732.2 844.4L736.5 844.1L740.5 842.6L742.8 841.4L744.4 840.1L748.8 838.9L753.5 838.0L757.1 836.1L760.1 835.3L763.0 835.0L768.0 834.1L773.0 834.4L778.0 834.2L783.1 834.1L788.0 834.4L793.0 834.6L798.2 833.7L801.5 832.8L803.4 833.5L806.2 834.1L808.6 833.1L814.2 831.4L819.8 830.4L823.6 829.0L827.2 830.1L830.0 830.8L833.0 831.0L836.9 831.4L839.4 832.4L841.4 834.0L843.6 833.7L847.5 832.4L850.2 831.4L852.8 830.6L856.3 830.1L859.5 829.9L861.5 830.1L865.0 829.7L867.0 829.7L873.0 828.7L876.5 828.3L877.7 829.4L883.1 829.3L886.7 828.7L887.9 829.7L892.7 830.1L898.5 829.5L904.0 829.3L909.5 829.0L913.6 829.9L916.3 830.4L917.5 831.0L921.1 832.3L925.1 833.1L928.3 834.4L930.4 835.0L932.8 835.4L935.3 836.3L931.1 838.3L923.8 840.8L916.8 843.2L917.6 844.1L921.3 843.9L924.7 844.4L928.7 844.6M654.2 653.4L657.5 651.8L660.3 651.0L662.9 650.7L663.8 652.2L663.0 653.8L660.3 653.8L658.9 652.7L656.1 653.4zM656.4 660.8L658.0 660.8L659.6 657.6L662.2 655.0L661.0 654.8L658.7 656.1L657.3 658.4zM663.0 654.7L663.6 656.1L663.3 657.6L663.8 658.9L665.0 658.4L666.2 656.5L667.8 656.7L667.7 655.3L666.2 654.4zM662.0 661.1L664.1 661.4L667.9 659.7L666.0 659.8L663.2 660.6zM667.4 658.7L669.5 658.7L671.9 658.1L671.9 657.3L669.9 657.8zM651.0 647.6L652.3 646.9L652.2 644.6L652.1 642.8L651.0 643.5L651.1 645.3zM638.9 632.0L641.0 632.2L645.7 630.6L649.3 629.5L647.8 629.3L643.7 630.3L641.0 630.9zM636.1 626.4L639.8 626.4L643.3 625.0L645.5 623.8L642.5 623.6L639.4 624.7L636.3 625.7zM642.3 635.4L645.7 634.6L649.3 634.4L646.0 634.2zM812.6 730.9L814.7 730.9L815.4 728.6L815.1 726.5L813.0 726.5L812.2 728.6zM808.8 732.5L809.4 734.9L810.7 738.8L811.1 740.7L810.1 739.6L808.8 735.7zM815.2 742.2L816.0 743.6L816.4 747.5L816.6 749.6L815.8 749.1L815.5 745.9L815.2 743.6zM786.7 707.0L788.1 707.0L788.5 705.5L787.1 705.2zM892.2 645.9L894.0 645.6L895.5 643.4L895.6 640.5L894.6 639.6L894.2 641.1L894.0 643.8L892.6 645.3zM859.6 655.3L860.8 653.4L864.0 653.8L866.1 653.6L863.8 653.3L860.6 653.0L859.5 654.1zM802.3 633.5L804.1 633.1L804.1 631.8L801.5 631.3L801.2 632.3zM806.1 632.0L807.6 631.8L806.6 629.9L805.4 630.2zM671.4 751.5L672.9 752.6L672.5 753.0L671.5 752.3zM782.1 635.7L783.6 635.5L783.7 634.5L782.6 634.5zM841.5 658.3L842.9 658.1L844.8 656.9L844.1 654.8L842.3 653.6L841.1 654.8L841.2 656.5z"/>
</g>
<path d="M634.4 599.7L901.6 599.7M634.4 854.3L901.6 854.3" fill="none" stroke="#a0a0a0" stroke-width="0.9"/><path d="M634.4 854.3L629.8 853.0L624.4 851.3L618.4 849.1L612.1 846.6L605.5 843.8L599.0 840.8L593.1 837.6L587.6 834.4L582.4 831.0L577.3 827.6L572.4 824.1L567.6 820.5L562.9 816.9L558.4 813.2L554.1 809.4L550.2 805.6L546.5 801.8L543.1 797.9L539.8 794.0L536.7 790.1L533.9 786.2L531.4 782.2L529.1 778.3L527.0 774.4L525.3 770.4L523.8 766.5L522.5 762.5L521.5 758.6L520.4 754.6L519.5 750.7L518.8 746.7L518.2 742.8L517.7 738.8L517.4 734.9L517.1 730.9L517.0 727.0L517.1 723.1L517.4 719.1L517.7 715.2L518.2 711.2L518.8 707.3L519.5 703.3L520.4 699.4L521.5 695.4L522.5 691.5L523.8 687.5L525.3 683.6L527.0 679.6L529.1 675.7L531.4 671.8L533.9 667.8L536.7 663.9L539.8 660.0L543.1 656.1L546.5 652.2L550.2 648.4L554.1 644.6L558.4 640.8L562.9 637.1L567.6 633.5L572.4 629.9L577.3 626.4L582.4 623.0L587.6 619.6L593.1 616.4L599.0 613.2L605.5 610.2L612.1 607.4L618.4 604.9L624.4 602.7L629.8 601.0L634.4 599.7M901.6 854.3L906.2 853.0L911.6 851.3L917.6 849.1L923.9 846.6L930.5 843.8L937.0 840.8L942.9 837.6L948.4 834.4L953.6 831.0L958.7 827.6L963.6 824.1L968.4 820.5L973.1 816.9L977.6 813.2L981.9 809.4L985.8 805.6L989.5 801.8L992.9 797.9L996.2 794.0L999.3 790.1L1002.1 786.2L1004.6 782.2L1006.9 778.3L1009.0 774.4L1010.7 770.4L1012.2 766.5L1013.5 762.5L1014.5 758.6L1015.6 754.6L1016.5 750.7L1017.2 746.7L1017.8 742.8L1018.3 738.8L1018.6 734.9L1018.9 730.9L1019.0 727.0L1018.9 723.1L1018.6 719.1L1018.3 715.2L1017.8 711.2L1017.2 707.3L1016.5 703.3L1015.6 699.4L1014.5 695.4L1013.5 691.5L1012.2 687.5L1010.7 683.6L1009.0 679.6L1006.9 675.7L1004.6 671.8L1002.1 667.8L999.3 663.9L996.2 660.0L992.9 656.1L989.5 652.2L985.8 648.4L981.9 644.6L977.6 640.8L973.1 637.1L968.4 633.5L963.6 629.9L958.7 626.4L953.6 623.0L948.4 619.6L942.9 616.4L937.0 613.2L930.5 610.2L923.9 607.4L917.6 604.9L911.6 602.7L906.2 601.0L901.6 599.7" fill="none" stroke="#222" stroke-width="0.75"/>
<text x="512.8" y="119.5" font-size="28.15" text-anchor="middle">ANN DSTDEP (kg/m2/d)</text>
<text x="256.6" y="160.5" font-size="22.9" text-anchor="middle">b.e21.B1850G.f19_g17.9kaControl.001</text>
<text x="256.2" y="185.7" font-size="23.3" text-anchor="middle">(yrs 271-300)</text>
<text x="768" y="160.5" font-size="23.05" text-anchor="middle">b.e21.B1850.f19_g17.CMIP6-piControl-2deg.002</text>
<text x="770.6" y="185.7" font-size="23.3" text-anchor="middle">(yrs 771-800)</text>
<text x="257" y="565" font-size="22.9" text-anchor="middle">b.e21.B1850G.f19_g17.9kaControl.001</text>
<text x="255.3" y="590.6" font-size="23.0" text-anchor="middle">- b.e21.B1850.f19_g17.CMIP6-piControl-2deg.002</text>
<text x="767.8" y="581" font-size="23.2" text-anchor="middle">T-Test of two Case means at each grid point</text>
<text x="766.2" y="914.6" font-size="18.55" text-anchor="middle">Cells are significant at 0.1 level</text>
<rect x="48.10" y="479" width="44.63" height="22.3" fill="#3c14f0"/>
<rect x="92.53" y="479" width="44.63" height="22.3" fill="#3a5ce0"/>
<rect x="136.97" y="479" width="44.63" height="22.3" fill="#1896fa"/>
<rect x="181.40" y="479" width="44.63" height="22.3" fill="#52bef2"/>
<rect x="225.83" y="479" width="44.63" height="22.3" fill="#c6e4f8"/>
<rect x="270.27" y="479" width="44.63" height="22.3" fill="#ffd22a"/>
<rect x="314.70" y="479" width="44.63" height="22.3" fill="#ff8c00"/>
<rect x="359.13" y="479" width="44.63" height="22.3" fill="#ff0000"/>
<rect x="403.57" y="479" width="44.63" height="22.3" fill="#d02828"/>
<path d="M48.10 479v22.3M92.53 479v22.3M136.97 479v22.3M181.40 479v22.3M225.83 479v22.3M270.27 479v22.3M314.70 479v22.3M359.13 479v22.3M403.57 479v22.3M448.00 479v22.3M48.1 479h399.9M48.1 501.3h399.9" stroke="#000" stroke-width="0.7" fill="none"/>
<text x="48.1" y="521.5" font-size="18.3" text-anchor="middle">.00000</text>
<text x="181.4" y="521.5" font-size="18.3" text-anchor="middle">.00003</text>
<text x="270.3" y="521.5" font-size="18.3" text-anchor="middle">.00005</text>
<text x="359.1" y="521.5" font-size="18.3" text-anchor="middle">.00007</text>
<text x="448.0" y="521.5" font-size="18.3" text-anchor="middle">.00096667</text>
<rect x="560.10" y="479" width="44.63" height="22.3" fill="#3c14f0"/>
<rect x="604.53" y="479" width="44.63" height="22.3" fill="#3a5ce0"/>
<rect x="648.97" y="479" width="44.63" height="22.3" fill="#1896fa"/>
<rect x="693.40" y="479" width="44.63" height="22.3" fill="#52bef2"/>
<rect x="737.83" y="479" width="44.63" height="22.3" fill="#c6e4f8"/>
<rect x="782.27" y="479" width="44.63" height="22.3" fill="#ffd22a"/>
<rect x="826.70" y="479" width="44.63" height="22.3" fill="#ff8c00"/>
<rect x="871.13" y="479" width="44.63" height="22.3" fill="#ff0000"/>
<rect x="915.57" y="479" width="44.63" height="22.3" fill="#d02828"/>
<path d="M560.10 479v22.3M604.53 479v22.3M648.97 479v22.3M693.40 479v22.3M737.83 479v22.3M782.27 479v22.3M826.70 479v22.3M871.13 479v22.3M915.57 479v22.3M960.00 479v22.3M560.1 479h399.9M560.1 501.3h399.9" stroke="#000" stroke-width="0.7" fill="none"/>
<text x="560.1" y="521.5" font-size="18.3" text-anchor="middle">.00000</text>
<text x="693.4" y="521.5" font-size="18.3" text-anchor="middle">.00003</text>
<text x="782.3" y="521.5" font-size="18.3" text-anchor="middle">.00005</text>
<text x="871.1" y="521.5" font-size="18.3" text-anchor="middle">.00007</text>
<text x="960.0" y="521.5" font-size="18.3" text-anchor="middle">.00090292</text>
<rect x="52.50" y="883.6" width="34.33" height="23.1" fill="#3c14f0"/>
<rect x="86.62" y="883.6" width="34.33" height="23.1" fill="#2a3ce0"/>
<rect x="120.75" y="883.6" width="34.33" height="23.1" fill="#3a78e8"/>
<rect x="154.88" y="883.6" width="34.33" height="23.1" fill="#18a0f8"/>
<rect x="189.00" y="883.6" width="34.33" height="23.1" fill="#48bef0"/>
<rect x="223.12" y="883.6" width="34.33" height="23.1" fill="#a8d8f0"/>
<rect x="257.25" y="883.6" width="34.33" height="23.1" fill="#fff88c"/>
<rect x="291.38" y="883.6" width="34.33" height="23.1" fill="#ffd028"/>
<rect x="325.50" y="883.6" width="34.33" height="23.1" fill="#ff9600"/>
<rect x="359.62" y="883.6" width="34.33" height="23.1" fill="#ff5000"/>
<rect x="393.75" y="883.6" width="34.33" height="23.1" fill="#e80000"/>
<rect x="427.88" y="883.6" width="34.33" height="23.1" fill="#d02828"/>
<path d="M52.50 883.6v23.1M86.62 883.6v23.1M120.75 883.6v23.1M154.88 883.6v23.1M189.00 883.6v23.1M223.12 883.6v23.1M257.25 883.6v23.1M291.38 883.6v23.1M325.50 883.6v23.1M359.62 883.6v23.1M393.75 883.6v23.1M427.88 883.6v23.1M462.00 883.6v23.1M52.5 883.6h409.5M52.5 906.7h409.5" stroke="#000" stroke-width="0.7" fill="none"/>
<text x="52.5" y="926.5" font-size="18.3" text-anchor="middle">-.00008669</text>
<text x="154.9" y="926.5" font-size="18.3" text-anchor="middle">-.000012</text>
<text x="257.2" y="926.5" font-size="18.3" text-anchor="middle">.00000</text>
<text x="359.6" y="926.5" font-size="18.3" text-anchor="middle">.000012</text>
<text x="462.0" y="926.5" font-size="18.3" text-anchor="middle">.00023459</text>
</svg></body></html>
